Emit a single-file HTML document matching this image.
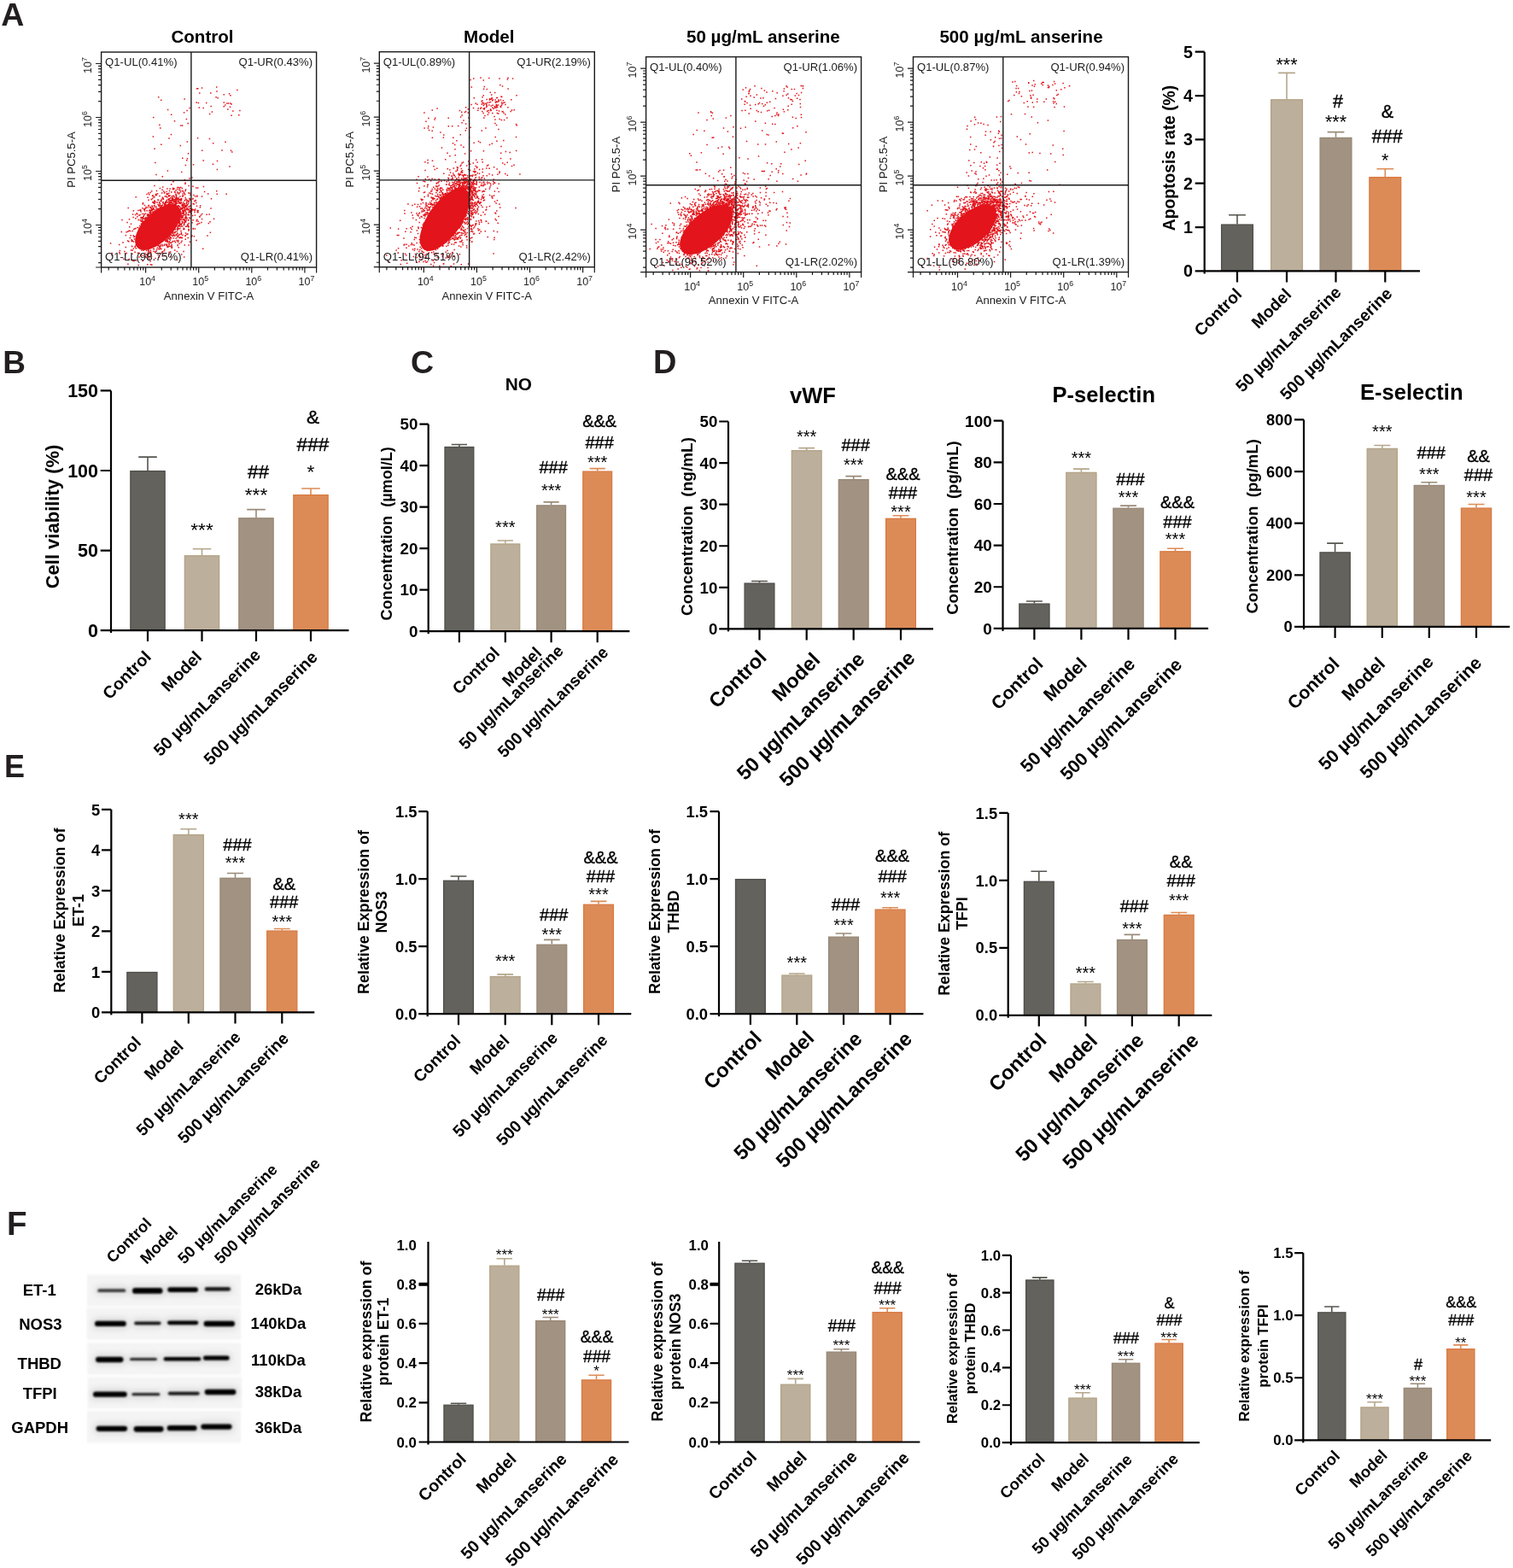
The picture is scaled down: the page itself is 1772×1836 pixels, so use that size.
<!DOCTYPE html>
<html><head><meta charset="utf-8"><title>Figure</title>
<style>html,body{margin:0;padding:0;background:#fff;}svg{display:block;}</style>
</head><body>
<svg width="1772" height="1836" viewBox="0 0 1772 1836" font-family='"Liberation Sans", Arial, Helvetica, sans-serif'>
<rect width="1772" height="1836" fill="#fff"/>
<defs><filter id="bl" x="-20%" y="-200%" width="140%" height="500%"><feGaussianBlur stdDeviation="0.85"/></filter><filter id="bh" x="-30%" y="-300%" width="160%" height="700%"><feGaussianBlur stdDeviation="3.5"/></filter><filter id="bs" x="-5%" y="-20%" width="110%" height="140%"><feGaussianBlur stdDeviation="0.8"/></filter></defs>
<rect x="101.8" y="1492.2" width="180.2" height="37.4" fill="#f4f4f4" filter="url(#bs)"/>
<rect x="101.5" y="1531.2" width="180.5" height="37.4" fill="#f4f4f4" filter="url(#bs)"/>
<rect x="102.2" y="1572.2" width="179.9" height="37.4" fill="#f4f4f4" filter="url(#bs)"/>
<rect x="102.7" y="1612.3" width="180.5" height="36.9" fill="#f4f4f4" filter="url(#bs)"/>
<rect x="101.8" y="1651.9" width="180.3" height="37.5" fill="#f4f4f4" filter="url(#bs)"/>
<rect x="111.3" y="1505.7" width="39" height="11" rx="6" fill="#000" fill-opacity="0.10" filter="url(#bh)"/>
<rect x="152" y="1504.4" width="41.5" height="14" rx="6" fill="#000" fill-opacity="0.10" filter="url(#bh)"/>
<rect x="193.2" y="1503.6" width="41.8" height="13" rx="6" fill="#000" fill-opacity="0.10" filter="url(#bh)"/>
<rect x="236.7" y="1503.7" width="36.3" height="11.4" rx="6" fill="#000" fill-opacity="0.10" filter="url(#bh)"/>
<rect x="108" y="1543.15" width="42.8" height="13.5" rx="6" fill="#000" fill-opacity="0.10" filter="url(#bh)"/>
<rect x="154.2" y="1544" width="37.3" height="10.8" rx="6" fill="#000" fill-opacity="0.10" filter="url(#bh)"/>
<rect x="193" y="1542.85" width="42.3" height="11.9" rx="6" fill="#000" fill-opacity="0.10" filter="url(#bh)"/>
<rect x="235.6" y="1543.2" width="42.4" height="13.6" rx="6" fill="#000" fill-opacity="0.10" filter="url(#bh)"/>
<rect x="109" y="1585.25" width="38.5" height="13.5" rx="6" fill="#000" fill-opacity="0.10" filter="url(#bh)"/>
<rect x="149" y="1586.3" width="37.9" height="10.2" rx="6" fill="#000" fill-opacity="0.10" filter="url(#bh)"/>
<rect x="188.6" y="1585.3" width="49.7" height="11.8" rx="6" fill="#000" fill-opacity="0.10" filter="url(#bh)"/>
<rect x="235" y="1583.9" width="36.7" height="12.4" rx="6" fill="#000" fill-opacity="0.10" filter="url(#bh)"/>
<rect x="106" y="1625.95" width="45.7" height="13.5" rx="6" fill="#000" fill-opacity="0.10" filter="url(#bh)"/>
<rect x="151.4" y="1627.5" width="39" height="10.4" rx="6" fill="#000" fill-opacity="0.10" filter="url(#bh)"/>
<rect x="193.8" y="1626.05" width="42.9" height="11.1" rx="6" fill="#000" fill-opacity="0.10" filter="url(#bh)"/>
<rect x="236.7" y="1623.25" width="42.7" height="13.5" rx="6" fill="#000" fill-opacity="0.10" filter="url(#bh)"/>
<rect x="109.6" y="1666.05" width="42.5" height="13.5" rx="6" fill="#000" fill-opacity="0.10" filter="url(#bh)"/>
<rect x="153.6" y="1666.3" width="41" height="14" rx="6" fill="#000" fill-opacity="0.10" filter="url(#bh)"/>
<rect x="192.7" y="1665.45" width="40.9" height="13.5" rx="6" fill="#000" fill-opacity="0.10" filter="url(#bh)"/>
<rect x="232.3" y="1663.85" width="42.3" height="13.5" rx="6" fill="#000" fill-opacity="0.10" filter="url(#bh)"/>
<rect x="114.3" y="1509.3" width="33" height="3.8" rx="1.9" fill="#3a3a3a" filter="url(#bl)"/>
<rect x="155" y="1508" width="35.5" height="6.8" rx="3.4" fill="#000" filter="url(#bl)"/>
<rect x="196.2" y="1507.2" width="35.8" height="5.8" rx="2.9" fill="#000" filter="url(#bl)"/>
<rect x="239.7" y="1507.3" width="30.3" height="4.2" rx="2.1" fill="#080808" filter="url(#bl)"/>
<rect x="111" y="1546.75" width="36.8" height="6.3" rx="3.15" fill="#000" filter="url(#bl)"/>
<rect x="157.2" y="1547.6" width="31.3" height="3.6" rx="1.8" fill="#101010" filter="url(#bl)"/>
<rect x="196" y="1546.45" width="36.3" height="4.7" rx="2.35" fill="#000" filter="url(#bl)"/>
<rect x="238.6" y="1546.8" width="36.4" height="6.4" rx="3.2" fill="#000" filter="url(#bl)"/>
<rect x="112" y="1588.85" width="32.5" height="6.3" rx="3.15" fill="#000" filter="url(#bl)"/>
<rect x="152" y="1589.9" width="31.9" height="3" rx="1.5" fill="#202020" filter="url(#bl)"/>
<rect x="191.6" y="1588.9" width="43.7" height="4.6" rx="2.3" fill="#000" filter="url(#bl)"/>
<rect x="238" y="1587.5" width="30.7" height="5.2" rx="2.6" fill="#000" filter="url(#bl)"/>
<rect x="109" y="1629.55" width="39.7" height="6.3" rx="3.15" fill="#000" filter="url(#bl)"/>
<rect x="154.4" y="1631.1" width="33" height="3.2" rx="1.6" fill="#202020" filter="url(#bl)"/>
<rect x="196.8" y="1629.65" width="36.9" height="3.9" rx="1.95" fill="#0a0a0a" filter="url(#bl)"/>
<rect x="239.7" y="1626.85" width="36.7" height="6.3" rx="3.15" fill="#000" filter="url(#bl)"/>
<rect x="112.6" y="1669.65" width="36.5" height="6.3" rx="3.15" fill="#000" filter="url(#bl)"/>
<rect x="156.6" y="1669.9" width="35" height="6.8" rx="3.4" fill="#000" filter="url(#bl)"/>
<rect x="195.7" y="1669.05" width="34.9" height="6.3" rx="3.15" fill="#000" filter="url(#bl)"/>
<rect x="235.3" y="1667.45" width="36.3" height="6.3" rx="3.15" fill="#000" filter="url(#bl)"/>
<text x="46.3" y="1517.2" font-size="18.5" font-weight="bold" text-anchor="middle" fill="#000">ET-1</text>
<text x="47.4" y="1556.7" font-size="18.5" font-weight="bold" text-anchor="middle" fill="#000">NOS3</text>
<text x="46.3" y="1603" font-size="18.5" font-weight="bold" text-anchor="middle" fill="#000">THBD</text>
<text x="46.7" y="1638" font-size="18.5" font-weight="bold" text-anchor="middle" fill="#000">TFPI</text>
<text x="46.7" y="1677.5" font-size="18.5" font-weight="bold" text-anchor="middle" fill="#000">GAPDH</text>
<text x="326" y="1516.1" font-size="18.5" font-weight="bold" text-anchor="middle" fill="#000">26kDa</text>
<text x="326" y="1556.3" font-size="18.5" font-weight="bold" text-anchor="middle" fill="#000">140kDa</text>
<text x="326" y="1599.2" font-size="18.5" font-weight="bold" text-anchor="middle" fill="#000">110kDa</text>
<text x="326" y="1635.8" font-size="18.5" font-weight="bold" text-anchor="middle" fill="#000">38kDa</text>
<text x="326" y="1677.5" font-size="18.5" font-weight="bold" text-anchor="middle" fill="#000">36kDa</text>
<text x="132.3" y="1479.8" font-size="18.4" font-weight="bold" transform="rotate(-45 132.3 1479.8)" fill="#000">Control</text>
<text x="171.8" y="1480.9" font-size="18.4" font-weight="bold" transform="rotate(-45 171.8 1480.9)" fill="#000">Model</text>
<text x="215.8" y="1480.9" font-size="18.4" font-weight="bold" transform="rotate(-45 215.8 1480.9)" fill="#000">50 µg/mLanserine</text>
<text x="258.7" y="1480.9" font-size="18.4" font-weight="bold" transform="rotate(-45 258.7 1480.9)" fill="#000">500 µg/mLanserine</text>
<path d="M218.9 243.6h0M160.9 279.1h0M180.0 231.0h0M212.3 232.9h0M221.5 251.8h0M151.2 303.6h0M195.5 287.6h0M197.9 284.8h0M149.1 260.5h0M151.1 270.2h0M197.4 238.8h0M179.2 228.9h0M187.0 236.8h0M165.2 255.5h0M190.5 294.8h0M203.2 276.1h0M228.4 251.9h0M179.7 291.4h0M224.6 247.0h0M172.5 251.7h0M234.4 242.7h0M169.1 246.0h0M156.9 277.5h0M166.4 259.5h0M215.3 267.3h0M214.8 252.4h0M171.8 255.4h0M195.3 237.1h0M214.6 243.0h0M229.1 234.4h0M176.9 249.9h0M209.6 264.3h0M166.3 255.0h0M194.9 282.8h0M176.6 243.4h0M175.1 252.0h0M191.4 233.3h0M164.0 267.1h0M208.1 287.6h0M195.7 234.3h0M212.5 273.0h0M157.8 276.7h0M197.9 288.1h0M172.8 309.8h0M184.6 226.7h0M162.5 270.4h0M199.5 236.4h0M214.0 226.9h0M159.5 304.8h0M198.0 236.2h0M212.3 236.9h0M153.2 275.7h0M212.1 263.2h0M207.4 294.6h0M173.9 297.4h0M217.3 280.3h0M171.4 258.9h0M161.9 246.4h0M131.2 296.5h0M183.4 228.4h0M223.0 228.3h0M213.0 278.7h0M168.2 253.3h0M215.7 262.5h0M220.8 225.9h0M139.7 286.4h0M212.3 262.1h0M236.5 229.9h0M216.5 251.5h0M187.6 245.0h0M173.4 298.4h0M219.2 255.4h0M206.2 278.9h0M198.2 239.0h0M221.1 236.2h0M220.1 262.6h0M181.8 248.3h0M184.1 237.0h0M195.1 240.0h0M188.0 288.5h0M211.2 224.5h0M154.7 281.8h0M174.3 294.1h0M211.5 224.8h0M192.8 243.5h0M216.9 276.3h0M218.2 250.5h0M175.0 251.6h0M195.9 220.9h0M218.0 245.0h0M221.2 217.4h0M202.9 221.8h0M212.7 297.9h0M224.3 276.8h0M198.0 279.1h0M222.8 241.1h0M193.1 286.0h0M236.7 250.6h0M179.6 247.9h0M210.3 220.3h0M180.5 241.2h0M209.4 275.5h0M154.5 288.3h0M214.9 268.4h0M165.3 259.3h0M211.5 250.9h0M203.8 275.0h0M174.7 246.6h0M159.2 230.7h0M214.2 241.8h0M189.9 244.7h0M169.9 300.8h0M199.6 237.9h0M160.9 250.7h0M208.7 241.2h0M200.7 278.4h0M208.1 287.0h0M174.9 255.4h0M200.4 275.3h0M178.3 242.3h0M196.1 280.0h0M209.8 263.6h0M214.3 223.8h0M150.8 282.8h0M161.2 272.7h0M212.7 237.6h0M161.6 266.6h0M212.3 254.4h0M167.4 237.8h0M203.6 236.6h0M217.4 193.4h0M209.4 267.7h0M165.0 247.8h0M180.5 291.5h0M195.0 280.7h0M158.9 267.5h0M189.8 295.3h0M163.0 252.3h0M179.0 244.8h0M212.8 254.9h0M220.4 251.1h0M148.3 296.6h0M131.2 299.0h0M168.0 263.3h0M193.2 229.9h0M173.2 243.0h0M170.6 255.4h0M151.5 256.8h0M167.8 255.4h0M207.3 268.1h0M202.7 220.2h0M213.4 220.4h0M183.8 291.9h0M189.9 286.4h0M182.3 241.9h0M233.7 253.5h0M237.7 291.2h0M185.0 234.1h0M229.7 237.6h0M160.3 286.6h0M198.7 277.1h0M210.1 278.4h0M193.8 236.6h0M215.4 225.2h0M234.1 254.1h0M154.8 297.3h0M170.1 259.0h0M220.7 245.8h0M203.0 212.8h0M199.8 279.0h0M179.2 248.1h0M217.6 260.0h0M189.2 241.0h0M195.5 240.8h0M226.8 245.8h0M207.8 273.2h0M153.6 292.9h0M214.5 248.7h0M177.5 245.1h0M206.2 236.8h0M211.2 253.5h0M179.3 236.9h0M180.8 236.8h0M187.0 289.6h0M192.2 293.8h0M160.8 253.7h0M185.6 245.5h0M218.5 238.4h0M178.6 229.4h0M219.8 273.9h0M228.7 245.1h0M199.6 295.1h0M190.5 288.1h0M146.0 294.6h0M163.0 268.1h0M156.2 275.8h0M205.3 235.7h0M228.4 268.0h0M219.0 241.0h0M215.9 260.9h0M182.9 242.1h0M144.8 303.2h0M173.6 293.0h0M167.9 259.0h0M174.3 252.2h0M186.0 287.8h0M206.6 228.9h0M175.7 249.9h0M198.3 229.3h0M212.6 232.7h0M204.8 240.6h0M190.0 222.2h0M198.5 223.4h0M160.1 249.8h0M204.2 272.0h0M166.3 257.3h0M178.0 246.5h0M213.6 259.5h0M144.0 283.9h0M195.4 286.0h0M217.3 255.7h0M209.5 245.1h0M196.3 283.5h0M176.5 309.8h0M212.0 257.2h0M198.9 229.0h0M195.9 281.7h0M187.4 220.5h0M155.3 293.0h0M254.4 198.4h0M231.3 248.2h0M168.7 244.7h0M180.3 243.5h0M208.5 276.6h0M216.6 259.5h0M178.6 232.6h0M216.4 257.2h0M173.5 255.4h0M221.4 241.9h0M199.2 221.0h0M202.8 282.6h0M217.3 247.9h0M173.1 231.2h0M193.6 240.5h0M201.8 234.8h0M181.8 295.7h0M188.1 287.0h0M174.3 302.0h0M206.5 236.5h0M193.0 239.1h0M184.2 237.0h0M201.8 276.2h0M198.8 283.3h0M209.6 264.8h0M163.3 296.5h0M201.4 290.3h0M182.9 246.5h0M166.4 261.5h0M209.1 261.0h0M217.5 273.1h0M175.7 295.4h0M195.8 282.6h0M209.1 240.8h0M230.8 257.3h0M212.2 251.4h0M220.5 264.5h0M172.6 299.9h0M168.2 252.9h0M200.3 234.7h0M173.5 251.3h0M211.2 278.0h0M164.7 246.3h0M155.2 270.6h0M216.3 210.6h0M232.2 246.8h0M142.3 271.5h0M170.0 255.5h0M201.9 240.3h0M176.8 298.7h0M165.3 262.2h0M198.5 237.2h0M196.4 227.2h0M201.3 237.2h0M177.9 310.3h0M176.5 253.6h0M217.0 246.2h0M174.7 227.7h0M179.7 250.9h0M174.5 254.5h0M196.2 281.9h0M217.7 265.3h0M226.6 192.7h0M221.2 287.1h0M177.5 300.5h0M175.3 253.8h0M233.7 261.5h0M214.2 250.4h0M161.2 266.6h0M169.0 251.5h0M220.9 248.6h0M173.8 292.5h0M224.5 246.6h0M196.8 278.4h0M204.6 282.2h0M191.2 236.4h0M157.0 305.8h0M195.5 234.3h0M140.4 293.6h0M208.6 277.1h0M174.2 240.5h0M211.6 254.4h0M148.1 271.7h0M206.0 222.9h0M206.6 233.8h0M216.9 215.2h0M230.0 281.6h0M215.7 300.9h0M152.6 270.5h0M208.0 269.2h0M172.7 255.0h0M176.2 225.5h0M178.3 245.7h0M214.2 243.4h0M226.9 228.5h0M193.9 282.4h0M178.1 241.0h0M212.1 257.2h0M217.1 214.0h0M213.9 260.1h0M206.1 274.9h0M207.1 271.1h0M215.3 239.0h0M205.3 237.2h0M217.3 275.8h0M221.2 265.8h0M205.5 283.7h0M166.0 262.9h0M214.9 236.9h0M173.8 241.0h0M214.7 229.1h0M216.3 234.8h0M189.4 233.3h0M180.7 235.5h0M188.1 235.1h0M207.9 241.2h0M217.5 242.0h0M221.0 270.0h0M197.3 241.2h0M216.2 234.5h0M176.0 306.1h0M168.1 260.1h0M170.9 243.8h0M177.7 223.8h0M179.8 245.3h0M214.7 256.7h0M160.0 287.6h0M198.7 275.9h0M206.5 237.0h0M175.7 243.1h0M182.9 243.8h0M195.7 280.9h0M189.7 226.0h0M177.6 246.3h0M169.2 256.7h0M194.8 287.0h0M165.0 298.3h0M230.3 258.8h0M212.0 270.6h0M159.3 287.1h0M171.3 301.1h0M206.6 233.3h0M165.2 254.4h0M162.2 310.5h0M173.7 295.3h0M201.0 289.9h0M213.4 245.0h0M221.7 232.5h0M192.8 292.0h0M221.3 261.6h0M195.8 231.0h0M201.7 276.0h0M226.0 218.2h0M140.4 296.9h0M212.4 272.5h0M156.4 290.9h0M246.4 272.2h0M223.6 248.0h0M202.8 274.1h0M221.3 245.5h0M208.7 283.1h0M200.9 287.9h0M207.0 281.5h0M183.3 293.9h0M213.3 240.3h0M230.9 229.9h0M225.6 252.5h0M213.2 253.6h0M197.6 239.9h0M155.2 305.0h0M187.6 238.8h0M185.0 244.3h0M209.9 285.3h0M198.0 277.0h0M186.6 211.2h0M222.6 255.6h0M183.9 245.2h0M196.1 289.4h0M177.0 252.7h0M197.8 238.8h0M169.9 255.6h0M226.3 238.5h0M185.9 291.5h0M220.8 265.4h0M213.2 278.3h0M198.1 286.2h0M202.5 221.2h0M210.6 263.4h0M204.8 276.2h0M177.1 243.5h0M194.1 281.5h0M196.4 200.1h0M225.0 276.1h0M208.3 265.7h0M212.5 232.5h0M150.2 243.6h0M167.3 260.6h0M226.2 268.1h0M190.2 299.5h0M186.5 288.9h0M185.2 298.2h0M194.9 230.0h0M231.2 246.4h0M158.3 288.6h0M211.6 247.8h0M170.0 296.5h0M199.5 281.1h0M200.7 216.0h0M217.6 250.8h0M158.1 289.3h0M176.5 295.1h0M172.2 246.8h0M166.3 254.7h0M222.4 226.2h0M213.9 275.2h0M217.2 231.4h0M182.0 294.6h0M164.8 267.4h0M210.5 261.2h0M166.9 243.7h0M178.7 229.0h0M175.7 245.9h0M238.4 218.4h0M212.4 255.4h0M191.3 232.4h0M198.2 234.5h0M199.4 277.6h0M225.1 260.7h0M158.0 267.8h0M177.3 233.4h0M192.7 299.5h0M209.9 226.1h0M211.1 265.6h0M225.0 245.1h0M167.4 256.2h0M201.2 230.1h0M182.0 302.5h0M216.0 245.2h0M217.3 240.5h0M212.1 274.5h0M221.3 268.9h0M207.8 273.6h0M179.0 248.6h0M174.8 254.1h0M175.1 248.5h0M197.1 288.9h0M173.2 250.7h0M176.9 296.4h0M222.2 247.0h0M226.4 267.4h0M218.7 236.6h0M175.8 242.3h0M210.1 274.4h0M220.2 278.4h0M192.7 239.1h0M180.1 238.0h0M164.3 257.7h0M212.7 234.0h0M192.4 287.3h0M218.6 257.5h0M202.3 232.7h0M222.4 283.2h0M210.8 263.1h0M212.2 274.3h0M198.0 295.5h0M178.8 236.8h0M156.5 282.9h0M188.8 235.1h0M206.2 239.0h0M200.3 274.9h0M213.6 264.9h0M189.1 235.6h0M213.0 282.2h0M170.9 254.4h0M167.2 259.5h0M224.9 208.0h0M220.1 251.5h0M218.0 240.6h0M208.8 281.6h0M152.3 278.6h0M188.6 242.9h0M199.3 288.6h0M192.6 241.9h0M167.4 239.1h0M217.8 252.7h0M161.7 296.2h0M222.6 246.9h0M155.3 282.2h0M205.3 268.7h0M171.0 256.0h0M153.5 262.2h0M139.8 295.6h0M209.9 222.2h0M190.7 219.0h0M222.0 209.1h0M200.3 236.0h0M187.3 242.9h0M166.0 255.0h0M172.2 246.7h0M198.8 237.4h0M168.8 260.3h0M175.3 253.4h0M218.0 248.8h0M201.1 286.4h0M221.0 268.6h0M247.0 244.1h0M226.0 232.6h0M210.6 259.0h0M211.7 245.2h0M192.8 292.0h0M181.0 235.1h0M207.6 277.5h0M245.1 251.1h0M185.9 241.0h0M171.4 298.2h0M174.0 234.2h0M202.8 238.1h0M227.4 276.8h0M211.8 219.6h0M217.1 223.5h0M208.2 282.8h0M201.4 288.9h0M173.4 254.5h0M200.7 235.5h0M195.1 227.6h0M157.4 280.1h0M165.8 293.1h0M197.6 234.2h0M216.0 226.5h0M195.8 226.7h0M179.2 243.9h0M194.6 229.9h0M205.9 234.0h0M206.0 227.5h0M190.7 243.8h0M187.0 229.4h0M219.0 265.0h0M158.1 295.2h0M207.8 219.4h0M194.8 235.5h0M204.8 293.1h0M220.3 235.6h0M210.6 246.6h0M190.3 206.8h0M163.7 267.0h0M167.6 254.3h0M214.2 254.7h0M164.1 251.5h0M169.9 244.4h0M146.7 298.1h0M176.8 248.4h0M186.8 240.1h0M180.7 248.0h0M202.0 272.9h0M182.8 227.3h0M212.7 252.5h0M213.0 240.7h0M222.4 248.8h0M190.3 231.2h0M156.1 254.4h0M209.1 289.7h0M174.7 253.0h0M154.7 288.6h0M196.7 239.7h0M219.5 243.9h0M211.6 277.8h0M192.8 225.3h0M192.3 238.3h0M185.5 244.8h0M129.6 285.1h0M181.2 238.5h0M147.4 275.5h0M185.5 234.5h0M176.4 252.4h0M216.6 227.7h0M188.9 291.4h0M215.5 263.5h0M217.7 258.7h0M169.6 247.1h0M167.6 299.2h0M171.2 291.6h0M197.4 232.9h0M198.5 280.1h0M236.0 260.4h0M212.1 284.1h0M184.9 287.5h0M159.7 279.2h0M165.1 254.9h0M166.5 258.5h0M160.5 278.6h0M213.4 223.5h0M212.6 249.6h0M265.2 227.3h0M204.8 272.8h0M168.6 250.4h0M186.8 291.7h0M219.9 263.6h0M151.7 265.7h0M220.8 238.5h0M209.1 263.8h0M159.9 279.1h0M173.9 226.0h0M191.6 223.9h0M166.6 250.6h0M211.4 248.9h0M217.7 242.2h0M223.4 247.3h0M163.8 264.6h0M167.3 305.4h0M225.9 233.0h0M230.8 229.3h0M200.7 284.3h0M235.3 251.9h0M217.3 241.2h0M215.9 246.4h0M228.3 246.6h0M202.2 231.5h0M229.2 235.0h0M216.5 243.9h0M197.9 226.2h0M210.9 222.4h0M232.1 259.3h0M194.0 281.2h0M149.9 309.2h0M163.9 246.2h0M147.3 289.4h0M173.4 252.6h0M217.4 241.0h0M171.6 293.5h0M172.1 227.5h0M215.3 250.3h0M164.4 245.7h0M219.0 245.7h0M170.6 249.9h0M222.3 244.3h0M217.6 221.9h0M215.9 268.3h0M180.0 294.3h0M210.0 245.7h0M176.6 246.7h0M216.7 255.0h0M197.9 279.6h0M212.3 263.1h0M180.8 240.7h0M162.2 257.6h0M202.1 282.9h0M206.2 231.6h0M159.3 290.8h0M192.8 240.9h0M209.6 227.1h0M198.0 297.7h0M214.6 239.2h0M186.6 237.4h0M212.8 265.0h0M234.6 240.8h0M227.3 239.0h0M206.1 228.6h0M203.4 233.5h0M203.4 278.7h0M207.6 221.5h0M214.9 249.2h0M168.0 293.2h0M210.8 256.8h0M210.8 267.8h0M215.2 246.8h0M206.9 237.4h0M163.0 301.0h0M154.3 282.5h0M187.7 290.7h0M196.3 288.5h0M215.1 294.4h0M166.3 259.0h0M176.4 247.7h0M210.6 260.2h0M208.0 238.2h0M211.0 278.6h0M202.4 232.6h0M182.9 246.1h0M202.6 272.1h0M207.5 273.5h0M156.7 268.6h0M222.7 233.1h0M213.5 239.2h0M156.4 246.7h0M169.6 256.6h0M204.0 221.0h0M199.9 284.4h0M186.5 300.9h0M158.9 255.7h0M164.7 299.4h0M158.6 251.4h0M199.8 300.6h0M203.7 235.5h0M182.1 236.6h0M149.6 281.9h0M176.4 293.3h0M204.8 234.2h0M172.7 252.7h0M184.4 289.9h0M154.1 304.3h0M211.5 253.1h0M155.6 250.9h0M207.5 304.2h0M209.8 259.8h0M216.6 257.9h0M143.0 257.4h0M207.2 275.3h0M216.9 246.4h0M182.2 228.4h0M208.3 266.9h0M223.5 233.4h0M167.2 261.1h0M216.4 238.5h0M198.0 282.8h0M173.4 296.4h0M154.1 280.7h0M186.1 245.2h0M236.6 256.6h0M175.0 304.0h0M216.3 286.9h0M218.8 274.6h0M220.4 235.2h0M220.9 257.6h0M205.3 271.6h0M149.8 271.2h0M189.8 297.1h0M169.5 240.6h0M227.6 235.6h0M209.1 234.2h0M250.5 256.2h0M199.4 239.7h0M217.0 241.2h0M215.2 248.2h0M180.9 230.5h0M199.7 256.5h0M194.3 248.2h0M209.1 252.2h0M197.9 254.5h0M192.4 249.6h0M196.6 236.8h0M197.8 229.9h0M194.3 246.8h0M210.6 242.6h0M213.9 230.0h0M203.1 250.3h0M212.2 243.8h0M226.2 245.7h0M192.3 246.4h0M188.7 253.0h0M200.5 240.0h0M206.6 242.7h0M183.5 223.6h0M200.5 245.7h0M209.2 241.3h0M195.4 244.7h0M195.2 243.9h0M188.4 240.8h0M184.7 260.5h0M199.1 252.4h0M199.1 243.4h0M204.8 236.5h0M199.0 240.3h0M210.0 236.8h0M207.4 249.6h0M196.5 244.6h0M209.7 248.7h0M206.9 258.0h0M194.1 261.7h0M193.8 237.8h0M210.1 264.1h0M194.7 230.1h0M204.0 239.2h0M223.6 247.3h0M196.8 251.3h0M210.9 230.1h0M231.9 248.8h0M203.6 242.6h0M222.9 246.8h0M206.1 227.5h0M197.4 228.7h0M205.8 248.5h0M171.2 242.6h0M186.1 248.2h0M207.9 233.6h0M203.9 246.5h0M206.1 262.2h0M207.3 231.7h0M204.4 245.1h0M203.0 241.6h0M213.6 261.4h0M218.7 237.5h0M197.2 249.6h0M206.8 262.5h0M209.4 236.3h0M189.1 245.6h0M221.3 236.6h0M203.9 245.3h0M197.5 253.5h0M216.4 244.1h0M185.1 239.4h0M203.2 244.5h0M203.5 244.8h0M196.6 243.4h0M211.6 237.8h0M209.8 248.8h0M213.7 241.1h0M185.0 247.9h0M220.7 257.9h0M213.3 259.3h0M200.5 252.3h0M197.7 239.5h0M208.4 240.9h0M194.7 251.1h0M205.9 256.6h0M190.5 240.0h0M198.6 241.7h0M211.0 233.3h0M214.5 239.3h0M215.3 257.3h0M222.2 234.6h0M200.0 250.5h0M213.2 239.9h0M211.8 244.3h0M198.2 238.3h0M216.1 242.8h0M200.1 260.8h0M205.6 232.6h0M204.8 241.8h0M200.4 246.5h0M181.1 245.9h0M193.8 248.5h0M209.5 219.6h0M208.6 249.5h0M206.1 236.9h0M216.2 251.4h0M194.2 244.9h0M217.7 254.1h0M214.6 242.5h0M215.6 257.7h0M224.2 249.9h0M208.2 248.7h0M202.9 244.0h0M203.9 239.3h0M203.7 242.3h0M208.3 242.7h0M207.6 247.9h0M206.6 265.0h0M213.6 229.5h0M191.1 252.2h0M214.7 241.1h0M206.0 243.3h0M202.1 250.7h0M193.9 237.3h0M210.6 237.2h0M204.1 246.8h0M183.7 250.2h0M203.7 260.8h0M228.7 230.0h0M204.0 239.8h0M202.5 233.9h0M192.5 226.1h0M197.0 248.0h0M207.8 268.2h0M218.2 234.4h0M202.2 256.7h0M211.1 245.8h0M192.7 242.6h0M180.9 256.5h0M210.7 249.4h0M201.4 232.5h0M202.7 250.0h0M219.5 239.8h0M188.7 249.1h0M213.7 243.4h0M210.2 260.4h0M200.0 249.4h0M208.7 250.0h0M206.2 253.2h0M202.8 229.6h0M207.0 247.3h0M202.9 240.4h0M206.5 230.5h0M217.0 241.1h0M200.8 240.7h0M189.7 246.7h0M205.8 252.6h0M205.3 246.0h0M223.0 241.5h0M205.4 238.7h0M200.1 243.4h0M188.9 241.6h0M209.1 253.9h0M209.7 261.5h0M211.1 238.5h0M202.1 252.8h0M221.7 255.0h0M210.0 257.9h0M208.7 247.9h0M213.8 245.1h0M199.9 231.8h0M195.7 246.1h0M202.1 260.0h0M195.2 224.4h0M190.7 237.8h0M194.0 239.3h0M206.0 241.2h0M199.3 245.7h0M199.8 250.1h0M204.4 241.7h0M208.6 235.9h0M199.1 234.5h0M200.0 237.8h0M202.7 234.0h0M192.2 258.5h0M226.1 257.8h0M205.2 225.6h0M212.9 243.4h0M199.6 248.4h0M209.4 257.8h0M224.6 246.7h0M197.4 245.5h0M190.5 240.5h0M193.1 252.2h0M216.5 241.5h0M208.6 247.3h0M211.7 243.4h0M214.6 239.0h0M214.3 254.8h0M203.4 247.8h0M204.7 249.1h0M210.5 246.1h0M201.5 251.2h0M208.4 265.2h0M193.0 261.3h0M207.9 251.0h0M197.6 240.1h0M207.4 244.0h0M190.0 244.5h0M204.6 239.6h0M214.1 254.8h0M195.6 241.0h0M198.2 245.4h0M214.1 247.7h0M202.1 239.2h0M219.0 255.5h0M208.7 232.9h0M213.6 245.1h0M194.0 256.5h0M209.2 231.7h0M201.2 242.4h0M198.4 249.4h0M214.3 240.5h0M224.1 246.2h0M221.9 248.1h0M214.1 256.9h0M198.0 253.8h0M195.5 243.4h0M205.0 251.5h0M186.4 245.4h0M203.6 229.2h0M186.5 241.3h0M188.7 246.5h0M193.0 239.8h0M197.7 245.9h0M207.9 224.9h0M182.7 250.8h0M193.4 247.7h0M207.3 245.4h0M204.3 247.6h0M192.2 244.9h0M208.0 250.9h0M210.6 242.1h0M205.7 245.6h0M196.6 245.0h0M206.0 240.3h0M205.1 254.3h0M198.1 265.0h0M205.4 249.4h0M213.8 246.8h0M197.6 242.3h0M210.6 248.1h0M176.6 259.1h0M200.8 238.1h0M209.7 237.0h0M208.6 235.7h0M203.0 243.7h0M213.3 249.7h0M200.8 224.9h0M195.9 247.6h0M211.2 234.4h0M205.2 241.4h0M218.5 254.9h0M208.0 226.1h0M201.6 240.0h0M204.3 230.8h0M215.6 257.8h0M201.6 241.5h0M199.7 243.7h0M209.8 257.6h0M204.3 243.8h0M217.8 233.2h0M213.7 252.8h0M210.3 238.2h0M210.0 249.1h0M221.2 242.2h0M210.4 233.8h0M206.3 243.5h0M197.8 240.8h0M222.9 248.2h0M204.9 233.8h0M198.8 246.6h0M206.0 256.9h0M204.0 242.5h0M203.6 244.6h0M203.1 245.3h0M210.3 255.5h0M199.6 231.8h0M209.9 257.9h0M202.9 249.9h0M196.5 245.6h0M199.3 240.9h0M197.6 240.1h0M200.1 245.4h0M205.1 252.5h0M202.8 235.2h0M201.4 233.9h0M213.7 253.5h0M190.8 232.0h0M215.6 239.9h0M204.6 224.5h0M216.2 260.0h0M206.9 235.0h0M220.2 245.1h0M201.3 262.0h0M194.6 249.6h0M191.8 250.8h0M198.4 232.8h0M223.9 244.6h0M194.3 230.0h0M196.2 254.1h0M202.8 233.7h0M219.3 234.5h0M203.0 247.8h0M202.5 245.5h0M181.0 217.5h0M207.7 233.3h0M211.9 235.1h0M188.1 242.4h0M199.4 243.4h0M218.9 236.8h0M201.0 252.9h0M199.4 234.6h0M205.6 248.8h0M255.1 114.8h0M279.8 134.8h0M272.9 129.9h0M245.6 133.6h0M254.0 107.0h0M262.3 124.7h0M253.1 113.8h0M268.6 109.8h0M267.6 120.9h0M247.2 124.4h0M230.2 120.0h0M262.3 110.8h0M248.4 131.0h0M263.7 123.1h0M233.8 109.1h0M269.5 125.2h0M253.7 102.1h0M230.7 103.8h0M277.9 105.5h0M265.9 120.9h0M269.9 121.1h0M238.2 126.4h0M262.3 119.9h0M269.9 111.7h0M231.8 103.8h0M246.8 108.9h0M271.1 122.0h0M233.3 125.9h0M280.9 129.6h0M266.8 127.9h0M236.5 103.0h0M271.1 135.2h0M241.7 120.4h0M232.4 120.4h0M249.7 167.8h0M254.5 188.4h0M269.0 194.9h0M271.8 177.9h0M236.7 176.2h0M264.0 166.3h0M238.2 188.0h0M270.5 176.2h0M260.0 175.9h0M245.4 162.4h0M231.6 161.7h0M249.4 192.2h0M216.1 115.9h0M185.7 113.7h0M213.6 147.0h0M213.8 185.2h0M179.7 137.4h0M222.1 126.4h0M212.7 201.6h0M187.8 150.1h0M220.2 144.6h0M219.4 185.7h0M219.1 129.6h0M215.6 131.8h0M220.5 179.8h0M181.1 174.2h0M211.3 170.6h0M181.9 190.5h0M200.5 157.6h0M219.3 165.9h0M186.9 146.2h0M179.4 160.1h0M188.8 169.3h0M200.7 134.3h0M218.7 187.8h0M198.0 162.1h0M196.6 128.5h0M188.7 117.2h0M204.5 141.7h0M211.8 147.1h0M183.0 204.6h0M218.4 139.5h0M243.7 227.0h0M247.5 232.7h0M229.8 220.1h0M254.2 227.3h0M239.6 224.4h0M230.5 241.2h0M232.0 261.9h0M230.8 263.1h0M253.7 223.7h0M228.0 248.4h0M246.0 259.8h0M242.1 251.3h0M244.3 261.6h0M231.7 220.1h0M243.0 276.0h0" stroke="#e3141b" stroke-width="1.5" stroke-linecap="square" fill="none"/>
<ellipse cx="185" cy="266" rx="34" ry="17" transform="rotate(-45 185 266)" fill="#e3141b"/>
<rect x="118.6" y="61" width="252" height="252" fill="none" stroke="#1a1a1a" stroke-width="1.4"/>
<path d="M223.9 61V313M118.6 211.2H370.6" stroke="#1a1a1a" stroke-width="1.4" fill="none"/>
<path d="M115.1 307.54H118.6M115.1 296.44H118.6M115.1 288.57H118.6M115.1 282.46H118.6M115.1 277.48H118.6M115.1 273.26H118.6M115.1 269.61H118.6M115.1 266.38H118.6M112.1 263.5H118.6M115.1 244.54H118.6M115.1 233.44H118.6M115.1 225.57H118.6M115.1 219.46H118.6M115.1 214.48H118.6M115.1 210.26H118.6M115.1 206.61H118.6M115.1 203.38H118.6M112.1 200.5H118.6M115.1 181.54H118.6M115.1 170.44H118.6M115.1 162.57H118.6M115.1 156.46H118.6M115.1 151.48H118.6M115.1 147.26H118.6M115.1 143.61H118.6M115.1 140.38H118.6M112.1 137.5H118.6M115.1 118.54H118.6M115.1 107.44H118.6M115.1 99.57H118.6M115.1 93.46H118.6M115.1 88.48H118.6M115.1 84.26H118.6M115.1 80.61H118.6M115.1 77.38H118.6M112.1 74.5H118.6M112.1 313H118.6M127.19 313V316.5M138.13 313V316.5M145.89 313V316.5M151.91 313V316.5M156.82 313V316.5M160.98 313V316.5M164.58 313V316.5M167.76 313V316.5M170.6 313V319.5M189.29 313V316.5M200.23 313V316.5M207.99 313V316.5M214.01 313V316.5M218.92 313V316.5M223.08 313V316.5M226.68 313V316.5M229.86 313V316.5M232.7 313V319.5M251.39 313V316.5M262.33 313V316.5M270.09 313V316.5M276.11 313V316.5M281.02 313V316.5M285.18 313V316.5M288.78 313V316.5M291.96 313V316.5M294.8 313V319.5M313.49 313V316.5M324.43 313V316.5M332.19 313V316.5M338.21 313V316.5M343.12 313V316.5M347.28 313V316.5M350.88 313V316.5M354.06 313V316.5M356.9 313V319.5M118.6 313V319.5M370.6 313V319.5" stroke="#1a1a1a" stroke-width="1.2" fill="none"/>
<text x="172.6" y="334" font-size="12.5" text-anchor="middle" fill="#222">10<tspan dy="-5" font-size="8.8">4</tspan></text>
<text x="107.1" y="265.5" font-size="12.5" text-anchor="middle" fill="#222" transform="rotate(-90 107.1 265.5)">10<tspan dy="-5" font-size="8.8">4</tspan></text>
<text x="234.7" y="334" font-size="12.5" text-anchor="middle" fill="#222">10<tspan dy="-5" font-size="8.8">5</tspan></text>
<text x="107.1" y="202.5" font-size="12.5" text-anchor="middle" fill="#222" transform="rotate(-90 107.1 202.5)">10<tspan dy="-5" font-size="8.8">5</tspan></text>
<text x="296.8" y="334" font-size="12.5" text-anchor="middle" fill="#222">10<tspan dy="-5" font-size="8.8">6</tspan></text>
<text x="107.1" y="139.5" font-size="12.5" text-anchor="middle" fill="#222" transform="rotate(-90 107.1 139.5)">10<tspan dy="-5" font-size="8.8">6</tspan></text>
<text x="358.9" y="334" font-size="12.5" text-anchor="middle" fill="#222">10<tspan dy="-5" font-size="8.8">7</tspan></text>
<text x="107.1" y="76.5" font-size="12.5" text-anchor="middle" fill="#222" transform="rotate(-90 107.1 76.5)">10<tspan dy="-5" font-size="8.8">7</tspan></text>
<text x="123.1" y="77" font-size="13.1" fill="#1a1a1a">Q1-UL(0.41%)</text>
<text x="366.1" y="77" font-size="13.1" text-anchor="end" fill="#1a1a1a">Q1-UR(0.43%)</text>
<text x="123.1" y="305.2" font-size="13.1" fill="#1a1a1a">Q1-LL(98.75%)</text>
<text x="366.1" y="305.2" font-size="13.1" text-anchor="end" fill="#1a1a1a">Q1-LR(0.41%)</text>
<text x="244.6" y="350.8" font-size="13.1" text-anchor="middle" fill="#1a1a1a">Annexin V FITC-A</text>
<text x="88.1" y="187" font-size="13.1" text-anchor="middle" transform="rotate(-90 88.1 187)" fill="#1a1a1a">PI PC5.5-A</text>
<text x="237" y="49.5" font-size="20.6" font-weight="bold" text-anchor="middle" fill="#000">Control</text>
<path d="M553.8 218.2h0M507.9 295.1h0M547.4 254.8h0M565.2 201.5h0M527.5 217.4h0M501.9 249.8h0M518.2 300.1h0M577.7 212.6h0M499.1 237.6h0M550.6 263.9h0M524.9 208.6h0M497.6 252.7h0M512.7 222.3h0M566.3 223.5h0M564.4 232.1h0M491.4 249.2h0M503.0 242.8h0M547.4 272.4h0M530.1 225.8h0M533.4 280.1h0M504.1 248.2h0M536.7 219.9h0M503.6 236.9h0M490.9 306.4h0M493.2 253.6h0M546.8 276.8h0M544.9 261.7h0M466.3 296.0h0M500.0 240.7h0M474.0 249.9h0M509.9 229.6h0M521.0 229.4h0M556.7 222.4h0M547.0 249.1h0M503.6 252.2h0M538.3 272.2h0M516.9 223.2h0M548.8 229.5h0M519.7 308.7h0M536.0 216.0h0M523.3 212.8h0M534.2 284.0h0M496.4 225.6h0M513.7 230.7h0M563.5 233.8h0M551.3 234.1h0M469.3 309.6h0M552.2 264.5h0M570.5 194.2h0M545.6 205.1h0M582.9 204.2h0M524.0 229.2h0M481.0 266.8h0M496.0 306.4h0M489.5 239.5h0M554.6 242.2h0M494.6 294.8h0M493.6 233.3h0M586.7 179.2h0M535.6 199.7h0M548.8 250.4h0M546.1 252.0h0M561.3 262.4h0M491.2 220.3h0M522.6 216.1h0M567.5 224.0h0M523.4 223.4h0M501.7 239.0h0M519.5 227.6h0M549.6 258.4h0M604.5 160.4h0M521.8 226.7h0M541.2 213.5h0M507.2 233.8h0M563.2 257.5h0M505.1 231.1h0M559.0 240.4h0M557.2 232.1h0M557.1 263.1h0M518.1 231.7h0M550.0 241.2h0M554.4 212.4h0M506.4 240.2h0M545.4 253.4h0M530.2 224.6h0M536.2 280.3h0M529.0 206.0h0M516.4 228.9h0M515.0 225.2h0M524.5 299.8h0M477.9 239.0h0M533.7 277.9h0M546.7 194.1h0M518.8 287.7h0M500.4 293.4h0M529.6 220.4h0M517.0 220.3h0M505.9 231.9h0M523.2 221.9h0M544.3 204.5h0M513.3 301.6h0M497.3 246.7h0M557.1 261.7h0M546.6 287.8h0M452.7 299.1h0M540.3 268.5h0M542.9 259.9h0M550.6 206.0h0M543.3 269.6h0M492.8 244.1h0M457.3 267.0h0M491.4 299.0h0M526.4 284.1h0M534.4 279.9h0M537.7 217.2h0M521.8 230.4h0M529.1 206.3h0M497.8 298.8h0M552.6 240.5h0M524.8 287.2h0M573.4 220.9h0M493.1 278.2h0M505.4 235.3h0M497.0 255.4h0M555.5 248.5h0M554.6 273.9h0M507.5 231.8h0M483.5 291.9h0M556.8 263.4h0M485.1 287.1h0M562.4 166.7h0M555.8 229.3h0M537.6 215.6h0M499.0 257.5h0M557.7 259.0h0M543.0 211.6h0M507.0 231.4h0M572.9 214.1h0M541.0 268.7h0M515.3 233.0h0M560.6 222.9h0M547.7 221.1h0M564.6 186.8h0M561.8 238.6h0M550.7 222.5h0M531.5 308.9h0M557.8 261.8h0M549.6 234.0h0M552.1 247.7h0M535.0 274.2h0M488.9 251.7h0M557.7 187.3h0M515.1 221.4h0M537.3 210.1h0M535.6 198.3h0M514.2 216.9h0M561.6 198.6h0M581.1 238.0h0M557.1 224.1h0M531.9 280.0h0M512.7 220.4h0M559.6 230.4h0M550.1 233.9h0M494.1 248.0h0M568.3 270.7h0M532.8 284.1h0M527.3 220.1h0M482.2 268.5h0M531.3 276.1h0M518.4 225.9h0M569.1 246.0h0M548.7 247.7h0M489.5 273.5h0M562.0 213.6h0M502.7 246.1h0M516.2 232.1h0M525.9 301.3h0M584.2 215.2h0M560.4 242.3h0M507.8 304.6h0M541.6 199.7h0M540.5 263.0h0M476.0 290.3h0M522.2 295.3h0M543.2 214.4h0M556.0 236.9h0M493.3 283.1h0M558.2 238.8h0M549.2 265.6h0M550.5 252.2h0M502.9 225.9h0M566.8 230.8h0M483.4 286.4h0M570.8 213.2h0M560.2 235.9h0M494.9 233.8h0M488.3 301.5h0M493.4 266.6h0M604.0 243.6h0M550.7 209.5h0M501.0 246.0h0M557.2 194.6h0M558.8 231.1h0M512.4 301.4h0M526.8 226.9h0M558.1 212.7h0M493.2 233.2h0M575.9 230.1h0M529.1 286.0h0M493.6 290.7h0M484.3 300.4h0M547.5 259.6h0M529.9 295.4h0M496.6 261.3h0M555.8 220.5h0M492.2 284.2h0M538.3 272.3h0M561.6 269.1h0M552.9 283.1h0M556.4 248.6h0M532.3 280.9h0M559.1 189.9h0M545.4 274.1h0M496.0 251.8h0M508.5 239.0h0M517.0 224.8h0M473.8 246.5h0M529.7 295.9h0M495.9 247.6h0M507.3 304.4h0M506.2 221.6h0M551.3 249.5h0M533.6 276.1h0M476.7 308.2h0M524.9 285.1h0M498.3 209.6h0M522.3 228.1h0M555.7 240.4h0M550.3 227.3h0M541.5 219.1h0M473.9 286.2h0M562.7 237.3h0M494.0 234.6h0M483.0 240.4h0M527.7 297.3h0M573.1 203.7h0M551.2 212.1h0M497.9 253.0h0M485.3 280.6h0M512.3 223.5h0M552.0 270.9h0M558.4 224.7h0M501.5 255.2h0M511.1 218.4h0M483.7 255.3h0M500.4 246.3h0M553.5 246.4h0M546.7 227.0h0M548.1 227.4h0M501.4 229.7h0M533.7 273.3h0M525.7 284.1h0M524.0 293.5h0M507.6 311.1h0M476.1 267.7h0M556.3 205.0h0M497.6 250.4h0M499.0 238.5h0M545.2 214.5h0M528.2 311.6h0M509.3 221.1h0M490.5 250.4h0M537.0 278.2h0M557.0 200.7h0M550.3 252.9h0M503.8 251.2h0M495.5 237.4h0M504.4 242.1h0M511.6 229.9h0M554.1 250.5h0M538.0 272.2h0M514.6 236.4h0M526.6 299.6h0M539.5 278.3h0M505.3 249.2h0M559.8 267.7h0M549.3 192.3h0M569.6 259.2h0M466.2 296.2h0M498.8 242.1h0M545.0 272.1h0M541.1 281.3h0M534.3 220.4h0M547.6 256.7h0M573.9 219.0h0M514.1 212.8h0M512.1 238.4h0M550.2 244.3h0M503.4 239.3h0M499.4 297.4h0M531.4 300.3h0M526.6 281.2h0M495.1 286.7h0M564.8 224.5h0M512.6 291.2h0M517.0 212.2h0M483.2 252.1h0M565.2 189.8h0M511.3 215.1h0M499.8 244.3h0M496.5 290.5h0M535.8 279.3h0M488.1 284.4h0M496.9 217.7h0M504.7 224.1h0M473.1 287.1h0M528.5 209.9h0M556.9 241.7h0M539.2 194.5h0M499.9 256.9h0M524.5 301.8h0M518.9 287.8h0M488.6 242.2h0M493.5 285.0h0M507.2 305.0h0M555.5 226.3h0M560.8 210.2h0M494.0 294.0h0M585.2 200.9h0M509.0 232.8h0M517.6 220.4h0M576.8 232.1h0M527.4 222.5h0M520.5 211.6h0M554.4 213.8h0M465.3 275.5h0M547.9 207.7h0M498.9 249.1h0M497.7 291.4h0M578.0 296.9h0M554.6 254.9h0M531.1 205.1h0M568.1 216.1h0M540.8 218.2h0M547.4 262.7h0M510.4 292.5h0M550.9 238.0h0M512.6 229.4h0M500.6 218.7h0M545.8 274.2h0M552.9 232.4h0M545.0 271.8h0M533.5 275.2h0M466.9 275.4h0M553.3 251.3h0M540.7 282.2h0M536.4 273.6h0M531.1 300.0h0M502.0 292.1h0M539.3 278.9h0M532.9 224.0h0M537.7 278.1h0M519.2 297.9h0M518.7 229.3h0M499.9 251.0h0M512.6 232.9h0M547.8 257.2h0M543.0 270.4h0M468.7 258.3h0M578.2 210.1h0M602.0 193.3h0M476.2 286.2h0M539.3 204.2h0M506.7 232.4h0M542.0 259.6h0M514.3 237.9h0M490.0 206.7h0M513.2 213.9h0M485.8 239.2h0M526.1 223.4h0M529.6 279.5h0M544.4 275.6h0M537.2 215.5h0M546.2 226.8h0M519.4 309.1h0M579.5 235.9h0M550.3 263.6h0M501.3 242.1h0M540.7 263.6h0M533.6 273.1h0M563.3 252.3h0M547.6 267.6h0M506.0 248.3h0M525.7 215.9h0M566.4 216.6h0M491.6 255.3h0M550.2 253.1h0M540.0 269.2h0M531.6 286.2h0M538.8 211.5h0M474.6 297.3h0M562.0 238.6h0M588.7 190.9h0M561.6 273.3h0M533.1 207.0h0M525.1 208.6h0M494.9 297.7h0M517.9 233.5h0M505.5 239.7h0M563.9 260.2h0M514.9 311.6h0M518.1 225.8h0M500.5 249.6h0M541.0 191.1h0M561.5 203.2h0M536.1 278.9h0M527.6 202.0h0M537.6 210.7h0M504.6 211.8h0M518.1 227.2h0M541.9 222.3h0M464.2 293.0h0M511.4 298.0h0M533.5 223.9h0M547.1 280.7h0M543.5 209.1h0M502.4 243.4h0M494.1 273.0h0M542.0 265.6h0M543.5 214.7h0M535.7 222.2h0M540.2 283.1h0M557.3 207.7h0M525.6 282.3h0M554.7 267.0h0M519.3 233.4h0M547.8 213.4h0M504.6 226.4h0M487.4 257.5h0M553.0 227.8h0M544.7 262.0h0M550.7 229.5h0M511.6 214.3h0M494.1 247.1h0M529.1 224.9h0M542.5 269.7h0M522.3 302.1h0M538.6 282.9h0M573.5 241.5h0M552.6 243.7h0M553.6 249.0h0M492.2 300.4h0M455.5 306.4h0M494.2 254.1h0M493.7 266.5h0M496.1 212.3h0M537.3 218.7h0M491.5 241.7h0M497.8 243.8h0M490.0 252.7h0M497.6 225.0h0M561.4 260.4h0M558.8 195.4h0M501.4 251.8h0M543.0 266.8h0M526.9 182.8h0M538.0 267.1h0M551.0 227.9h0M548.6 228.2h0M543.1 273.2h0M554.0 234.3h0M544.5 260.3h0M576.7 229.8h0M548.6 261.2h0M563.6 216.5h0M509.3 240.3h0M542.8 206.3h0M520.4 229.6h0M548.0 250.0h0M516.7 233.9h0M530.3 278.5h0M481.5 286.5h0M563.3 271.2h0M537.0 272.4h0M490.5 223.7h0M492.5 282.7h0M548.6 198.4h0M487.9 210.2h0M512.8 218.3h0M511.4 237.0h0M555.0 222.6h0M505.7 238.7h0M505.1 237.9h0M553.2 206.4h0M486.6 297.6h0M510.9 225.4h0M475.8 298.9h0M538.2 276.2h0M506.4 239.7h0M496.7 246.2h0M555.7 197.9h0M501.4 228.1h0M511.2 240.4h0M597.9 186.0h0M560.6 258.6h0M556.9 224.4h0M474.9 271.3h0M541.3 273.0h0M547.2 220.0h0M548.5 308.9h0M478.8 288.1h0M542.1 286.8h0M497.7 252.1h0M532.2 277.8h0M550.5 225.0h0M555.6 223.1h0M527.9 219.4h0M540.0 202.1h0M561.2 237.3h0M519.8 203.3h0M550.8 242.8h0M544.5 257.0h0M525.5 209.6h0M496.3 252.0h0M533.9 214.7h0M548.9 233.9h0M537.6 288.1h0M550.6 192.3h0M470.1 304.7h0M532.0 213.6h0M492.2 289.3h0M500.6 306.4h0M514.9 210.6h0M539.9 193.3h0M551.6 176.8h0M505.8 245.8h0M515.6 220.6h0M541.6 202.0h0M515.2 231.7h0M567.3 209.1h0M501.2 246.0h0M553.1 215.9h0M554.5 200.7h0M557.2 250.1h0M497.7 212.7h0M545.3 257.0h0M547.1 256.7h0M510.3 237.4h0M510.5 235.0h0M515.8 231.7h0M503.3 244.1h0M559.7 235.7h0M551.4 216.2h0M526.3 221.2h0M481.9 248.9h0M491.4 280.6h0M517.5 220.4h0M573.1 197.3h0M557.0 246.7h0M518.8 222.2h0M522.8 288.2h0M508.5 307.5h0M550.2 235.0h0M536.4 222.3h0M518.3 230.9h0M531.6 275.4h0M530.6 279.5h0M519.8 229.3h0M466.6 290.7h0M520.4 229.4h0M496.2 295.6h0M544.1 271.3h0M483.1 265.2h0M490.8 294.6h0M496.4 289.9h0M501.8 254.4h0M533.6 275.6h0M538.9 265.3h0M518.4 227.5h0M564.1 208.7h0M560.5 235.2h0M556.1 211.1h0M520.8 227.4h0M534.5 278.0h0M523.3 229.7h0M549.9 229.0h0M559.1 202.7h0M559.5 231.8h0M553.8 271.6h0M554.0 240.9h0M524.4 226.9h0M526.1 205.1h0M493.0 238.8h0M500.6 248.5h0M551.7 257.1h0M535.9 272.4h0M499.0 307.2h0M557.2 208.0h0M538.4 218.1h0M488.0 249.7h0M550.4 232.7h0M496.2 262.1h0M557.4 226.5h0M552.4 270.8h0M552.3 249.6h0M532.5 220.5h0M546.6 261.0h0M557.0 237.1h0M499.2 301.5h0M528.2 220.5h0M552.2 250.5h0M551.4 246.9h0M507.8 219.2h0M560.2 250.5h0M482.3 284.8h0M515.1 228.1h0M499.0 240.1h0M524.3 197.7h0M526.5 214.2h0M512.6 227.4h0M530.6 279.5h0M534.6 217.8h0M538.3 266.8h0M555.9 265.5h0M521.8 229.7h0M561.9 223.2h0M537.2 278.2h0M554.8 246.0h0M504.5 239.2h0M571.0 215.1h0M554.7 253.9h0M502.4 296.0h0M516.9 230.8h0M566.9 214.3h0M546.7 290.1h0M507.9 239.4h0M466.6 267.9h0M553.2 224.7h0M567.4 234.2h0M489.9 265.9h0M502.6 210.1h0M545.3 210.6h0M566.2 227.8h0M551.7 217.3h0M528.6 219.4h0M532.1 292.6h0M544.5 221.1h0M556.3 237.1h0M566.4 234.8h0M573.6 228.5h0M501.2 216.3h0M540.3 272.8h0M511.8 233.4h0M551.2 210.1h0M530.8 202.9h0M500.9 207.1h0M553.9 204.9h0M564.6 207.8h0M494.5 244.0h0M487.4 278.4h0M552.1 238.8h0M532.2 300.1h0M554.2 263.6h0M543.4 204.7h0M540.4 267.1h0M552.4 252.0h0M530.6 218.7h0M574.5 214.9h0M541.5 261.3h0M497.2 230.6h0M539.5 264.6h0M539.8 289.1h0M502.8 250.0h0M503.0 245.8h0M502.5 245.9h0M485.4 293.2h0M508.1 240.1h0M510.8 217.7h0M521.7 186.7h0M546.6 220.5h0M507.0 242.4h0M542.5 189.9h0M551.1 241.3h0M548.3 229.3h0M550.5 233.0h0M498.1 305.4h0M491.0 306.2h0M523.1 216.1h0M498.6 251.3h0M550.4 214.5h0M543.1 219.0h0M504.2 247.9h0M550.5 199.4h0M578.3 270.6h0M551.6 268.2h0M552.5 283.2h0M488.4 269.9h0M552.1 265.2h0M564.8 229.4h0M530.2 222.0h0M522.8 283.6h0M487.6 307.3h0M538.4 297.8h0M527.9 280.3h0M555.6 273.5h0M530.6 216.8h0M544.1 213.4h0M551.0 256.5h0M541.1 222.7h0M530.1 215.9h0M489.1 291.9h0M545.8 255.7h0M531.3 196.9h0M481.1 271.8h0M505.8 223.6h0M509.3 210.1h0M538.6 204.0h0M507.9 232.6h0M576.6 204.9h0M548.0 255.3h0M519.7 231.7h0M508.1 297.5h0M563.7 240.4h0M506.7 242.6h0M511.0 222.4h0M541.7 265.2h0M531.9 216.3h0M515.9 219.9h0M545.1 269.1h0M524.5 227.1h0M568.0 250.9h0M539.3 214.0h0M509.8 242.8h0M547.1 215.8h0M541.2 204.9h0M548.0 215.7h0M552.4 253.8h0M516.0 223.1h0M540.8 213.5h0M569.2 259.0h0M488.5 214.5h0M530.4 225.2h0M542.0 284.6h0M506.5 227.3h0M545.3 257.6h0M551.5 231.4h0M535.3 221.7h0M546.2 277.5h0M535.1 215.3h0M559.0 240.2h0M524.9 222.2h0M541.0 275.2h0M539.5 217.5h0M504.8 309.5h0M485.7 278.3h0M554.4 211.4h0M541.9 215.9h0M517.4 297.4h0M514.1 230.2h0M554.3 216.6h0M546.9 224.5h0M524.5 299.9h0M565.4 217.3h0M565.0 230.7h0M505.6 295.7h0M508.2 297.5h0M544.8 221.9h0M553.3 263.8h0M563.5 217.4h0M531.6 224.7h0M550.3 281.6h0M496.8 289.1h0M555.9 238.4h0M548.6 261.4h0M518.5 288.2h0M495.2 263.4h0M485.8 291.3h0M508.6 237.2h0M587.0 171.5h0M506.6 232.2h0M493.5 303.9h0M550.5 211.1h0M491.2 260.4h0M548.6 247.8h0M553.9 215.0h0M544.5 256.6h0M491.7 292.4h0M521.5 226.4h0M584.2 224.6h0M516.4 228.6h0M490.9 298.3h0M495.7 245.4h0M565.3 198.1h0M473.0 279.1h0M525.6 220.6h0M500.8 216.7h0M528.8 210.4h0M531.5 214.4h0M490.1 267.4h0M541.6 220.0h0M495.2 270.8h0M492.3 277.1h0M540.0 275.5h0M514.0 209.7h0M543.7 209.7h0M551.3 278.9h0M566.2 224.1h0M520.9 230.2h0M495.5 301.6h0M540.3 309.7h0M541.9 228.4h0M558.2 216.2h0M550.8 218.6h0M547.4 212.5h0M556.2 240.3h0M538.5 218.2h0M547.2 245.6h0M548.1 229.6h0M539.1 223.1h0M535.3 220.7h0M523.5 231.8h0M539.7 229.9h0M536.5 222.3h0M537.4 216.8h0M551.2 221.9h0M545.5 218.5h0M557.6 227.5h0M545.3 227.3h0M561.3 207.5h0M551.8 209.7h0M555.3 245.1h0M542.7 222.1h0M543.9 215.6h0M539.5 227.4h0M561.9 209.6h0M546.3 212.1h0M552.6 229.8h0M553.1 226.5h0M546.2 208.5h0M550.5 222.7h0M550.3 221.1h0M532.2 218.4h0M540.8 224.6h0M540.0 225.3h0M533.4 220.4h0M544.9 221.8h0M554.1 228.1h0M543.7 227.1h0M526.2 216.6h0M533.0 219.7h0M529.9 213.4h0M543.0 222.6h0M548.1 222.0h0M553.2 232.0h0M536.7 211.5h0M534.7 213.0h0M544.2 218.0h0M542.0 234.4h0M556.0 200.6h0M532.5 217.8h0M561.3 219.0h0M550.4 225.3h0M529.4 225.4h0M549.0 235.3h0M543.7 223.6h0M511.9 222.9h0M553.5 244.1h0M552.0 231.0h0M556.6 221.9h0M536.3 196.6h0M533.9 232.0h0M542.4 220.5h0M532.7 221.8h0M533.2 225.6h0M537.5 228.1h0M552.6 224.6h0M538.0 231.2h0M556.0 209.7h0M543.4 229.3h0M533.5 241.4h0M544.2 241.7h0M530.3 209.8h0M553.2 215.5h0M555.7 223.2h0M551.9 236.7h0M554.5 227.8h0M547.4 218.2h0M540.9 227.1h0M552.1 223.2h0M563.8 210.7h0M543.9 232.0h0M538.5 212.5h0M539.2 221.9h0M535.3 231.7h0M544.1 220.5h0M550.4 223.7h0M545.4 209.5h0M539.0 227.7h0M557.7 215.3h0M529.3 219.8h0M537.8 228.0h0M533.0 232.1h0M546.4 227.2h0M543.4 224.8h0M551.1 219.7h0M545.3 219.7h0M523.9 225.3h0M546.5 212.3h0M544.5 224.0h0M531.9 214.6h0M540.9 232.9h0M536.0 223.1h0M555.1 212.5h0M557.5 204.8h0M544.5 213.8h0M537.2 207.6h0M548.0 220.3h0M548.4 218.7h0M537.4 213.2h0M528.9 217.4h0M542.4 225.7h0M546.0 213.8h0M532.0 242.8h0M547.2 235.7h0M538.4 221.9h0M560.8 232.8h0M545.3 230.3h0M550.9 220.4h0M532.7 226.2h0M563.2 236.8h0M534.0 227.9h0M544.4 243.6h0M551.7 219.3h0M545.3 227.3h0M545.1 208.5h0M536.7 245.4h0M532.7 217.5h0M556.0 215.7h0M535.7 224.9h0M565.7 217.7h0M558.4 229.3h0M540.0 210.6h0M531.6 233.8h0M544.1 223.4h0M546.7 217.0h0M537.7 223.6h0M547.8 230.6h0M566.3 232.2h0M522.5 226.5h0M543.6 219.9h0M529.9 235.4h0M531.3 225.5h0M537.2 204.7h0M554.3 223.3h0M548.1 227.3h0M538.6 224.0h0M548.0 230.4h0M544.7 235.4h0M530.4 233.5h0M538.5 237.1h0M545.2 232.8h0M534.3 233.2h0M535.2 232.5h0M553.3 220.4h0M551.4 219.9h0M549.1 236.5h0M535.4 215.8h0M544.4 222.4h0M545.9 236.1h0M536.8 230.8h0M552.1 243.9h0M545.7 220.1h0M545.4 218.1h0M539.1 224.7h0M540.1 235.4h0M557.7 210.9h0M539.9 224.6h0M558.4 214.1h0M541.2 232.6h0M540.5 221.1h0M553.1 218.2h0M552.6 219.2h0M549.9 235.0h0M554.2 223.1h0M544.1 224.0h0M549.8 224.8h0M551.1 234.1h0M553.8 228.7h0M545.4 238.7h0M543.5 228.5h0M534.2 228.7h0M549.9 218.7h0M552.0 205.4h0M528.6 222.8h0M548.1 241.6h0M530.8 237.8h0M552.0 243.4h0M525.3 211.7h0M529.8 233.2h0M550.1 215.4h0M547.4 229.1h0M544.5 225.5h0M539.3 214.5h0M537.1 245.8h0M550.6 226.9h0M553.2 233.7h0M538.5 216.7h0M549.5 216.4h0M535.0 235.0h0M535.0 224.7h0M547.3 232.5h0M539.3 220.9h0M548.7 219.1h0M543.1 217.2h0M541.4 228.4h0M555.1 219.0h0M559.5 224.1h0M542.8 232.8h0M545.8 228.4h0M533.8 220.3h0M541.4 223.1h0M550.5 226.1h0M530.2 209.5h0M538.4 222.1h0M542.6 219.3h0M556.0 223.1h0M553.5 237.3h0M545.2 222.6h0M543.0 223.2h0M545.3 221.9h0M554.5 221.6h0M538.5 235.6h0M533.7 215.4h0M546.4 221.0h0M546.1 237.5h0M555.1 220.1h0M537.9 228.1h0M557.3 220.0h0M538.8 215.1h0M542.0 227.3h0M530.2 222.8h0M539.9 228.5h0M541.0 219.1h0M547.5 220.2h0M539.1 219.7h0M533.1 222.6h0M531.5 226.4h0M553.7 239.0h0M529.6 223.8h0M524.2 220.3h0M537.5 204.8h0M542.6 205.5h0M550.7 219.7h0M537.1 213.2h0M536.5 233.3h0M555.9 230.4h0M551.3 238.7h0M542.2 221.8h0M534.2 210.4h0M537.9 230.7h0M566.0 205.7h0M546.3 228.6h0M546.0 241.6h0M536.0 225.3h0M534.5 236.6h0M553.2 231.0h0M551.5 233.6h0M554.9 228.7h0M532.4 225.4h0M554.5 228.0h0M535.5 225.8h0M547.2 210.1h0M545.3 226.6h0M538.0 229.5h0M549.3 224.1h0M542.4 209.4h0M551.7 218.8h0M551.3 233.2h0M538.4 235.5h0M541.6 218.5h0M544.7 212.5h0M555.6 214.8h0M543.8 217.7h0M552.3 214.0h0M543.7 229.9h0M559.0 237.3h0M545.4 232.8h0M547.3 218.7h0M542.2 210.8h0M559.5 244.1h0M546.0 224.6h0M540.5 219.4h0M545.7 239.1h0M535.9 226.7h0M557.6 211.1h0M542.4 217.2h0M535.2 237.4h0M557.2 219.8h0M533.2 221.8h0M548.3 225.4h0M546.9 231.5h0M543.1 223.9h0M533.2 235.7h0M535.1 209.6h0M543.0 226.7h0M544.2 204.9h0M541.5 218.1h0M553.4 241.7h0M538.1 211.5h0M543.1 225.2h0M538.1 222.7h0M543.4 214.8h0M550.7 220.6h0M547.5 240.6h0M551.0 240.7h0M537.9 235.0h0M549.7 219.9h0M538.3 229.3h0M551.0 222.5h0M542.6 248.0h0M536.2 213.4h0M567.3 216.4h0M541.1 223.4h0M558.8 230.4h0M545.6 238.0h0M537.7 220.3h0M551.2 224.7h0M526.2 229.9h0M543.4 235.4h0M544.1 212.2h0M550.8 224.5h0M543.3 225.5h0M553.9 225.2h0M549.3 224.7h0M548.7 221.6h0M530.6 226.9h0M547.9 215.1h0M541.8 222.2h0M532.3 205.3h0M553.2 231.3h0M547.7 212.8h0M549.0 238.6h0M544.0 229.3h0M543.4 223.9h0M534.8 209.1h0M549.0 212.9h0M556.9 227.4h0M541.6 238.5h0M553.8 214.3h0M537.4 230.8h0M537.1 244.9h0M548.7 231.6h0M532.9 212.1h0M544.1 209.4h0M541.6 214.7h0M557.4 239.3h0M540.3 225.3h0M542.5 224.9h0M529.9 207.9h0M536.2 221.3h0M548.8 211.2h0M538.4 215.2h0M540.1 235.3h0M534.9 225.0h0M547.5 231.3h0M535.7 213.1h0M548.4 233.4h0M542.7 224.1h0M532.0 229.5h0M547.2 228.0h0M528.9 226.3h0M541.7 216.3h0M549.4 230.0h0M548.3 215.8h0M540.4 226.7h0M542.8 213.5h0M532.6 228.4h0M545.6 230.3h0M542.2 223.6h0M551.3 221.1h0M551.9 213.5h0M546.2 217.3h0M531.2 227.9h0M537.6 210.3h0M549.0 230.7h0M548.9 227.4h0M536.8 220.0h0M555.6 226.6h0M544.0 237.1h0M547.1 231.8h0M555.3 114.8h0M557.2 121.1h0M582.4 114.4h0M581.6 125.3h0M570.0 123.0h0M560.2 126.7h0M581.0 126.1h0M576.6 117.7h0M566.2 127.3h0M584.3 118.2h0M576.8 126.1h0M589.4 117.7h0M588.0 121.7h0M564.1 118.5h0M565.0 113.7h0M564.8 130.4h0M583.8 116.9h0M575.7 111.1h0M579.4 124.8h0M602.2 128.7h0M558.9 122.3h0M567.6 126.4h0M562.8 127.3h0M581.2 123.7h0M574.3 108.3h0M590.6 140.6h0M582.1 123.5h0M570.1 116.6h0M579.0 136.5h0M574.5 119.6h0M586.4 117.1h0M572.5 129.6h0M563.5 126.0h0M588.2 130.7h0M575.1 116.2h0M582.3 132.4h0M572.5 132.0h0M564.9 118.0h0M580.1 117.0h0M581.3 122.6h0M567.2 127.9h0M582.7 125.6h0M581.6 119.0h0M573.6 115.7h0M591.0 120.0h0M574.5 128.0h0M576.8 132.5h0M599.5 128.9h0M572.8 123.0h0M577.3 116.8h0M566.4 123.5h0M564.9 120.5h0M570.3 104.4h0M566.4 120.5h0M575.8 115.3h0M577.1 123.2h0M554.5 126.4h0M575.3 123.9h0M579.6 126.0h0M581.9 129.2h0M591.9 122.4h0M570.6 130.4h0M598.7 116.8h0M567.9 135.4h0M571.4 134.2h0M587.7 113.6h0M569.7 125.5h0M583.1 119.2h0M587.6 120.1h0M589.4 120.5h0M576.4 114.7h0M581.6 114.6h0M573.4 116.9h0M581.2 119.3h0M570.7 120.3h0M570.2 124.3h0M580.7 120.0h0M580.3 119.6h0M578.2 127.2h0M585.8 99.4h0M564.4 122.2h0M570.7 130.0h0M572.9 119.9h0M579.7 108.6h0M574.8 129.6h0M579.9 140.0h0M583.5 122.9h0M586.6 125.4h0M584.5 130.0h0M569.7 122.1h0M572.8 91.6h0M604.5 145.4h0M595.1 104.1h0M592.4 177.5h0M581.5 146.5h0M598.2 130.4h0M567.3 101.5h0M570.2 205.8h0M551.2 149.2h0M554.3 191.1h0M568.9 149.9h0M586.5 185.4h0M564.3 153.1h0M556.1 202.0h0M587.5 123.4h0M586.2 124.5h0M560.5 165.4h0M555.1 167.3h0M569.7 197.1h0M576.3 168.3h0M589.0 130.5h0M568.9 121.3h0M594.4 93.0h0M566.1 132.6h0M591.8 203.5h0M566.8 138.0h0M552.3 102.1h0M583.8 132.9h0M597.2 178.4h0M591.8 134.1h0M566.2 111.8h0M551.1 93.5h0M605.0 111.8h0M566.3 94.1h0M559.8 129.3h0M584.9 202.6h0M566.6 104.2h0M587.4 140.5h0M552.1 122.6h0M594.2 190.2h0M590.0 132.2h0M594.3 205.3h0M591.1 192.5h0M594.9 125.7h0M571.7 193.2h0M575.2 129.0h0M554.7 92.1h0M600.5 92.1h0M566.4 176.7h0M567.1 121.9h0M587.0 113.0h0M580.2 160.6h0M589.8 164.4h0M582.1 198.1h0M578.6 195.7h0M562.9 91.0h0M581.9 165.3h0M579.8 144.6h0M588.5 101.1h0M593.8 138.1h0M605.3 146.8h0M585.2 139.6h0M608.9 204.1h0M573.5 169.5h0M599.5 194.5h0M585.0 92.1h0M558.5 196.5h0M595.0 91.2h0M604.7 176.6h0M583.9 151.4h0M529.7 147.7h0M509.2 198.5h0M496.9 132.0h0M539.6 137.0h0M538.4 129.4h0M498.0 199.5h0M545.6 130.4h0M498.9 142.2h0M538.3 205.3h0M539.3 157.8h0M532.9 174.7h0M533.5 189.8h0M526.8 198.9h0M506.5 188.2h0M548.3 132.0h0M532.7 169.6h0M541.2 135.1h0M545.3 152.8h0M525.3 147.7h0M508.0 194.8h0M534.9 164.8h0M543.0 141.1h0M530.5 167.8h0M509.7 138.2h0M547.7 205.8h0M509.0 139.9h0M549.6 161.1h0M501.7 147.7h0M537.0 203.2h0M501.9 138.5h0M519.4 160.9h0M536.7 147.4h0M540.4 197.4h0M546.4 150.3h0M506.2 153.2h0M506.4 161.2h0M497.9 189.7h0M515.9 154.9h0M507.4 149.1h0M545.6 145.1h0M548.9 138.1h0M544.4 131.6h0M524.0 179.2h0M517.4 172.9h0M542.7 207.1h0M540.5 200.4h0M548.7 189.1h0M502.5 152.5h0M512.1 127.1h0M501.1 190.7h0M506.1 209.2h0M548.3 127.8h0M540.7 208.9h0M541.1 143.7h0M530.8 161.2h0M506.3 129.0h0M540.0 170.0h0M525.2 138.2h0M497.1 149.9h0M542.9 172.3h0M533.2 181.8h0M540.7 131.2h0M545.6 125.8h0M544.6 179.9h0M501.4 149.9h0M535.4 195.7h0M501.0 187.4h0M511.8 197.3h0M534.0 200.6h0M519.8 158.0h0M576.5 231.8h0M569.6 245.3h0M582.6 220.6h0M583.2 261.3h0M579.6 214.3h0M585.7 243.0h0M559.8 237.1h0M569.9 242.6h0M552.1 267.6h0M554.9 220.9h0M553.3 224.3h0M551.6 246.6h0M580.0 249.3h0M580.2 256.4h0M581.3 258.0h0M563.7 258.2h0M566.5 213.1h0M554.3 234.3h0M572.0 261.5h0M584.9 238.9h0M552.8 278.3h0M566.0 248.5h0M579.4 223.9h0M559.1 244.9h0M578.6 228.9h0M568.8 221.5h0M582.4 234.7h0M564.4 214.2h0M578.8 280.6h0M580.6 250.1h0M558.4 248.5h0M551.6 222.8h0M579.1 278.2h0M552.2 233.4h0M581.8 246.9h0M578.7 213.7h0M582.5 271.4h0M552.9 269.0h0M584.0 253.6h0M552.7 226.3h0M555.5 244.7h0M571.2 277.5h0M558.8 248.0h0M565.1 242.4h0M574.8 217.1h0M577.8 215.5h0M553.9 238.6h0M560.4 269.7h0M559.5 246.0h0M554.1 213.0h0" stroke="#e3141b" stroke-width="1.5" stroke-linecap="square" fill="none"/>
<ellipse cx="521" cy="257" rx="43" ry="19.5" transform="rotate(-55 521 257)" fill="#e3141b"/>
<rect x="444.3" y="60.7" width="252" height="252" fill="none" stroke="#1a1a1a" stroke-width="1.4"/>
<path d="M549.6 60.7V312.7M444.3 210.9H696.3" stroke="#1a1a1a" stroke-width="1.4" fill="none"/>
<path d="M440.8 307.24H444.3M440.8 296.14H444.3M440.8 288.27H444.3M440.8 282.16H444.3M440.8 277.18H444.3M440.8 272.96H444.3M440.8 269.31H444.3M440.8 266.08H444.3M437.8 263.2H444.3M440.8 244.24H444.3M440.8 233.14H444.3M440.8 225.27H444.3M440.8 219.16H444.3M440.8 214.18H444.3M440.8 209.96H444.3M440.8 206.31H444.3M440.8 203.08H444.3M437.8 200.2H444.3M440.8 181.24H444.3M440.8 170.14H444.3M440.8 162.27H444.3M440.8 156.16H444.3M440.8 151.18H444.3M440.8 146.96H444.3M440.8 143.31H444.3M440.8 140.08H444.3M437.8 137.2H444.3M440.8 118.24H444.3M440.8 107.14H444.3M440.8 99.27H444.3M440.8 93.16H444.3M440.8 88.18H444.3M440.8 83.96H444.3M440.8 80.31H444.3M440.8 77.08H444.3M437.8 74.2H444.3M437.8 312.7H444.3M452.89 312.7V316.2M463.83 312.7V316.2M471.59 312.7V316.2M477.61 312.7V316.2M482.52 312.7V316.2M486.68 312.7V316.2M490.28 312.7V316.2M493.46 312.7V316.2M496.3 312.7V319.2M514.99 312.7V316.2M525.93 312.7V316.2M533.69 312.7V316.2M539.71 312.7V316.2M544.62 312.7V316.2M548.78 312.7V316.2M552.38 312.7V316.2M555.56 312.7V316.2M558.4 312.7V319.2M577.09 312.7V316.2M588.03 312.7V316.2M595.79 312.7V316.2M601.81 312.7V316.2M606.72 312.7V316.2M610.88 312.7V316.2M614.48 312.7V316.2M617.66 312.7V316.2M620.5 312.7V319.2M639.19 312.7V316.2M650.13 312.7V316.2M657.89 312.7V316.2M663.91 312.7V316.2M668.82 312.7V316.2M672.98 312.7V316.2M676.58 312.7V316.2M679.76 312.7V316.2M682.6 312.7V319.2M444.3 312.7V319.2M696.3 312.7V319.2" stroke="#1a1a1a" stroke-width="1.2" fill="none"/>
<text x="498.3" y="333.7" font-size="12.5" text-anchor="middle" fill="#222">10<tspan dy="-5" font-size="8.8">4</tspan></text>
<text x="432.8" y="265.2" font-size="12.5" text-anchor="middle" fill="#222" transform="rotate(-90 432.8 265.2)">10<tspan dy="-5" font-size="8.8">4</tspan></text>
<text x="560.4" y="333.7" font-size="12.5" text-anchor="middle" fill="#222">10<tspan dy="-5" font-size="8.8">5</tspan></text>
<text x="432.8" y="202.2" font-size="12.5" text-anchor="middle" fill="#222" transform="rotate(-90 432.8 202.2)">10<tspan dy="-5" font-size="8.8">5</tspan></text>
<text x="622.5" y="333.7" font-size="12.5" text-anchor="middle" fill="#222">10<tspan dy="-5" font-size="8.8">6</tspan></text>
<text x="432.8" y="139.2" font-size="12.5" text-anchor="middle" fill="#222" transform="rotate(-90 432.8 139.2)">10<tspan dy="-5" font-size="8.8">6</tspan></text>
<text x="684.6" y="333.7" font-size="12.5" text-anchor="middle" fill="#222">10<tspan dy="-5" font-size="8.8">7</tspan></text>
<text x="432.8" y="76.2" font-size="12.5" text-anchor="middle" fill="#222" transform="rotate(-90 432.8 76.2)">10<tspan dy="-5" font-size="8.8">7</tspan></text>
<text x="448.8" y="76.7" font-size="13.1" fill="#1a1a1a">Q1-UL(0.89%)</text>
<text x="691.8" y="76.7" font-size="13.1" text-anchor="end" fill="#1a1a1a">Q1-UR(2.19%)</text>
<text x="448.8" y="304.9" font-size="13.1" fill="#1a1a1a">Q1-LL(94.51%)</text>
<text x="691.8" y="304.9" font-size="13.1" text-anchor="end" fill="#1a1a1a">Q1-LR(2.42%)</text>
<text x="570.3" y="350.5" font-size="13.1" text-anchor="middle" fill="#1a1a1a">Annexin V FITC-A</text>
<text x="413.8" y="186.7" font-size="13.1" text-anchor="middle" transform="rotate(-90 413.8 186.7)" fill="#1a1a1a">PI PC5.5-A</text>
<text x="572.8" y="49.7" font-size="20.6" font-weight="bold" text-anchor="middle" fill="#000">Model</text>
<path d="M871.4 242.0h0M808.4 260.1h0M834.5 239.5h0M868.0 241.6h0M842.4 283.9h0M827.0 292.1h0M782.0 284.8h0M872.8 278.0h0M860.5 242.8h0M855.9 269.3h0M850.0 210.3h0M788.7 279.4h0M801.5 274.8h0M860.1 257.8h0M803.3 311.7h0M793.2 246.5h0M794.1 306.7h0M849.6 292.7h0M761.2 291.6h0M856.0 258.0h0M855.9 264.7h0M866.7 265.8h0M856.8 254.3h0M862.8 245.4h0M774.3 291.9h0M832.7 230.7h0M856.5 244.9h0M848.1 216.7h0M802.0 269.9h0M848.0 273.6h0M866.9 230.6h0M861.1 268.4h0M890.5 264.1h0M820.3 234.1h0M850.1 235.3h0M820.6 251.6h0M787.8 261.1h0M867.7 264.3h0M792.6 272.1h0M830.7 298.2h0M817.0 298.7h0M889.3 246.2h0M809.5 304.6h0M809.4 252.8h0M826.5 244.3h0M849.2 241.1h0M822.0 242.6h0M836.7 243.5h0M861.7 250.2h0M828.8 302.9h0M796.2 309.0h0M817.0 246.1h0M805.1 251.7h0M857.2 221.1h0M860.7 271.7h0M863.7 285.9h0M867.7 277.5h0M817.9 255.0h0M834.5 224.4h0M831.8 243.1h0M846.0 296.3h0M855.3 264.7h0M789.4 263.8h0M840.1 241.0h0M848.5 289.8h0M890.5 225.5h0M810.7 253.9h0M840.0 223.3h0M832.1 237.8h0M807.1 299.4h0M852.7 223.9h0M843.7 292.7h0M858.9 309.8h0M870.9 233.0h0M857.1 251.4h0M809.2 262.8h0M847.5 233.5h0M864.7 261.9h0M823.1 248.0h0M807.5 263.8h0M896.7 265.0h0M872.1 234.2h0M836.5 294.3h0M833.9 230.1h0M803.0 252.5h0M835.5 306.0h0M869.8 247.0h0M857.0 228.9h0M806.3 245.2h0M794.7 245.5h0M858.2 276.3h0M875.9 203.4h0M810.4 239.7h0M800.2 294.1h0M872.9 215.2h0M843.6 240.3h0M862.4 228.0h0M850.6 269.9h0M875.6 234.7h0M812.6 245.8h0M859.6 231.9h0M876.5 208.4h0M827.2 242.4h0M848.6 295.2h0M855.9 245.0h0M873.0 250.7h0M838.5 236.3h0M863.1 240.0h0M815.2 252.4h0M847.4 288.4h0M829.6 245.5h0M829.1 306.9h0M880.8 250.3h0M877.2 226.0h0M806.5 255.0h0M846.4 236.7h0M848.8 212.3h0M821.0 313.6h0M795.3 281.2h0M787.3 294.6h0M854.5 235.5h0M842.2 226.2h0M813.7 238.2h0M866.5 243.8h0M823.0 300.9h0M843.5 288.9h0M805.1 232.4h0M807.7 248.7h0M845.7 203.7h0M828.0 230.8h0M801.5 297.0h0M817.7 246.3h0M876.5 240.1h0M781.2 304.4h0M808.1 257.8h0M776.6 307.4h0M860.0 238.0h0M852.9 242.4h0M791.2 293.7h0M814.1 241.0h0M813.6 256.7h0M860.4 266.0h0M849.5 281.2h0M868.4 251.0h0M835.2 288.2h0M847.1 280.4h0M856.6 241.3h0M848.0 228.7h0M860.8 255.6h0M819.4 316.8h0M810.1 298.8h0M807.8 263.4h0M864.4 263.7h0M885.8 247.0h0M862.6 275.3h0M839.9 229.4h0M819.8 250.9h0M834.7 242.8h0M850.1 215.3h0M819.2 249.4h0M808.6 263.7h0M800.6 267.4h0M835.1 242.7h0M852.9 266.8h0M857.1 250.2h0M814.6 256.4h0M776.3 292.1h0M793.4 295.9h0M887.5 264.5h0M859.7 307.1h0M834.2 291.8h0M838.0 236.1h0M847.1 237.5h0M858.7 226.1h0M887.2 256.1h0M831.7 245.7h0M855.0 267.6h0M838.2 296.3h0M809.0 253.3h0M840.3 232.3h0M848.3 281.6h0M869.9 262.2h0M828.1 293.2h0M785.5 285.3h0M853.3 218.9h0M811.8 251.6h0M814.6 302.3h0M880.6 263.8h0M819.3 299.8h0M824.6 242.6h0M831.3 241.9h0M840.2 231.3h0M782.6 282.8h0M871.4 267.4h0M860.5 230.8h0M876.6 265.6h0M867.4 276.3h0M867.6 236.7h0M803.7 260.1h0M855.8 282.3h0M818.1 247.8h0M827.3 304.6h0M782.4 293.7h0M866.7 219.5h0M823.1 307.4h0M835.7 238.7h0M797.8 270.5h0M849.9 226.3h0M863.0 219.9h0M840.7 286.9h0M865.3 254.2h0M838.8 288.7h0M788.2 292.3h0M787.4 305.2h0M817.6 250.6h0M852.4 218.5h0M869.5 255.1h0M827.3 304.2h0M862.8 251.6h0M830.4 301.2h0M813.2 300.4h0M811.5 249.2h0M820.1 247.1h0M802.2 244.7h0M857.2 237.8h0M892.4 200.4h0M838.7 239.0h0M813.4 311.8h0M798.7 290.4h0M863.4 239.9h0M836.6 218.1h0M863.9 288.5h0M874.7 250.9h0M811.8 247.3h0M827.6 244.9h0M814.9 237.3h0M819.9 218.6h0M854.2 271.7h0M855.6 247.6h0M824.5 249.6h0M835.5 240.2h0M862.9 252.3h0M857.8 235.5h0M860.2 265.8h0M794.8 251.3h0M872.4 265.5h0M800.4 256.1h0M835.2 290.7h0M840.7 211.6h0M854.4 228.3h0M803.4 303.7h0M817.3 297.2h0M808.0 315.0h0M857.4 261.0h0M899.9 251.7h0M855.0 276.3h0M855.1 262.0h0M868.5 266.7h0M856.8 270.4h0M844.7 242.3h0M797.8 313.3h0M829.4 236.4h0M898.6 190.8h0M810.3 245.4h0M854.9 265.7h0M860.0 238.6h0M851.6 223.9h0M797.9 282.5h0M832.5 240.3h0M856.5 258.6h0M781.8 298.7h0M805.6 302.1h0M855.4 229.2h0M804.6 269.8h0M827.4 294.4h0M823.5 302.1h0M768.1 267.6h0M809.1 247.5h0M856.6 258.1h0M801.4 265.1h0M816.4 249.4h0M858.2 247.7h0M849.9 226.2h0M849.9 281.6h0M770.7 283.2h0M823.0 241.2h0M851.0 270.5h0M858.0 286.1h0M883.1 246.1h0M774.6 294.0h0M878.2 257.6h0M800.9 298.1h0M847.6 274.6h0M850.1 223.0h0M841.3 236.7h0M810.1 239.7h0M855.9 265.2h0M783.4 256.9h0M813.5 258.6h0M818.8 296.9h0M890.0 240.1h0M844.5 298.2h0M838.0 286.0h0M804.3 245.0h0M817.0 223.2h0M801.9 270.6h0M860.7 291.4h0M797.6 285.5h0M845.2 278.6h0M792.0 309.0h0M847.4 242.6h0M775.5 264.5h0M787.7 303.3h0M824.2 240.4h0M810.0 257.0h0M808.7 300.5h0M768.5 284.4h0M859.5 243.0h0M850.4 227.5h0M807.8 257.7h0M867.5 259.1h0M830.3 240.2h0M770.5 289.6h0M807.9 263.6h0M825.2 230.9h0M839.4 293.4h0M811.1 304.7h0M851.8 239.0h0M846.9 239.5h0M841.4 223.5h0M813.8 239.3h0M835.2 294.3h0M848.0 289.5h0M819.5 253.1h0M867.1 235.6h0M804.6 312.9h0M826.0 296.4h0M841.2 229.7h0M806.9 302.2h0M828.9 227.7h0M851.3 269.9h0M841.6 242.9h0M871.2 211.1h0M863.6 277.3h0M859.9 232.8h0M850.9 285.2h0M864.6 274.2h0M820.2 228.7h0M844.1 227.6h0M794.3 273.2h0M866.6 254.4h0M850.8 278.1h0M856.9 244.0h0M801.0 251.1h0M802.7 264.9h0M836.7 217.9h0M819.9 251.5h0M856.5 270.8h0M870.7 263.6h0M853.3 239.9h0M829.3 247.4h0M850.1 275.4h0M851.6 268.8h0M872.8 249.1h0M834.8 241.2h0M872.7 277.7h0M863.0 255.5h0M818.7 249.5h0M871.8 299.4h0M812.1 249.9h0M778.0 311.2h0M851.2 274.6h0M882.2 242.8h0M857.5 219.9h0M825.6 224.4h0M863.5 255.8h0M870.8 230.9h0M861.8 243.2h0M869.2 244.9h0M798.0 289.7h0M828.8 244.2h0M857.7 248.1h0M839.2 294.7h0M835.4 226.9h0M837.2 241.8h0M853.8 236.8h0M805.1 298.1h0M792.6 303.6h0M835.8 238.2h0M816.8 242.8h0M864.6 244.3h0M835.5 230.2h0M810.6 262.1h0M866.7 229.6h0M853.1 288.9h0M859.8 242.1h0M864.8 287.9h0M800.4 242.6h0M864.5 245.3h0M815.1 249.5h0M787.3 280.7h0M858.5 257.4h0M822.9 249.7h0M859.0 282.9h0M833.5 221.4h0M883.5 262.7h0M856.5 275.5h0M877.5 250.6h0M875.5 231.2h0M861.5 274.0h0M852.0 218.8h0M770.6 311.8h0M865.7 283.2h0M797.3 250.6h0M856.9 268.7h0M800.4 271.5h0M793.7 286.7h0M840.0 240.2h0M847.8 280.6h0M860.4 249.1h0M886.3 311.2h0M862.0 210.3h0M853.4 274.0h0M845.8 237.5h0M777.2 295.3h0M854.8 242.3h0M808.1 299.2h0M807.8 261.3h0M788.7 268.2h0M853.3 230.6h0M795.3 286.2h0M815.9 250.9h0M830.8 244.5h0M853.3 245.4h0M843.2 281.2h0M859.6 233.0h0M802.7 256.5h0M874.6 212.5h0M796.6 272.3h0M832.7 288.2h0M829.2 239.3h0M827.8 299.6h0M795.5 289.0h0M845.1 289.0h0M850.6 284.9h0M822.1 303.5h0M792.6 279.6h0M807.3 244.6h0M860.8 262.0h0M833.8 297.7h0M869.4 234.9h0M778.8 267.0h0M868.4 272.7h0M817.9 241.4h0M829.7 317.1h0M833.2 240.5h0M845.6 172.0h0M857.8 259.4h0M841.9 292.0h0M856.7 242.2h0M842.1 221.5h0M816.1 249.8h0M840.4 298.8h0M868.9 273.1h0M842.1 294.5h0M834.6 293.3h0M831.3 221.7h0M769.9 291.2h0M812.5 259.2h0M832.0 239.1h0M861.9 280.5h0M855.3 268.6h0M850.0 285.4h0M847.2 274.8h0M795.5 301.8h0M809.5 258.5h0M822.9 246.6h0M798.3 248.5h0M796.0 255.5h0M807.6 242.8h0M854.2 235.1h0M841.9 293.3h0M854.4 223.9h0M807.3 315.4h0M869.0 254.9h0M865.9 240.2h0M788.7 287.3h0M864.5 260.3h0M828.8 238.8h0M847.1 275.1h0M871.4 230.6h0M837.3 218.9h0M881.1 261.9h0M808.2 256.4h0M818.4 222.4h0M836.5 227.8h0M869.3 287.1h0M872.4 215.0h0M885.3 260.1h0M867.0 247.4h0M856.7 274.8h0M843.1 199.5h0M812.2 258.4h0M836.8 298.6h0M849.4 226.7h0M861.1 268.4h0M791.0 287.7h0M845.1 304.3h0M838.7 304.4h0M839.2 297.9h0M867.1 285.0h0M817.0 246.4h0M823.9 250.1h0M783.8 277.4h0M821.5 247.0h0M797.8 252.6h0M865.3 259.7h0M864.9 218.3h0M863.0 224.2h0M848.4 241.6h0M862.7 253.5h0M834.8 301.7h0M832.8 235.8h0M865.7 234.8h0M867.0 271.6h0M841.3 294.8h0M804.1 268.2h0M775.9 273.3h0M839.6 297.5h0M790.2 306.3h0M828.1 246.2h0M815.2 247.3h0M810.5 246.8h0M833.9 232.1h0M871.9 275.3h0M819.5 299.9h0M835.2 291.4h0M858.0 244.8h0M799.8 245.9h0M846.8 275.7h0M855.2 263.7h0M861.5 274.9h0M815.2 256.9h0M831.7 243.8h0M858.4 295.1h0M854.6 294.3h0M811.3 236.4h0M858.1 302.1h0M768.0 280.5h0M860.1 236.4h0M853.9 224.1h0M828.7 243.1h0M841.4 231.2h0M848.8 232.4h0M797.5 251.4h0M862.7 235.5h0M858.4 267.7h0M848.3 224.0h0M798.3 278.3h0M863.0 274.8h0M825.7 249.4h0M811.8 249.7h0M833.1 288.7h0M809.8 302.5h0M808.5 307.8h0M857.7 206.8h0M826.8 299.5h0M870.2 257.9h0M794.7 285.3h0M828.9 233.8h0M816.9 244.2h0M847.1 227.8h0M888.5 182.9h0M838.8 226.6h0M876.1 241.0h0M818.7 227.0h0M842.9 227.7h0M814.5 306.0h0M812.9 248.0h0M851.2 240.5h0M856.4 269.6h0M846.2 237.3h0M859.0 272.2h0M802.8 296.2h0M874.5 241.3h0M865.9 265.7h0M851.5 240.5h0M805.1 244.2h0M861.1 254.1h0M818.6 239.5h0M804.5 263.5h0M854.9 267.7h0M848.1 278.2h0M845.3 277.7h0M841.9 301.1h0M808.4 238.7h0M829.9 238.2h0M824.8 310.9h0M821.7 246.7h0M792.0 283.7h0M872.7 252.1h0M856.6 257.3h0M853.2 237.9h0M857.6 254.0h0M833.7 289.0h0M857.8 244.1h0M861.0 236.7h0M847.4 280.5h0M853.8 265.8h0M858.4 284.0h0M866.9 291.8h0M851.7 220.6h0M862.3 266.0h0M835.1 238.7h0M797.5 262.3h0M843.5 294.5h0M798.4 231.8h0M818.5 234.6h0M845.1 233.0h0M798.6 309.8h0M846.8 240.1h0M809.8 255.1h0M860.1 271.4h0M855.9 290.1h0M876.1 260.9h0M814.4 258.2h0M803.2 269.3h0M800.1 269.4h0M802.9 254.5h0M853.6 239.3h0M858.6 267.4h0M831.0 245.1h0M841.5 240.9h0M819.2 242.2h0M873.1 251.8h0M850.3 240.5h0M819.7 301.8h0M825.7 245.1h0M822.2 305.1h0M869.0 258.0h0M841.6 200.9h0M789.6 262.0h0M798.8 292.8h0M896.6 218.2h0M822.0 245.1h0M857.0 290.4h0M856.0 269.6h0M858.8 284.2h0M803.0 272.1h0M812.7 250.0h0M886.0 234.4h0M795.0 293.8h0M816.6 296.9h0M864.8 265.4h0M856.6 220.9h0M829.3 229.0h0M873.6 234.4h0M849.9 238.2h0M854.5 243.4h0M810.5 256.5h0M849.5 220.4h0M851.9 291.6h0M805.8 257.1h0M808.1 297.5h0M802.0 243.5h0M821.9 247.2h0M865.3 262.6h0M833.0 241.9h0M805.6 258.0h0M811.6 307.0h0M782.7 306.1h0M869.9 222.2h0M835.5 286.8h0M884.3 267.8h0M869.9 257.0h0M787.0 302.8h0M823.9 239.6h0M821.7 246.0h0M838.5 297.4h0M816.3 314.8h0M843.7 279.7h0M858.2 248.2h0M829.1 313.6h0M803.0 300.6h0M872.7 234.7h0M875.3 220.3h0M859.4 273.6h0M782.0 268.3h0M850.0 282.5h0M792.2 272.5h0M867.2 247.9h0M811.8 242.2h0M828.2 296.4h0M776.9 289.9h0M851.3 299.8h0M853.1 242.9h0M855.8 268.3h0M856.2 249.0h0M867.6 242.3h0M850.2 301.9h0M841.4 284.7h0M830.1 227.0h0M810.7 262.0h0M774.8 287.0h0M840.0 242.5h0M810.9 251.3h0M859.8 235.9h0M821.8 308.2h0M856.7 238.8h0M809.6 259.2h0M794.0 248.8h0M861.3 260.9h0M801.1 298.4h0M829.9 234.0h0M800.7 271.6h0M854.1 294.0h0M857.8 285.7h0M816.8 198.9h0M852.1 288.4h0M835.5 240.2h0M793.0 277.1h0M857.7 262.5h0M801.7 271.6h0M855.0 266.7h0M841.8 238.4h0M851.8 227.7h0M846.5 279.5h0M850.5 270.8h0M857.3 257.2h0M887.7 265.1h0M842.9 239.8h0M818.1 249.9h0M859.0 251.1h0M824.2 249.0h0M823.9 244.6h0M802.8 254.6h0M840.1 243.2h0M860.1 254.2h0M845.3 292.7h0M856.4 242.2h0M794.2 314.9h0M860.3 233.6h0M851.9 285.8h0M889.5 289.1h0M815.6 248.7h0M822.0 235.3h0M843.8 293.3h0M779.5 268.6h0M855.8 267.3h0M835.6 208.7h0M804.0 267.4h0M814.6 306.8h0M833.0 227.7h0M839.0 232.4h0M837.0 224.4h0M779.0 293.4h0M840.4 285.0h0M843.6 282.6h0M849.8 227.6h0M871.9 227.7h0M864.7 279.0h0M796.2 300.4h0M872.3 203.4h0M834.5 230.1h0M844.9 301.7h0M882.1 241.8h0M817.6 310.1h0M785.3 238.1h0M763.1 262.4h0M796.4 263.9h0M860.6 237.4h0M865.9 250.3h0M831.7 239.2h0M802.0 273.3h0M858.0 282.7h0M795.5 296.4h0M847.5 221.8h0M820.3 295.2h0M867.0 251.4h0M829.4 316.7h0M855.0 290.9h0M861.6 256.3h0M852.8 281.2h0M876.2 239.2h0M875.1 221.2h0M848.2 234.4h0M786.1 303.3h0M887.8 250.2h0M872.7 246.8h0M852.1 271.7h0M803.9 253.9h0M816.1 250.8h0M850.0 271.3h0M807.5 264.2h0M783.8 284.4h0M779.9 263.7h0M813.7 255.4h0M771.7 289.1h0M798.0 287.9h0M852.1 275.6h0M856.3 281.2h0M876.8 231.0h0M847.7 241.3h0M860.7 254.9h0M844.5 286.5h0M809.0 308.7h0M866.3 249.4h0M848.3 206.7h0M809.4 248.3h0M884.7 240.8h0M862.9 280.5h0M806.8 247.9h0M883.6 273.8h0M788.5 284.3h0M827.6 234.5h0M867.6 249.4h0M847.2 237.2h0M857.7 254.0h0M847.6 236.7h0M820.0 295.5h0M836.8 290.2h0M857.6 274.8h0M858.0 239.8h0M808.9 244.9h0M798.2 245.2h0M795.1 237.3h0M816.9 253.4h0M852.0 269.7h0M803.7 265.3h0M876.4 242.5h0M836.5 288.4h0M796.0 238.4h0M860.1 253.8h0M805.9 259.7h0M856.6 256.6h0M861.1 212.8h0M831.9 290.3h0M805.2 267.1h0M783.0 306.9h0M805.6 247.2h0M837.6 287.4h0M875.5 257.4h0M779.1 266.3h0M807.7 261.6h0M869.9 237.9h0M855.9 221.5h0M785.5 301.0h0M817.9 250.8h0M864.2 296.7h0M844.3 283.2h0M854.7 270.6h0M809.0 257.9h0M813.4 251.2h0M843.9 290.1h0M857.6 253.3h0M826.5 247.4h0M855.0 242.6h0M835.9 287.5h0M843.8 235.4h0M891.6 231.8h0M848.8 219.1h0M851.9 269.8h0M864.4 252.6h0M855.0 275.0h0M787.8 316.5h0M830.4 234.4h0M802.3 247.5h0M858.2 246.4h0M856.9 226.1h0M847.4 280.6h0M850.2 234.1h0M816.5 313.7h0M794.5 273.3h0M868.2 246.8h0M864.5 291.0h0M813.7 257.4h0M856.8 238.7h0M814.6 240.4h0M811.1 256.3h0M806.5 249.1h0M832.1 245.3h0M817.6 233.1h0M835.7 291.0h0M783.1 306.2h0M828.0 244.8h0M871.0 255.6h0M838.5 232.6h0M811.5 236.5h0M857.6 240.2h0M803.2 252.6h0M819.3 247.2h0M829.5 293.8h0M804.9 298.7h0M801.9 252.1h0M840.5 236.3h0M795.0 283.5h0M825.5 306.0h0M797.0 291.2h0M792.6 295.0h0M841.2 224.8h0M822.4 244.9h0M812.7 233.6h0M873.2 216.0h0M836.0 236.8h0M802.6 230.4h0M842.3 223.7h0M796.2 267.4h0M815.6 244.8h0M797.7 252.4h0M857.2 208.7h0M826.4 239.2h0M828.8 293.0h0M826.6 223.4h0M897.4 239.3h0M867.5 227.3h0M870.4 202.6h0M834.4 295.4h0M867.6 230.6h0M844.6 287.6h0M822.4 239.9h0M783.9 276.1h0M858.1 237.2h0M774.2 302.7h0M772.9 280.5h0M813.1 258.5h0M867.5 259.2h0M808.0 260.3h0M863.6 228.8h0M846.3 236.1h0M838.1 239.0h0M842.2 297.9h0M862.2 260.6h0M792.6 278.5h0M810.1 259.4h0M783.8 296.8h0M814.2 221.6h0M839.7 242.7h0M837.1 292.9h0M883.1 259.7h0M812.4 249.5h0M856.6 255.5h0M852.5 241.8h0M853.1 243.7h0M855.2 247.9h0M846.3 242.3h0M852.4 235.2h0M852.7 242.2h0M841.8 243.9h0M851.7 223.6h0M848.1 237.3h0M838.0 235.6h0M861.3 258.4h0M850.3 242.0h0M842.0 231.1h0M846.9 238.5h0M857.8 261.1h0M847.0 238.4h0M862.1 231.1h0M874.7 250.9h0M855.6 247.6h0M857.6 239.9h0M853.5 249.9h0M858.0 232.9h0M846.6 242.8h0M843.3 246.5h0M840.2 240.9h0M854.7 239.0h0M855.2 232.2h0M853.8 255.6h0M860.5 263.5h0M835.0 244.1h0M852.3 251.0h0M860.5 234.3h0M855.1 234.7h0M845.9 239.0h0M849.7 226.4h0M861.8 229.7h0M852.7 246.6h0M853.0 251.0h0M846.3 243.2h0M848.6 249.5h0M838.6 242.2h0M860.7 263.4h0M863.6 231.5h0M844.9 252.0h0M844.8 233.6h0M857.5 243.9h0M849.2 251.2h0M835.4 225.8h0M863.8 226.6h0M845.7 233.0h0M848.6 232.4h0M850.0 250.0h0M854.6 239.6h0M842.0 249.6h0M826.4 222.9h0M848.2 237.3h0M862.6 250.4h0M833.4 235.8h0M834.0 250.0h0M840.9 239.2h0M849.2 255.1h0M857.8 232.9h0M853.2 252.5h0M837.2 236.6h0M871.9 254.9h0M855.6 243.5h0M854.1 237.9h0M834.4 258.8h0M852.4 233.4h0M860.7 233.5h0M867.4 245.1h0M853.6 229.2h0M853.4 254.2h0M857.7 238.4h0M852.8 241.0h0M854.8 245.6h0M846.0 250.6h0M858.4 242.9h0M851.5 241.4h0M848.5 233.2h0M843.7 238.7h0M869.1 230.8h0M844.2 243.9h0M858.8 241.0h0M843.7 230.5h0M847.6 247.6h0M853.9 246.8h0M856.0 248.6h0M851.1 227.7h0M863.8 254.6h0M855.2 222.6h0M840.0 258.4h0M868.3 237.3h0M853.6 233.0h0M859.4 240.6h0M842.3 225.5h0M860.1 234.6h0M852.7 258.2h0M853.5 259.7h0M871.0 249.8h0M861.3 245.8h0M851.1 227.5h0M865.3 239.8h0M848.3 250.7h0M836.3 241.4h0M859.2 229.1h0M852.3 236.5h0M845.3 236.6h0M832.8 242.4h0M853.2 234.1h0M842.9 231.7h0M848.7 241.0h0M862.9 258.5h0M851.1 246.8h0M837.0 221.2h0M850.2 240.9h0M848.0 232.2h0M841.5 233.4h0M855.4 237.3h0M853.9 244.4h0M864.4 236.7h0M835.8 228.8h0M847.7 238.3h0M858.1 253.3h0M839.3 238.4h0M859.1 243.6h0M871.6 241.2h0M859.0 225.6h0M842.5 253.6h0M868.0 243.9h0M835.0 244.5h0M857.7 243.9h0M849.1 240.4h0M846.5 245.6h0M847.5 250.6h0M855.8 236.4h0M846.0 242.8h0M860.2 240.0h0M858.1 245.6h0M847.5 237.1h0M859.0 247.4h0M850.3 243.1h0M834.8 234.8h0M845.3 251.8h0M847.8 240.8h0M825.4 237.2h0M849.5 240.7h0M850.2 229.9h0M849.7 239.9h0M877.5 250.2h0M845.7 246.6h0M850.9 237.7h0M850.1 248.0h0M854.9 252.9h0M835.0 243.1h0M862.6 226.7h0M840.3 253.1h0M847.4 249.1h0M847.6 244.0h0M850.8 239.5h0M851.4 235.1h0M845.0 248.8h0M848.2 250.4h0M839.3 256.7h0M830.8 256.1h0M849.6 244.7h0M848.8 231.1h0M847.3 250.0h0M850.1 256.7h0M848.7 239.6h0M863.0 241.3h0M853.3 251.3h0M863.6 260.3h0M856.6 236.2h0M838.5 239.6h0M839.6 258.4h0M850.4 238.7h0M842.2 250.6h0M844.4 230.6h0M863.5 246.5h0M870.0 241.9h0M867.3 240.4h0M850.6 242.5h0M831.2 249.6h0M856.8 233.6h0M851.1 238.8h0M835.5 249.3h0M845.9 235.8h0M843.7 235.1h0M838.1 254.1h0M851.9 241.9h0M820.9 257.6h0M858.8 228.2h0M848.4 230.1h0M860.1 236.2h0M861.5 245.2h0M856.4 229.3h0M855.9 234.4h0M847.3 238.1h0M836.3 251.9h0M848.2 245.4h0M843.3 236.6h0M852.0 235.0h0M856.9 252.9h0M845.6 240.9h0M869.3 240.6h0M844.2 234.0h0M856.2 258.3h0M846.5 239.7h0M856.9 235.2h0M849.7 249.3h0M849.2 246.2h0M849.9 249.6h0M847.7 258.1h0M848.2 228.7h0M850.9 247.8h0M846.5 246.5h0M856.7 239.2h0M858.4 219.6h0M868.8 248.0h0M841.1 234.4h0M856.8 255.2h0M860.2 237.5h0M831.4 235.0h0M847.9 242.7h0M840.4 235.8h0M852.3 240.3h0M846.1 245.7h0M865.6 250.9h0M875.9 231.1h0M842.3 237.8h0M863.1 248.7h0M838.3 224.1h0M858.8 242.4h0M859.3 243.0h0M863.6 249.4h0M861.0 237.6h0M858.2 234.8h0M863.9 232.2h0M855.5 236.2h0M840.4 246.4h0M861.3 244.6h0M852.2 232.4h0M854.8 242.2h0M851.8 252.5h0M837.3 240.6h0M847.7 265.6h0M837.8 239.7h0M857.9 249.1h0M847.3 240.3h0M841.5 244.6h0M839.7 237.5h0M855.7 246.1h0M882.1 230.0h0M846.1 237.7h0M863.3 254.7h0M841.2 247.0h0M838.8 246.8h0M852.5 241.4h0M854.0 258.0h0M854.7 229.9h0M854.2 240.0h0M864.6 249.9h0M855.8 245.2h0M857.5 236.2h0M854.4 244.6h0M831.1 228.0h0M864.7 251.6h0M837.7 250.0h0M851.6 233.5h0M855.9 245.4h0M851.6 230.0h0M847.6 242.5h0M850.6 244.4h0M843.6 259.7h0M842.8 255.7h0M834.3 255.4h0M848.7 241.1h0M833.5 247.8h0M842.7 252.6h0M860.9 255.0h0M866.9 236.2h0M859.3 248.6h0M855.9 249.8h0M864.7 237.0h0M840.2 246.1h0M875.9 240.5h0M862.9 237.6h0M867.1 242.3h0M858.0 237.0h0M861.7 253.4h0M862.5 246.1h0M836.4 244.2h0M844.5 234.5h0M844.2 238.1h0M864.3 245.4h0M881.5 243.3h0M850.6 251.6h0M844.7 244.6h0M845.1 243.8h0M858.1 233.4h0M850.2 232.1h0M841.7 233.6h0M849.1 251.2h0M854.5 217.4h0M852.0 232.7h0M868.8 235.0h0M839.8 235.1h0M865.1 240.6h0M856.6 249.9h0M858.0 247.0h0M867.5 220.8h0M855.3 231.1h0M846.7 248.5h0M848.0 245.8h0M849.2 252.8h0M863.4 226.3h0M850.1 239.2h0M864.5 251.5h0M854.5 253.4h0M922.8 128.7h0M921.1 111.3h0M877.3 109.4h0M907.1 126.5h0M901.8 119.2h0M938.6 108.6h0M918.4 130.8h0M930.4 104.6h0M872.7 119.1h0M874.1 113.2h0M927.3 104.4h0M940.4 103.5h0M889.5 120.4h0M893.9 114.7h0M927.4 116.7h0M879.0 112.2h0M895.4 106.0h0M916.9 112.3h0M872.1 122.2h0M927.2 122.3h0M923.2 124.2h0M923.5 114.7h0M933.6 115.3h0M873.5 102.8h0M904.8 106.8h0M877.6 106.1h0M891.5 131.6h0M879.2 127.3h0M872.9 129.3h0M878.5 123.3h0M886.3 129.4h0M922.1 102.1h0M894.5 124.2h0M898.0 107.9h0M877.3 107.2h0M935.5 111.4h0M898.3 120.3h0M938.3 134.2h0M940.6 100.8h0M888.1 130.7h0M896.3 122.8h0M869.0 129.4h0M933.1 109.5h0M898.7 129.7h0M910.2 108.8h0M872.4 118.6h0M907.9 135.6h0M918.4 104.0h0M925.9 116.6h0M883.2 113.9h0M868.7 115.9h0M888.2 121.7h0M922.8 109.9h0M928.4 118.6h0M900.7 129.2h0M875.0 120.5h0M909.8 133.9h0M876.8 109.5h0M911.9 134.0h0M921.0 100.7h0M884.7 122.4h0M911.5 135.4h0M891.9 103.5h0M892.7 121.4h0M917.4 128.2h0M878.6 104.5h0M938.8 100.6h0M870.2 104.9h0M877.2 133.1h0M931.3 112.0h0M937.0 116.5h0M884.0 100.8h0M937.5 125.6h0M918.1 106.8h0M937.3 121.6h0M908.4 115.4h0M938.2 100.4h0M890.9 114.9h0M910.0 132.1h0M886.3 110.9h0M911.8 199.7h0M928.4 137.3h0M887.7 168.9h0M918.9 178.3h0M904.2 136.6h0M904.7 145.3h0M934.4 212.3h0M892.7 152.9h0M884.8 141.9h0M867.5 150.2h0M873.2 148.9h0M935.7 192.4h0M938.5 137.5h0M944.0 154.7h0M898.1 157.5h0M907.8 145.5h0M874.5 165.5h0M932.2 138.6h0M895.3 200.4h0M923.7 168.4h0M928.7 209.5h0M943.2 188.3h0M937.4 167.7h0M926.9 175.1h0M903.8 191.8h0M916.4 156.1h0M938.1 205.0h0M894.0 200.5h0M933.8 147.7h0M909.9 212.2h0M911.6 202.0h0M902.2 205.6h0M935.1 173.1h0M876.1 186.1h0M900.1 209.7h0M913.7 194.9h0M896.4 144.3h0M928.7 149.8h0M896.5 168.9h0M865.9 184.7h0M883.2 210.1h0M916.8 203.6h0M944.3 204.0h0M944.5 203.3h0M914.7 191.8h0M909.2 197.8h0M899.9 158.1h0M909.3 166.1h0M904.2 201.3h0M917.4 156.3h0M812.1 157.5h0M809.4 182.3h0M856.7 203.7h0M816.2 152.4h0M854.6 173.8h0M824.9 153.2h0M815.2 199.0h0M807.8 179.8h0M828.0 140.5h0M859.9 205.4h0M852.4 153.9h0M853.7 172.3h0M855.9 135.5h0M848.9 216.2h0M835.3 138.9h0M828.1 169.6h0M847.6 199.3h0M818.0 132.1h0M834.2 161.3h0M860.7 215.1h0M841.2 173.3h0M850.9 215.9h0M834.4 132.3h0M847.1 180.2h0M821.4 178.8h0M835.7 160.9h0M832.5 130.8h0M832.7 131.4h0M850.4 137.9h0M858.4 160.3h0M859.0 148.7h0M847.9 207.1h0M819.8 198.8h0M833.3 135.5h0M855.8 196.2h0M830.7 205.9h0M826.4 203.2h0M816.0 189.9h0M852.0 211.9h0M847.5 150.1h0M886.7 263.5h0M864.5 274.1h0M874.3 234.0h0M909.8 287.9h0M873.6 227.2h0M890.4 219.9h0M865.7 283.4h0M899.5 248.9h0M923.9 235.3h0M892.6 263.9h0M865.0 280.5h0M901.8 237.2h0M868.2 224.4h0M872.2 282.7h0M921.2 270.0h0M885.1 238.0h0M885.4 254.4h0M905.9 237.6h0M925.2 260.9h0M887.2 245.0h0M919.4 244.5h0M897.1 225.5h0M916.5 224.4h0M885.7 243.5h0M884.8 229.4h0M872.5 221.9h0M869.8 263.1h0M892.7 248.9h0M906.7 225.5h0M865.4 272.9h0M868.9 279.8h0M875.3 250.6h0M877.5 265.2h0M870.0 289.7h0M876.0 228.2h0M921.9 249.3h0M920.3 243.0h0M922.4 254.0h0M884.6 259.8h0M872.0 259.6h0M864.5 271.6h0M886.2 230.7h0M872.5 245.3h0M901.0 232.8h0M902.0 247.2h0M920.5 286.1h0M880.6 246.3h0M909.3 237.9h0M895.4 232.9h0M894.0 258.3h0M897.1 229.4h0M895.6 263.9h0M913.2 283.2h0M889.4 236.0h0M882.8 283.8h0M889.0 272.2h0M884.1 244.5h0M896.7 258.3h0M920.7 245.3h0M867.6 230.9h0M864.4 278.8h0M896.9 275.2h0M879.3 265.2h0M899.3 241.0h0M909.9 244.5h0M909.2 245.7h0M865.2 273.9h0M881.8 226.5h0M867.3 241.3h0M865.5 233.8h0M911.9 285.3h0M898.3 220.5h0M872.4 237.8h0M884.5 236.0h0M895.1 233.9h0M884.9 241.9h0M924.5 265.6h0M880.3 228.1h0M882.0 284.4h0M873.5 236.2h0M872.6 240.2h0M888.2 280.2h0M890.3 237.6h0M867.0 282.5h0M921.5 260.6h0M917.1 253.5h0M900.9 247.0h0M897.4 221.2h0M887.1 256.4h0M883.6 270.3h0M925.5 232.6h0M900.5 286.8h0M917.3 263.4h0M919.0 243.0h0M874.7 271.8h0" stroke="#e3141b" stroke-width="1.5" stroke-linecap="square" fill="none"/>
<ellipse cx="827" cy="269" rx="38" ry="19" transform="rotate(-42 827 269)" fill="#e3141b"/>
<rect x="756.6" y="66.6" width="252" height="252" fill="none" stroke="#1a1a1a" stroke-width="1.4"/>
<path d="M861.9 66.6V318.6M756.6 216.8H1008.6" stroke="#1a1a1a" stroke-width="1.4" fill="none"/>
<path d="M753.1 313.14H756.6M753.1 302.04H756.6M753.1 294.17H756.6M753.1 288.06H756.6M753.1 283.08H756.6M753.1 278.86H756.6M753.1 275.21H756.6M753.1 271.98H756.6M750.1 269.1H756.6M753.1 250.14H756.6M753.1 239.04H756.6M753.1 231.17H756.6M753.1 225.06H756.6M753.1 220.08H756.6M753.1 215.86H756.6M753.1 212.21H756.6M753.1 208.98H756.6M750.1 206.1H756.6M753.1 187.14H756.6M753.1 176.04H756.6M753.1 168.17H756.6M753.1 162.06H756.6M753.1 157.08H756.6M753.1 152.86H756.6M753.1 149.21H756.6M753.1 145.98H756.6M750.1 143.1H756.6M753.1 124.14H756.6M753.1 113.04H756.6M753.1 105.17H756.6M753.1 99.06H756.6M753.1 94.08H756.6M753.1 89.86H756.6M753.1 86.21H756.6M753.1 82.98H756.6M750.1 80.1H756.6M750.1 318.6H756.6M765.19 318.6V322.1M776.13 318.6V322.1M783.89 318.6V322.1M789.91 318.6V322.1M794.82 318.6V322.1M798.98 318.6V322.1M802.58 318.6V322.1M805.76 318.6V322.1M808.6 318.6V325.1M827.29 318.6V322.1M838.23 318.6V322.1M845.99 318.6V322.1M852.01 318.6V322.1M856.92 318.6V322.1M861.08 318.6V322.1M864.68 318.6V322.1M867.86 318.6V322.1M870.7 318.6V325.1M889.39 318.6V322.1M900.33 318.6V322.1M908.09 318.6V322.1M914.11 318.6V322.1M919.02 318.6V322.1M923.18 318.6V322.1M926.78 318.6V322.1M929.96 318.6V322.1M932.8 318.6V325.1M951.49 318.6V322.1M962.43 318.6V322.1M970.19 318.6V322.1M976.21 318.6V322.1M981.12 318.6V322.1M985.28 318.6V322.1M988.88 318.6V322.1M992.06 318.6V322.1M994.9 318.6V325.1M756.6 318.6V325.1M1008.6 318.6V325.1" stroke="#1a1a1a" stroke-width="1.2" fill="none"/>
<text x="810.6" y="339.6" font-size="12.5" text-anchor="middle" fill="#222">10<tspan dy="-5" font-size="8.8">4</tspan></text>
<text x="745.1" y="271.1" font-size="12.5" text-anchor="middle" fill="#222" transform="rotate(-90 745.1 271.1)">10<tspan dy="-5" font-size="8.8">4</tspan></text>
<text x="872.7" y="339.6" font-size="12.5" text-anchor="middle" fill="#222">10<tspan dy="-5" font-size="8.8">5</tspan></text>
<text x="745.1" y="208.1" font-size="12.5" text-anchor="middle" fill="#222" transform="rotate(-90 745.1 208.1)">10<tspan dy="-5" font-size="8.8">5</tspan></text>
<text x="934.8" y="339.6" font-size="12.5" text-anchor="middle" fill="#222">10<tspan dy="-5" font-size="8.8">6</tspan></text>
<text x="745.1" y="145.1" font-size="12.5" text-anchor="middle" fill="#222" transform="rotate(-90 745.1 145.1)">10<tspan dy="-5" font-size="8.8">6</tspan></text>
<text x="996.9" y="339.6" font-size="12.5" text-anchor="middle" fill="#222">10<tspan dy="-5" font-size="8.8">7</tspan></text>
<text x="745.1" y="82.1" font-size="12.5" text-anchor="middle" fill="#222" transform="rotate(-90 745.1 82.1)">10<tspan dy="-5" font-size="8.8">7</tspan></text>
<text x="761.1" y="82.6" font-size="13.1" fill="#1a1a1a">Q1-UL(0.40%)</text>
<text x="1004.1" y="82.6" font-size="13.1" text-anchor="end" fill="#1a1a1a">Q1-UR(1.06%)</text>
<text x="761.1" y="310.8" font-size="13.1" fill="#1a1a1a">Q1-LL(96.52%)</text>
<text x="1004.1" y="310.8" font-size="13.1" text-anchor="end" fill="#1a1a1a">Q1-LR(2.02%)</text>
<text x="882.6" y="356.4" font-size="13.1" text-anchor="middle" fill="#1a1a1a">Annexin V FITC-A</text>
<text x="726.1" y="192.6" font-size="13.1" text-anchor="middle" transform="rotate(-90 726.1 192.6)" fill="#1a1a1a">PI PC5.5-A</text>
<text x="893.8" y="49.5" font-size="20.6" font-weight="bold" text-anchor="middle" fill="#000">50 µg/mL anserine</text>
<path d="M1126.0 232.5h0M1133.3 246.9h0M1139.0 242.3h0M1153.8 285.7h0M1131.6 245.0h0M1125.3 294.8h0M1165.9 282.4h0M1178.1 250.3h0M1159.0 286.1h0M1170.7 295.0h0M1172.6 218.5h0M1175.9 242.4h0M1185.8 255.5h0M1121.5 244.6h0M1100.2 312.6h0M1137.5 232.4h0M1173.1 224.2h0M1145.9 284.1h0M1164.3 263.7h0M1112.8 280.5h0M1161.4 291.1h0M1164.0 263.1h0M1145.5 284.7h0M1152.8 235.5h0M1166.1 264.1h0M1170.0 270.4h0M1160.8 288.7h0M1153.5 280.6h0M1129.1 233.7h0M1169.6 280.4h0M1183.8 221.3h0M1110.3 262.0h0M1158.1 275.8h0M1168.9 250.7h0M1137.6 289.0h0M1170.0 224.6h0M1151.7 235.7h0M1160.8 280.8h0M1170.1 247.9h0M1179.3 233.6h0M1139.1 232.8h0M1121.0 252.6h0M1108.4 250.8h0M1157.3 275.5h0M1139.6 238.5h0M1154.8 223.3h0M1149.5 290.4h0M1155.1 206.3h0M1158.8 271.6h0M1100.0 286.7h0M1117.3 295.8h0M1155.1 231.4h0M1162.3 225.8h0M1137.1 236.4h0M1168.8 259.3h0M1104.0 271.6h0M1133.3 248.0h0M1164.8 262.2h0M1134.7 293.6h0M1135.3 237.0h0M1163.4 239.7h0M1169.7 240.7h0M1142.7 289.4h0M1168.4 240.2h0M1127.8 246.4h0M1143.8 237.2h0M1113.5 294.5h0M1133.0 245.6h0M1111.1 289.8h0M1180.6 228.2h0M1153.7 241.2h0M1165.5 233.7h0M1156.1 282.4h0M1181.8 232.8h0M1131.7 249.3h0M1119.6 262.1h0M1114.2 251.0h0M1101.9 276.2h0M1168.8 246.4h0M1170.2 267.2h0M1133.3 297.1h0M1125.9 247.7h0M1164.9 247.8h0M1170.9 240.4h0M1131.4 310.2h0M1179.4 229.8h0M1166.1 278.5h0M1171.4 228.9h0M1109.5 259.1h0M1122.8 255.4h0M1171.5 271.6h0M1113.3 287.2h0M1106.4 267.5h0M1175.2 233.1h0M1172.4 219.7h0M1123.9 294.1h0M1151.3 235.5h0M1149.7 285.1h0M1176.2 240.8h0M1169.9 225.2h0M1157.0 222.1h0M1179.5 265.4h0M1167.9 273.3h0M1179.0 257.8h0M1128.2 245.0h0M1146.0 285.2h0M1155.5 297.3h0M1129.0 249.7h0M1170.5 229.7h0M1158.1 285.0h0M1167.8 268.5h0M1104.1 255.8h0M1125.2 257.1h0M1135.3 245.7h0M1157.5 273.9h0M1165.6 252.3h0M1116.0 306.3h0M1140.8 225.6h0M1119.0 251.8h0M1129.8 296.9h0M1144.9 240.0h0M1127.1 292.1h0M1160.7 233.1h0M1171.7 209.6h0M1093.7 299.5h0M1189.5 215.8h0M1150.8 240.5h0M1188.8 215.4h0M1150.1 281.1h0M1181.3 257.8h0M1148.5 242.8h0M1172.6 254.4h0M1178.2 235.6h0M1130.0 252.2h0M1155.1 232.5h0M1157.9 233.6h0M1195.3 279.3h0M1116.8 262.1h0M1172.6 257.8h0M1137.2 225.6h0M1202.4 233.2h0M1168.3 274.8h0M1168.7 213.9h0M1149.2 283.9h0M1125.8 253.9h0M1165.9 257.2h0M1165.1 272.4h0M1141.8 299.2h0M1122.4 260.8h0M1164.5 220.0h0M1112.6 293.8h0M1167.7 255.8h0M1172.8 252.3h0M1144.5 242.5h0M1140.8 245.6h0M1156.6 274.3h0M1156.7 236.3h0M1168.3 237.9h0M1111.1 271.3h0M1171.6 241.2h0M1166.8 258.4h0M1163.4 268.2h0M1120.4 230.3h0M1089.6 276.9h0M1100.4 316.0h0M1133.1 248.6h0M1172.9 283.3h0M1138.4 243.4h0M1122.2 251.0h0M1169.4 261.3h0M1170.0 254.6h0M1129.6 243.6h0M1148.1 237.1h0M1105.6 299.8h0M1151.6 238.7h0M1138.9 236.3h0M1144.0 234.9h0M1149.8 237.1h0M1149.1 296.6h0M1151.4 291.0h0M1173.2 237.4h0M1114.8 271.5h0M1161.7 291.9h0M1127.4 242.1h0M1124.3 238.9h0M1135.8 247.0h0M1146.0 243.9h0M1140.3 240.9h0M1176.8 248.9h0M1163.3 284.4h0M1115.9 263.6h0M1150.4 288.3h0M1178.3 223.1h0M1150.5 281.1h0M1195.9 273.0h0M1165.7 282.1h0M1145.8 209.8h0M1170.2 226.5h0M1156.9 284.7h0M1156.8 232.9h0M1122.7 308.0h0M1110.7 273.9h0M1170.6 243.3h0M1110.4 268.4h0M1173.1 250.9h0M1107.1 271.9h0M1121.5 219.3h0M1122.4 253.4h0M1117.1 306.1h0M1193.5 257.2h0M1132.3 245.6h0M1115.0 262.5h0M1115.2 263.9h0M1123.8 243.5h0M1154.2 281.4h0M1182.8 238.5h0M1183.5 222.1h0M1141.0 310.5h0M1150.9 237.6h0M1131.0 244.4h0M1162.0 243.0h0M1156.5 237.4h0M1163.2 269.0h0M1163.0 233.2h0M1181.6 252.5h0M1147.7 305.3h0M1179.4 235.4h0M1119.1 263.7h0M1165.1 232.9h0M1115.1 269.7h0M1170.6 269.8h0M1143.8 217.1h0M1189.2 262.5h0M1123.9 300.4h0M1171.7 240.0h0M1159.2 237.4h0M1149.1 297.7h0M1169.0 269.0h0M1107.2 268.8h0M1175.6 245.3h0M1141.4 238.8h0M1116.2 264.7h0M1153.6 222.5h0M1170.2 239.7h0M1134.4 290.0h0M1184.0 235.6h0M1123.3 299.2h0M1122.5 291.0h0M1183.1 272.4h0M1121.8 258.0h0M1156.4 275.8h0M1140.5 235.2h0M1104.9 289.1h0M1111.2 286.7h0M1201.0 257.9h0M1160.5 272.0h0M1162.1 276.5h0M1107.5 282.2h0M1153.9 291.0h0M1157.1 237.3h0M1104.1 287.2h0M1190.1 263.1h0M1164.0 232.4h0M1116.1 249.5h0M1171.1 232.5h0M1168.6 298.4h0M1145.1 293.4h0M1153.2 279.5h0M1147.9 287.6h0M1134.1 241.0h0M1132.4 250.8h0M1142.6 238.7h0M1115.9 290.4h0M1151.6 299.9h0M1152.4 283.7h0M1121.7 254.9h0M1172.1 249.1h0M1153.7 277.2h0M1168.8 236.4h0M1123.7 257.8h0M1146.8 228.4h0M1161.1 211.0h0M1144.1 244.2h0M1156.1 274.2h0M1140.2 288.6h0M1108.5 269.0h0M1147.4 236.9h0M1176.5 257.6h0M1158.7 272.5h0M1167.6 237.3h0M1138.2 298.2h0M1180.0 265.9h0M1140.7 236.5h0M1173.3 266.5h0M1102.7 275.9h0M1153.9 232.2h0M1148.8 242.6h0M1160.9 235.3h0M1179.3 244.0h0M1191.3 253.9h0M1111.0 271.2h0M1111.2 242.5h0M1194.6 258.5h0M1132.5 230.7h0M1114.2 275.1h0M1118.1 291.5h0M1136.8 225.1h0M1157.6 231.8h0M1154.5 280.2h0M1144.0 216.0h0M1161.9 281.4h0M1144.8 237.1h0M1143.8 236.0h0M1141.5 243.0h0M1171.3 264.8h0M1133.4 241.2h0M1164.7 264.5h0M1153.8 277.9h0M1181.0 269.4h0M1165.5 270.0h0M1177.7 224.4h0M1164.2 270.5h0M1141.9 240.6h0M1166.9 253.2h0M1158.8 278.5h0M1150.7 240.5h0M1091.4 240.2h0M1115.0 303.0h0M1120.1 258.5h0M1175.0 262.3h0M1120.1 235.2h0M1161.3 283.8h0M1129.4 249.8h0M1164.3 246.6h0M1086.2 246.8h0M1108.1 286.4h0M1158.4 239.7h0M1125.3 252.1h0M1158.1 240.3h0M1148.1 234.2h0M1150.6 240.9h0M1145.1 214.4h0M1154.6 237.2h0M1147.2 242.4h0M1130.7 237.2h0M1109.6 269.2h0M1137.4 289.0h0M1094.2 264.9h0M1155.5 277.7h0M1140.9 244.7h0M1105.8 290.3h0M1192.0 264.8h0M1157.9 224.7h0M1126.0 252.1h0M1157.1 229.4h0M1192.2 259.4h0M1159.2 237.4h0M1130.4 241.5h0M1159.3 275.1h0M1156.1 278.4h0M1151.2 288.6h0M1111.9 295.8h0M1197.0 258.0h0M1135.3 243.8h0M1108.8 246.0h0M1166.1 264.5h0M1169.1 259.3h0M1161.6 284.7h0M1166.9 246.6h0M1131.0 248.0h0M1159.2 292.6h0M1099.9 267.0h0M1149.0 226.5h0M1144.9 236.9h0M1162.6 276.0h0M1178.7 285.3h0M1144.4 287.4h0M1160.1 235.7h0M1156.6 235.2h0M1113.7 253.0h0M1168.4 270.4h0M1151.0 281.4h0M1193.6 236.6h0M1095.8 272.0h0M1163.4 266.6h0M1139.5 234.8h0M1151.0 281.5h0M1159.5 277.8h0M1135.3 233.9h0M1177.0 263.9h0M1146.7 237.4h0M1166.2 292.5h0M1166.6 235.3h0M1112.2 276.3h0M1136.5 239.4h0M1107.3 277.4h0M1126.7 252.8h0M1158.7 272.5h0M1173.2 247.2h0M1122.5 292.7h0M1163.1 273.6h0M1178.6 283.9h0M1127.6 299.6h0M1144.6 230.6h0M1145.4 302.0h0M1167.3 271.2h0M1169.5 261.9h0M1152.7 282.2h0M1164.6 306.4h0M1130.0 241.6h0M1153.9 198.8h0M1109.9 246.1h0M1208.6 238.2h0M1150.1 284.7h0M1186.7 254.8h0M1114.5 270.2h0M1125.2 255.5h0M1097.5 292.0h0M1106.8 278.6h0M1133.1 217.1h0M1148.1 289.5h0M1130.5 291.2h0M1147.8 290.6h0M1106.6 239.9h0M1174.9 241.2h0M1151.5 280.8h0M1153.7 235.4h0M1147.2 305.2h0M1127.6 250.5h0M1180.3 228.1h0M1179.2 242.4h0M1160.6 274.3h0M1163.3 239.3h0M1125.2 293.9h0M1148.0 232.0h0M1195.4 247.7h0M1173.1 250.7h0M1089.7 268.7h0M1166.0 234.4h0M1209.3 230.3h0M1136.6 247.6h0M1163.3 245.8h0M1094.2 298.0h0M1153.3 293.4h0M1110.8 272.1h0M1107.4 296.4h0M1153.4 288.3h0M1168.9 229.7h0M1113.5 274.6h0M1146.0 291.9h0M1167.6 266.8h0M1137.8 247.1h0M1172.7 269.5h0M1160.1 276.8h0M1165.3 260.0h0M1134.1 247.5h0M1148.7 286.3h0M1166.5 237.2h0M1132.3 308.3h0M1131.9 297.5h0M1178.2 253.7h0M1181.9 287.0h0M1183.8 250.9h0M1180.9 254.9h0M1127.0 245.2h0M1157.0 240.8h0M1156.6 281.6h0M1182.8 195.1h0M1158.8 242.3h0M1144.0 235.5h0M1130.1 252.2h0M1186.3 260.9h0M1163.1 230.3h0M1153.0 285.8h0M1126.9 252.2h0M1104.4 293.2h0M1144.9 239.3h0M1117.5 236.0h0M1146.0 243.5h0M1139.4 287.2h0M1099.8 285.8h0M1142.9 226.2h0M1192.4 219.1h0M1126.5 247.5h0M1136.2 247.8h0M1177.6 230.8h0M1154.4 290.1h0M1173.6 230.2h0M1167.8 220.0h0M1138.8 305.4h0M1164.7 245.1h0M1167.5 255.0h0M1143.3 305.4h0M1142.9 236.0h0M1163.7 245.4h0M1137.5 234.4h0M1108.1 279.8h0M1080.4 312.6h0M1157.9 299.3h0M1179.3 230.5h0M1139.8 233.1h0M1159.6 293.7h0M1196.5 214.6h0M1178.3 238.5h0M1145.6 286.8h0M1148.5 221.7h0M1189.5 269.0h0M1159.8 268.9h0M1171.8 263.7h0M1176.8 264.0h0M1125.3 249.2h0M1099.7 296.1h0M1172.0 214.7h0M1162.8 243.0h0M1117.7 253.1h0M1171.7 239.0h0M1164.4 301.3h0M1091.9 262.5h0M1125.2 235.1h0M1139.4 287.4h0M1129.3 294.3h0M1182.0 233.2h0M1182.2 270.4h0M1163.8 234.2h0M1164.9 267.9h0M1135.2 306.3h0M1142.1 233.7h0M1122.3 230.3h0M1198.9 254.6h0M1123.9 233.4h0M1170.8 226.1h0M1181.0 250.5h0M1116.9 254.6h0M1172.0 224.2h0M1121.6 261.6h0M1160.2 283.1h0M1204.2 239.7h0M1109.6 263.0h0M1141.4 241.5h0M1168.7 252.6h0M1136.8 299.8h0M1180.6 252.8h0M1136.4 308.6h0M1122.4 293.9h0M1193.7 219.4h0M1190.4 241.9h0M1134.7 243.9h0M1147.0 283.9h0M1122.1 256.9h0M1134.4 248.3h0M1130.3 252.7h0M1164.4 236.9h0M1125.9 249.6h0M1164.9 268.5h0M1177.7 220.2h0M1133.9 298.4h0M1122.0 243.4h0M1176.5 262.6h0M1125.0 292.3h0M1144.2 243.7h0M1160.1 242.8h0M1124.3 233.7h0M1157.0 224.8h0M1105.6 271.8h0M1116.6 255.1h0M1166.2 253.9h0M1139.5 294.7h0M1098.1 255.5h0M1191.6 245.0h0M1109.9 295.5h0M1175.0 257.7h0M1130.2 247.0h0M1162.6 243.8h0M1172.9 254.1h0M1110.7 237.6h0M1112.6 275.8h0M1159.2 272.6h0M1127.2 291.7h0M1170.9 239.5h0M1115.9 251.9h0M1162.3 235.4h0M1171.8 274.5h0M1139.9 235.9h0M1147.3 232.1h0M1166.5 271.6h0M1150.7 289.3h0M1159.1 270.0h0M1186.3 260.8h0M1166.1 273.3h0M1139.2 245.5h0M1135.8 302.6h0M1167.1 236.5h0M1111.9 244.1h0M1098.4 235.1h0M1150.5 239.5h0M1164.5 267.0h0M1160.3 287.2h0M1149.5 220.1h0M1099.5 288.7h0M1145.5 285.2h0M1173.8 241.6h0M1120.4 293.3h0M1142.3 244.2h0M1179.7 261.6h0M1162.0 271.4h0M1179.7 242.5h0M1159.0 299.6h0M1138.1 236.4h0M1128.3 300.1h0M1169.0 269.4h0M1181.5 232.2h0M1141.2 240.5h0M1163.7 234.0h0M1120.2 292.7h0M1172.1 289.5h0M1163.0 270.0h0M1155.5 277.2h0M1129.0 245.1h0M1154.9 293.3h0M1117.4 302.7h0M1129.8 237.8h0M1128.9 250.1h0M1142.1 237.6h0M1167.1 210.7h0M1118.9 261.2h0M1107.0 268.4h0M1170.6 234.6h0M1113.1 255.6h0M1121.8 293.8h0M1174.7 230.4h0M1167.6 252.2h0M1160.1 221.3h0M1155.2 221.2h0M1150.2 237.2h0M1124.7 291.6h0M1156.1 239.8h0M1150.3 285.3h0M1092.2 296.7h0M1170.3 277.9h0M1183.2 227.3h0M1157.6 226.4h0M1131.2 248.3h0M1174.9 226.6h0M1128.1 244.0h0M1123.5 300.7h0M1166.3 243.7h0M1123.7 302.7h0M1167.4 243.7h0M1145.3 286.6h0M1160.4 281.1h0M1127.9 252.3h0M1147.4 241.7h0M1162.4 274.4h0M1171.4 237.3h0M1132.9 293.4h0M1164.3 270.1h0M1153.6 228.0h0M1166.1 241.3h0M1164.7 266.8h0M1130.3 315.1h0M1169.8 242.1h0M1166.8 292.6h0M1179.7 284.8h0M1165.2 267.4h0M1181.2 254.0h0M1166.5 261.3h0M1157.3 230.3h0M1153.5 239.3h0M1182.1 241.7h0M1176.7 270.4h0M1182.6 282.8h0M1167.3 255.8h0M1123.9 241.0h0M1156.1 288.9h0M1115.9 289.4h0M1163.5 236.3h0M1118.0 291.3h0M1163.6 279.2h0M1140.4 239.5h0M1107.4 245.8h0M1134.8 289.3h0M1121.9 257.4h0M1166.0 255.2h0M1111.3 276.0h0M1110.5 284.7h0M1131.0 230.6h0M1151.5 230.9h0M1191.8 236.1h0M1168.2 220.4h0M1163.9 245.9h0M1177.6 225.7h0M1149.3 219.9h0M1157.5 276.2h0M1172.6 248.2h0M1122.5 304.5h0M1127.6 292.9h0M1112.1 269.8h0M1183.8 247.7h0M1170.5 262.4h0M1108.8 280.7h0M1128.9 292.7h0M1134.4 220.3h0M1131.2 244.3h0M1139.1 239.4h0M1103.8 235.3h0M1156.7 273.4h0M1124.2 254.7h0M1165.6 276.2h0M1131.3 248.3h0M1140.3 236.9h0M1168.9 257.5h0M1144.6 287.2h0M1172.6 255.1h0M1117.9 255.6h0M1184.4 291.6h0M1110.3 266.9h0M1115.8 266.3h0M1143.2 236.0h0M1113.7 294.5h0M1106.5 256.2h0M1169.4 253.0h0M1175.4 269.5h0M1119.2 248.9h0M1161.3 266.6h0M1123.9 248.8h0M1114.9 251.4h0M1162.3 277.6h0M1161.4 242.4h0M1170.1 280.2h0M1159.4 236.6h0M1206.5 247.9h0M1140.2 230.6h0M1157.5 276.1h0M1177.3 303.9h0M1156.5 281.5h0M1145.0 242.0h0M1148.2 240.2h0M1188.5 256.6h0M1149.4 288.2h0M1149.1 291.1h0M1156.1 225.2h0M1173.3 272.6h0M1119.1 257.7h0M1140.3 295.2h0M1165.9 267.6h0M1178.1 263.7h0M1152.5 293.7h0M1167.7 267.7h0M1166.6 260.3h0M1146.5 239.1h0M1146.7 241.7h0M1120.5 292.9h0M1205.3 178.9h0M1148.1 243.1h0M1158.3 280.1h0M1094.2 258.2h0M1156.6 276.7h0M1154.2 221.1h0M1167.5 215.4h0M1172.6 236.5h0M1160.8 230.3h0M1171.4 262.4h0M1164.9 242.3h0M1168.5 244.8h0M1126.3 255.5h0M1086.1 302.5h0M1157.4 217.2h0M1116.9 253.6h0M1161.9 220.5h0M1145.3 286.9h0M1153.0 237.1h0M1128.0 297.3h0M1183.2 288.8h0M1135.9 230.6h0M1100.2 272.9h0M1117.5 259.7h0M1160.2 241.8h0M1141.0 237.8h0M1184.4 252.0h0M1179.7 260.6h0M1110.1 283.6h0M1177.6 242.3h0M1118.2 250.1h0M1160.1 289.7h0M1163.9 274.1h0M1171.4 269.5h0M1111.2 271.1h0M1119.3 296.1h0M1111.1 271.9h0M1150.6 235.7h0M1115.4 270.5h0M1142.2 292.5h0M1120.3 255.5h0M1169.2 265.4h0M1101.6 269.6h0M1171.0 244.1h0M1143.9 309.2h0M1157.4 272.7h0M1160.7 288.8h0M1128.9 243.0h0M1142.4 238.9h0M1125.2 245.5h0M1093.7 311.3h0M1118.0 234.6h0M1116.7 309.5h0M1107.2 287.3h0M1108.4 269.0h0M1178.4 253.9h0M1109.0 291.2h0M1155.9 280.4h0M1133.3 250.1h0M1160.6 285.8h0M1161.8 269.8h0M1142.1 221.7h0M1118.2 250.7h0M1186.7 237.0h0M1126.1 250.9h0M1170.5 261.4h0M1176.3 237.5h0M1180.8 257.0h0M1165.0 280.8h0M1116.7 252.1h0M1141.1 303.8h0M1094.6 289.3h0M1157.5 288.8h0M1133.0 236.0h0M1164.5 241.8h0M1149.6 232.0h0M1096.9 275.8h0M1130.8 245.2h0M1160.6 278.4h0M1148.7 291.6h0M1168.5 235.4h0M1155.7 239.1h0M1185.9 254.5h0M1162.2 274.3h0M1149.8 287.2h0M1124.2 256.8h0M1180.0 239.2h0M1171.7 236.7h0M1169.7 247.8h0M1165.1 264.8h0M1137.9 241.9h0M1160.9 243.6h0M1153.2 289.0h0M1167.8 272.5h0M1118.4 300.1h0M1108.8 245.9h0M1131.0 241.8h0M1132.3 235.8h0M1157.9 241.6h0M1129.6 244.0h0M1117.0 290.3h0M1136.5 236.6h0M1155.1 284.7h0M1118.0 265.6h0M1156.1 239.5h0M1128.9 237.4h0M1129.8 231.8h0M1112.0 259.4h0M1159.3 218.9h0M1157.6 280.5h0M1152.9 241.9h0M1162.9 255.5h0M1159.2 237.9h0M1141.7 235.4h0M1159.9 240.1h0M1160.3 247.9h0M1170.2 218.6h0M1150.5 249.4h0M1154.5 253.7h0M1165.0 235.1h0M1137.1 249.0h0M1143.6 244.2h0M1165.4 251.6h0M1168.6 223.2h0M1179.3 247.5h0M1155.7 238.7h0M1155.6 239.4h0M1160.0 246.8h0M1169.4 253.7h0M1131.2 246.0h0M1159.6 227.1h0M1155.1 222.5h0M1155.6 248.7h0M1168.2 244.0h0M1173.6 248.6h0M1159.1 227.7h0M1153.6 241.3h0M1163.3 261.3h0M1152.7 250.0h0M1169.7 259.2h0M1154.1 248.2h0M1163.6 244.2h0M1147.3 247.3h0M1166.3 246.5h0M1166.7 239.1h0M1150.9 248.2h0M1158.1 247.0h0M1154.4 239.7h0M1164.5 250.5h0M1156.2 243.3h0M1159.0 248.4h0M1160.7 242.9h0M1151.7 249.3h0M1148.5 232.3h0M1165.9 245.7h0M1150.1 240.9h0M1153.0 242.1h0M1152.6 236.0h0M1156.6 236.7h0M1165.7 243.9h0M1150.3 242.7h0M1171.2 247.1h0M1144.9 237.6h0M1169.7 248.1h0M1152.9 257.6h0M1167.3 250.7h0M1160.0 227.8h0M1161.3 260.9h0M1154.9 235.1h0M1178.5 253.2h0M1153.3 257.0h0M1151.6 239.3h0M1154.1 250.0h0M1167.6 252.9h0M1163.9 239.5h0M1157.1 256.6h0M1152.8 246.5h0M1156.3 242.0h0M1152.0 233.8h0M1161.7 231.9h0M1151.2 241.2h0M1168.7 240.1h0M1164.6 235.7h0M1172.3 235.0h0M1160.8 253.5h0M1173.8 236.9h0M1160.2 252.2h0M1162.1 237.0h0M1164.0 249.7h0M1153.2 230.5h0M1151.9 247.9h0M1146.1 258.8h0M1157.4 241.5h0M1158.3 232.6h0M1167.3 250.7h0M1142.6 258.5h0M1158.7 233.1h0M1156.7 237.7h0M1161.8 241.3h0M1141.1 241.3h0M1157.6 240.6h0M1174.3 257.3h0M1155.8 237.9h0M1176.9 231.2h0M1146.7 246.9h0M1178.9 253.6h0M1166.0 231.1h0M1165.3 235.8h0M1167.5 242.4h0M1163.3 234.3h0M1165.4 239.9h0M1151.6 232.9h0M1154.3 254.6h0M1150.7 226.6h0M1159.2 230.8h0M1172.2 249.0h0M1175.7 239.5h0M1159.8 229.8h0M1161.8 244.6h0M1173.7 255.0h0M1152.7 249.5h0M1160.0 250.4h0M1153.9 244.2h0M1160.4 249.8h0M1156.5 254.1h0M1163.1 241.5h0M1161.9 244.1h0M1146.1 251.2h0M1153.0 243.8h0M1146.2 230.2h0M1167.2 236.1h0M1175.8 234.5h0M1156.0 252.5h0M1154.9 248.4h0M1147.6 239.9h0M1170.0 247.1h0M1152.9 242.4h0M1155.3 252.0h0M1163.3 255.2h0M1173.1 250.0h0M1161.2 237.1h0M1163.6 236.2h0M1166.2 246.6h0M1154.1 233.0h0M1163.4 255.7h0M1158.6 247.4h0M1135.4 246.5h0M1182.7 256.8h0M1153.4 244.9h0M1161.6 245.5h0M1149.8 246.9h0M1143.2 252.4h0M1142.5 258.2h0M1145.6 247.6h0M1163.5 254.7h0M1170.3 242.6h0M1157.1 237.2h0M1161.8 244.2h0M1163.1 243.6h0M1146.0 233.9h0M1166.0 244.1h0M1164.3 246.1h0M1163.7 247.5h0M1177.0 257.6h0M1172.5 223.7h0M1145.3 252.3h0M1168.0 231.3h0M1140.0 251.4h0M1154.3 245.6h0M1169.9 244.9h0M1154.3 247.3h0M1160.3 245.6h0M1179.0 238.4h0M1162.0 240.4h0M1164.7 257.6h0M1179.4 238.5h0M1169.5 225.0h0M1161.9 235.4h0M1160.7 244.1h0M1146.6 257.1h0M1160.1 251.1h0M1150.3 240.9h0M1153.2 219.3h0M1148.2 228.5h0M1161.9 249.2h0M1152.1 245.6h0M1171.1 247.7h0M1158.7 245.1h0M1170.0 248.0h0M1178.4 249.0h0M1149.9 235.6h0M1169.7 237.4h0M1158.0 248.8h0M1144.9 255.4h0M1160.2 234.8h0M1152.5 230.2h0M1146.1 234.1h0M1162.0 241.8h0M1159.5 253.6h0M1164.0 242.7h0M1171.5 238.5h0M1145.0 236.9h0M1155.7 238.2h0M1151.1 242.6h0M1171.6 228.8h0M1156.0 232.8h0M1172.1 228.3h0M1166.2 235.2h0M1135.6 251.2h0M1156.7 257.5h0M1176.5 245.9h0M1160.6 254.0h0M1161.4 237.8h0M1163.4 237.5h0M1161.9 222.3h0M1148.4 238.3h0M1165.3 251.0h0M1171.5 238.3h0M1165.8 235.7h0M1160.6 238.4h0M1142.7 245.4h0M1152.7 235.7h0M1171.4 251.3h0M1152.9 248.7h0M1172.1 252.3h0M1143.3 250.6h0M1143.6 231.9h0M1159.2 228.2h0M1154.6 240.8h0M1150.2 239.8h0M1172.5 237.4h0M1128.2 233.8h0M1152.4 250.6h0M1147.4 245.0h0M1158.2 253.8h0M1152.5 247.4h0M1156.3 247.3h0M1146.3 232.8h0M1171.3 227.1h0M1155.4 236.7h0M1178.7 241.4h0M1159.5 230.2h0M1175.9 245.0h0M1183.3 259.1h0M1153.0 238.5h0M1170.0 236.1h0M1148.2 240.1h0M1180.3 253.9h0M1161.0 244.4h0M1167.0 239.4h0M1154.7 253.1h0M1158.2 255.8h0M1150.7 243.2h0M1149.9 254.2h0M1157.0 217.5h0M1148.0 260.6h0M1155.9 248.2h0M1133.3 238.9h0M1176.2 244.0h0M1161.4 229.6h0M1165.1 226.1h0M1154.5 248.4h0M1170.0 233.7h0M1151.3 252.1h0M1161.1 244.0h0M1156.6 250.0h0M1176.4 235.3h0M1152.3 256.2h0M1156.4 254.7h0M1172.4 244.2h0M1174.1 240.1h0M1161.0 243.3h0M1164.0 249.6h0M1158.3 255.2h0M1168.5 252.8h0M1156.0 240.6h0M1163.2 241.2h0M1167.4 259.2h0M1157.6 229.2h0M1166.2 252.7h0M1139.0 240.2h0M1165.6 240.8h0M1162.5 248.7h0M1159.4 239.4h0M1149.5 229.6h0M1164.6 241.1h0M1156.6 235.7h0M1170.8 244.1h0M1168.1 258.5h0M1166.4 243.7h0M1138.4 242.5h0M1147.6 246.9h0M1154.7 244.1h0M1181.3 248.6h0M1152.6 231.8h0M1169.1 241.9h0M1157.9 248.4h0M1153.1 253.9h0M1162.0 235.4h0M1171.6 248.9h0M1162.4 241.8h0M1162.4 252.6h0M1160.5 233.7h0M1141.1 242.7h0M1162.5 252.1h0M1153.3 241.2h0M1149.7 253.8h0M1150.4 240.7h0M1164.3 247.4h0M1152.1 228.2h0M1165.1 234.5h0M1156.4 248.1h0M1165.5 253.0h0M1157.1 241.2h0M1157.7 246.6h0M1143.3 225.6h0M1165.2 244.2h0M1163.7 244.1h0M1156.3 245.1h0M1167.5 242.2h0M1167.6 240.1h0M1167.1 233.4h0M1150.0 234.0h0M1139.3 249.9h0M1174.4 254.6h0M1155.0 248.1h0M1173.8 252.8h0M1171.2 236.7h0M1159.0 254.9h0M1149.6 240.1h0M1154.3 246.4h0M1172.6 250.3h0M1141.8 224.3h0M1171.9 233.6h0M1176.6 264.8h0M1158.3 266.9h0M1176.8 241.3h0M1151.2 241.5h0M1157.3 239.2h0M1164.8 230.3h0M1161.7 224.7h0M1168.0 255.6h0M1159.2 245.7h0M1158.0 235.7h0M1147.9 258.9h0M1166.7 247.6h0M1166.3 246.2h0M1145.2 240.1h0M1153.6 233.3h0M1157.1 245.8h0M1160.2 245.8h0M1160.5 264.4h0M1157.5 245.2h0M1168.2 233.9h0M1161.2 255.9h0M1162.4 231.5h0M1174.7 245.2h0M1157.3 231.2h0M1170.8 256.8h0M1156.0 250.0h0M1148.0 240.3h0M1234.8 115.7h0M1180.7 118.6h0M1188.8 95.6h0M1234.1 120.7h0M1210.7 94.6h0M1228.5 102.5h0M1207.6 115.3h0M1214.8 115.9h0M1220.8 96.4h0M1205.9 106.6h0M1252.6 100.7h0M1245.1 97.4h0M1237.2 121.6h0M1207.5 114.1h0M1237.3 105.7h0M1214.6 119.2h0M1204.8 96.7h0M1246.5 125.1h0M1203.2 118.7h0M1221.3 99.6h0M1219.7 98.0h0M1225.3 115.9h0M1212.2 98.7h0M1242.8 104.7h0M1199.3 120.6h0M1190.1 103.6h0M1228.7 101.3h0M1222.9 119.3h0M1227.4 100.0h0M1235.7 119.2h0M1222.3 96.6h0M1232.9 99.4h0M1210.6 125.3h0M1187.8 111.4h0M1235.6 98.1h0M1233.6 118.8h0M1192.6 103.5h0M1196.4 112.8h0M1209.0 100.0h0M1234.6 95.6h0M1208.4 106.0h0M1186.0 96.1h0M1182.0 117.4h0M1252.5 100.6h0M1190.4 107.8h0M1234.0 114.7h0M1204.7 97.2h0M1210.1 111.3h0M1206.9 111.8h0M1204.0 124.9h0M1239.3 110.4h0M1211.5 101.2h0M1227.4 102.4h0M1209.3 119.9h0M1237.8 111.5h0M1235.1 125.5h0M1246.9 102.7h0M1190.6 100.4h0M1194.0 107.4h0M1193.5 109.4h0M1171.0 191.3h0M1165.2 165.5h0M1171.9 211.0h0M1134.8 188.0h0M1167.7 193.3h0M1143.0 201.1h0M1152.6 191.3h0M1154.5 154.1h0M1145.6 144.0h0M1140.8 190.4h0M1170.7 177.4h0M1143.2 203.9h0M1170.3 154.3h0M1135.7 175.4h0M1164.4 211.1h0M1148.9 144.3h0M1170.5 162.2h0M1172.6 162.0h0M1153.7 194.4h0M1155.7 190.2h0M1152.1 145.4h0M1173.7 212.9h0M1172.5 136.4h0M1168.3 197.9h0M1157.0 146.6h0M1147.9 194.6h0M1167.4 136.9h0M1141.7 137.2h0M1169.9 170.5h0M1168.1 185.1h0M1136.8 169.1h0M1137.2 141.8h0M1171.7 142.5h0M1149.3 189.7h0M1141.5 175.0h0M1160.1 154.3h0M1132.2 202.0h0M1159.3 184.1h0M1142.7 140.1h0M1173.0 158.3h0M1141.5 145.7h0M1151.1 213.5h0M1134.4 205.9h0M1148.8 178.8h0M1151.5 196.8h0M1136.9 193.8h0M1142.9 217.5h0M1172.2 202.2h0M1132.5 151.2h0M1169.4 156.2h0M1136.7 160.6h0M1142.0 203.1h0M1151.9 209.3h0M1169.9 199.8h0M1165.7 160.8h0M1133.0 147.6h0M1155.3 189.4h0M1173.5 173.5h0M1167.4 198.3h0M1173.1 169.6h0M1169.7 153.3h0M1138.2 200.0h0M1143.3 171.6h0M1163.5 171.6h0M1154.1 158.2h0M1164.0 166.8h0M1163.6 171.3h0M1160.4 163.7h0M1170.4 205.1h0M1158.5 205.0h0M1186.2 222.1h0M1198.1 253.0h0M1206.7 256.2h0M1212.5 253.9h0M1190.2 237.9h0M1188.4 220.3h0M1235.5 237.1h0M1188.2 236.2h0M1229.9 269.6h0M1195.1 233.5h0M1205.1 257.1h0M1179.0 221.5h0M1201.0 229.6h0M1181.7 224.0h0M1202.7 251.7h0M1184.6 252.7h0M1228.0 270.5h0M1231.0 235.5h0M1218.5 262.7h0M1190.4 220.5h0M1188.3 260.9h0M1218.9 261.1h0M1216.7 260.1h0M1217.0 261.7h0M1231.2 251.2h0M1177.1 227.5h0M1210.6 267.5h0M1212.7 248.5h0M1233.9 224.3h0M1202.1 225.6h0M1210.6 249.5h0M1228.4 224.5h0M1196.4 264.0h0M1222.7 240.1h0M1178.6 273.5h0M1228.7 267.9h0M1226.0 234.3h0M1185.5 236.7h0M1205.4 233.9h0M1186.5 258.1h0M1202.7 241.2h0M1186.6 245.9h0M1211.1 270.1h0M1196.2 233.5h0M1225.8 255.2h0M1216.2 238.2h0M1191.3 226.6h0M1179.7 269.4h0M1211.6 253.6h0M1186.8 225.3h0M1200.1 240.5h0M1207.7 240.7h0M1220.0 260.1h0M1229.9 232.9h0M1209.6 249.6h0M1178.2 268.7h0M1200.8 229.9h0M1210.9 226.7h0M1189.1 259.6h0M1233.7 273.0h0M1184.5 133.7h0M1246.1 153.5h0M1227.4 141.0h0M1200.5 133.5h0M1201.5 169.1h0M1208.3 137.1h0M1192.2 202.6h0M1183.8 197.3h0M1235.7 189.6h0M1191.3 160.0h0M1233.2 170.0h0M1207.4 212.1h0M1215.4 143.8h0M1195.4 163.4h0M1241.0 216.2h0M1230.7 180.0h0M1244.7 174.2h0M1179.8 204.3h0M1209.2 178.5h0M1245.3 181.5h0M1217.9 179.6h0M1205.1 202.2h0M1205.7 211.4h0M1206.2 156.7h0M1226.7 198.9h0" stroke="#e3141b" stroke-width="1.5" stroke-linecap="square" fill="none"/>
<ellipse cx="1139" cy="266" rx="34" ry="18" transform="rotate(-42 1139 266)" fill="#e3141b"/>
<rect x="1069.5" y="66.6" width="252" height="252" fill="none" stroke="#1a1a1a" stroke-width="1.4"/>
<path d="M1174.8 66.6V318.6M1069.5 216.8H1321.5" stroke="#1a1a1a" stroke-width="1.4" fill="none"/>
<path d="M1066 313.14H1069.5M1066 302.04H1069.5M1066 294.17H1069.5M1066 288.06H1069.5M1066 283.08H1069.5M1066 278.86H1069.5M1066 275.21H1069.5M1066 271.98H1069.5M1063 269.1H1069.5M1066 250.14H1069.5M1066 239.04H1069.5M1066 231.17H1069.5M1066 225.06H1069.5M1066 220.08H1069.5M1066 215.86H1069.5M1066 212.21H1069.5M1066 208.98H1069.5M1063 206.1H1069.5M1066 187.14H1069.5M1066 176.04H1069.5M1066 168.17H1069.5M1066 162.06H1069.5M1066 157.08H1069.5M1066 152.86H1069.5M1066 149.21H1069.5M1066 145.98H1069.5M1063 143.1H1069.5M1066 124.14H1069.5M1066 113.04H1069.5M1066 105.17H1069.5M1066 99.06H1069.5M1066 94.08H1069.5M1066 89.86H1069.5M1066 86.21H1069.5M1066 82.98H1069.5M1063 80.1H1069.5M1063 318.6H1069.5M1078.09 318.6V322.1M1089.03 318.6V322.1M1096.79 318.6V322.1M1102.81 318.6V322.1M1107.72 318.6V322.1M1111.88 318.6V322.1M1115.48 318.6V322.1M1118.66 318.6V322.1M1121.5 318.6V325.1M1140.19 318.6V322.1M1151.13 318.6V322.1M1158.89 318.6V322.1M1164.91 318.6V322.1M1169.82 318.6V322.1M1173.98 318.6V322.1M1177.58 318.6V322.1M1180.76 318.6V322.1M1183.6 318.6V325.1M1202.29 318.6V322.1M1213.23 318.6V322.1M1220.99 318.6V322.1M1227.01 318.6V322.1M1231.92 318.6V322.1M1236.08 318.6V322.1M1239.68 318.6V322.1M1242.86 318.6V322.1M1245.7 318.6V325.1M1264.39 318.6V322.1M1275.33 318.6V322.1M1283.09 318.6V322.1M1289.11 318.6V322.1M1294.02 318.6V322.1M1298.18 318.6V322.1M1301.78 318.6V322.1M1304.96 318.6V322.1M1307.8 318.6V325.1M1069.5 318.6V325.1M1321.5 318.6V325.1" stroke="#1a1a1a" stroke-width="1.2" fill="none"/>
<text x="1123.5" y="339.6" font-size="12.5" text-anchor="middle" fill="#222">10<tspan dy="-5" font-size="8.8">4</tspan></text>
<text x="1058" y="271.1" font-size="12.5" text-anchor="middle" fill="#222" transform="rotate(-90 1058 271.1)">10<tspan dy="-5" font-size="8.8">4</tspan></text>
<text x="1185.6" y="339.6" font-size="12.5" text-anchor="middle" fill="#222">10<tspan dy="-5" font-size="8.8">5</tspan></text>
<text x="1058" y="208.1" font-size="12.5" text-anchor="middle" fill="#222" transform="rotate(-90 1058 208.1)">10<tspan dy="-5" font-size="8.8">5</tspan></text>
<text x="1247.7" y="339.6" font-size="12.5" text-anchor="middle" fill="#222">10<tspan dy="-5" font-size="8.8">6</tspan></text>
<text x="1058" y="145.1" font-size="12.5" text-anchor="middle" fill="#222" transform="rotate(-90 1058 145.1)">10<tspan dy="-5" font-size="8.8">6</tspan></text>
<text x="1309.8" y="339.6" font-size="12.5" text-anchor="middle" fill="#222">10<tspan dy="-5" font-size="8.8">7</tspan></text>
<text x="1058" y="82.1" font-size="12.5" text-anchor="middle" fill="#222" transform="rotate(-90 1058 82.1)">10<tspan dy="-5" font-size="8.8">7</tspan></text>
<text x="1074" y="82.6" font-size="13.1" fill="#1a1a1a">Q1-UL(0.87%)</text>
<text x="1317" y="82.6" font-size="13.1" text-anchor="end" fill="#1a1a1a">Q1-UR(0.94%)</text>
<text x="1074" y="310.8" font-size="13.1" fill="#1a1a1a">Q1-LL(96.80%)</text>
<text x="1317" y="310.8" font-size="13.1" text-anchor="end" fill="#1a1a1a">Q1-LR(1.39%)</text>
<text x="1195.5" y="356.4" font-size="13.1" text-anchor="middle" fill="#1a1a1a">Annexin V FITC-A</text>
<text x="1039" y="192.6" font-size="13.1" text-anchor="middle" transform="rotate(-90 1039 192.6)" fill="#1a1a1a">PI PC5.5-A</text>
<text x="1196" y="49.5" font-size="20.6" font-weight="bold" text-anchor="middle" fill="#000">500 µg/mL anserine</text>
<rect x="1430.6" y="263.07" width="36.8" height="54.33" fill="#63625c" stroke="#4f4e4a" stroke-width="1.3"/>
<path d="M1449 262.47V251.68M1439.12 251.68H1458.88" stroke="#55544e" stroke-width="1.6" fill="none"/>
<rect x="1488.6" y="116.75" width="36.8" height="200.65" fill="#bcaf9b" stroke="#b3a386" stroke-width="1.3"/>
<path d="M1507 116.15V85.34M1497.12 85.34H1516.88" stroke="#b5a68c" stroke-width="1.6" fill="none"/>
<rect x="1546.1" y="161.41" width="36.8" height="155.99" fill="#a29282" stroke="#978775" stroke-width="1.3"/>
<path d="M1564.5 160.81V154.65M1554.62 154.65H1574.38" stroke="#9a8a79" stroke-width="1.6" fill="none"/>
<rect x="1603.9" y="207.62" width="36.8" height="109.78" fill="#dc8b57" stroke="#d87a42" stroke-width="1.3"/>
<path d="M1622.3 207.02V197.78M1612.42 197.78H1632.18" stroke="#dd8b55" stroke-width="1.6" fill="none"/>
<path d="M1410.7 60.7V320.4" stroke="#000" stroke-width="2.2" fill="none"/>
<path d="M1399.7 317.4H1663" stroke="#000" stroke-width="2.2" fill="none"/>
<path d="M1399.7 266.06H1410.7M1399.7 214.72H1410.7M1399.7 163.38H1410.7M1399.7 112.04H1410.7M1399.7 60.7H1410.7" stroke="#000" stroke-width="2.2" fill="none"/>
<path d="M1449 317.4V330.4M1507 317.4V330.4M1564.5 317.4V330.4M1622.3 317.4V330.4" stroke="#000" stroke-width="2.2" fill="none"/>
<text x="1396.9" y="324.49" font-size="19.7" font-weight="bold" text-anchor="end" fill="#000">0</text>
<text x="1396.9" y="273.15" font-size="19.7" font-weight="bold" text-anchor="end" fill="#000">1</text>
<text x="1396.9" y="221.81" font-size="19.7" font-weight="bold" text-anchor="end" fill="#000">2</text>
<text x="1396.9" y="170.47" font-size="19.7" font-weight="bold" text-anchor="end" fill="#000">3</text>
<text x="1396.9" y="119.13" font-size="19.7" font-weight="bold" text-anchor="end" fill="#000">4</text>
<text x="1396.9" y="67.79" font-size="19.7" font-weight="bold" text-anchor="end" fill="#000">5</text>
<text x="1507" y="83.09" font-size="21.5" text-anchor="middle" fill="#000">***</text>
<text x="1567" y="125.74" font-size="21.5" text-anchor="middle" fill="#000" stroke="#000" stroke-width="0.35">#</text>
<text x="1564.5" y="150.09" font-size="21.5" text-anchor="middle" fill="#000">***</text>
<text x="1624.8" y="137.74" font-size="21.5" text-anchor="middle" fill="#000" stroke="#000" stroke-width="0.35">&</text>
<text x="1624.8" y="167.24" font-size="21.5" text-anchor="middle" fill="#000" stroke="#000" stroke-width="0.35">###</text>
<text x="1622.3" y="195.4" font-size="21.5" text-anchor="middle" fill="#000">*</text>
<text x="1375.95" y="185" font-size="19.3" font-weight="bold" text-anchor="middle" transform="rotate(-90 1375.95 185)" fill="#000">Apoptosis rate (%)</text>
<text x="1455.7" y="345.7" font-size="19.5" font-weight="bold" text-anchor="end" transform="rotate(-45 1455.7 345.7)" fill="#000">Control</text>
<text x="1513.5" y="345.9" font-size="19.5" font-weight="bold" text-anchor="end" transform="rotate(-45 1513.5 345.9)" fill="#000">Model</text>
<text x="1572" y="343.5" font-size="19.5" font-weight="bold" text-anchor="end" transform="rotate(-45 1572 343.5)" fill="#000">50 µg/mLanserine</text>
<text x="1631.6" y="345" font-size="19.5" font-weight="bold" text-anchor="end" transform="rotate(-45 1631.6 345)" fill="#000">500 µg/mLanserine</text>
<rect x="152.85" y="551.6" width="40.3" height="186.5" fill="#63625c" stroke="#4f4e4a" stroke-width="1.3"/>
<path d="M173 551V535.1M162.21 535.1H183.79" stroke="#55544e" stroke-width="1.6" fill="none"/>
<rect x="216.35" y="650.76" width="40.3" height="87.34" fill="#bcaf9b" stroke="#b3a386" stroke-width="1.3"/>
<path d="M236.5 650.16V642.68M225.71 642.68H247.29" stroke="#b5a68c" stroke-width="1.6" fill="none"/>
<rect x="279.85" y="606.79" width="40.3" height="131.31" fill="#a29282" stroke="#978775" stroke-width="1.3"/>
<path d="M300 606.19V596.65M289.21 596.65H310.79" stroke="#9a8a79" stroke-width="1.6" fill="none"/>
<rect x="343.85" y="579.67" width="40.3" height="158.43" fill="#dc8b57" stroke="#d87a42" stroke-width="1.3"/>
<path d="M364 579.07V571.96M353.21 571.96H374.79" stroke="#dd8b55" stroke-width="1.6" fill="none"/>
<path d="M130 457.45V741.1" stroke="#000" stroke-width="2.2" fill="none"/>
<path d="M117.7 738.1H408.5" stroke="#000" stroke-width="2.2" fill="none"/>
<path d="M117.7 644.55H130M117.7 551H130M117.7 457.45H130" stroke="#000" stroke-width="2.2" fill="none"/>
<path d="M173 738.1V751.1M236.5 738.1V751.1M300 738.1V751.1M364 738.1V751.1" stroke="#000" stroke-width="2.2" fill="none"/>
<text x="115" y="745.84" font-size="21.5" font-weight="bold" text-anchor="end" fill="#000">0</text>
<text x="115" y="652.29" font-size="21.5" font-weight="bold" text-anchor="end" fill="#000">50</text>
<text x="115" y="558.74" font-size="21.5" font-weight="bold" text-anchor="end" fill="#000">100</text>
<text x="115" y="465.19" font-size="21.5" font-weight="bold" text-anchor="end" fill="#000">150</text>
<text x="236.5" y="627.73" font-size="22.7" text-anchor="middle" fill="#000">***</text>
<text x="302.5" y="559.87" font-size="22.7" text-anchor="middle" fill="#000" stroke="#000" stroke-width="0.35">##</text>
<text x="300" y="586.73" font-size="22.7" text-anchor="middle" fill="#000">***</text>
<text x="366.5" y="495.77" font-size="22.7" text-anchor="middle" fill="#000" stroke="#000" stroke-width="0.35">&</text>
<text x="366.5" y="528.47" font-size="22.7" text-anchor="middle" fill="#000" stroke="#000" stroke-width="0.35">###</text>
<text x="364" y="559.73" font-size="22.7" text-anchor="middle" fill="#000">*</text>
<text x="69.22" y="605" font-size="22" font-weight="bold" text-anchor="middle" transform="rotate(-90 69.22 605)" fill="#000">Cell viability (%)</text>
<text x="178.1" y="770.3" font-size="19.8" font-weight="bold" text-anchor="end" transform="rotate(-45 178.1 770.3)" fill="#000">Control</text>
<text x="237.5" y="770.6" font-size="19.8" font-weight="bold" text-anchor="end" transform="rotate(-45 237.5 770.6)" fill="#000">Model</text>
<text x="306.4" y="768.1" font-size="19.8" font-weight="bold" text-anchor="end" transform="rotate(-45 306.4 768.1)" fill="#000">50 µg/mLanserine</text>
<text x="373.1" y="770.8" font-size="19.8" font-weight="bold" text-anchor="end" transform="rotate(-45 373.1 770.8)" fill="#000">500 µg/mLanserine</text>
<rect x="521" y="523.49" width="33.8" height="215.71" fill="#63625c" stroke="#4f4e4a" stroke-width="1.3"/>
<path d="M537.9 522.89V520.47M528.8 520.47H547" stroke="#55544e" stroke-width="1.6" fill="none"/>
<rect x="574.9" y="636.98" width="33.8" height="102.22" fill="#bcaf9b" stroke="#b3a386" stroke-width="1.3"/>
<path d="M591.8 636.38V632.99M582.7 632.99H600.9" stroke="#b5a68c" stroke-width="1.6" fill="none"/>
<rect x="628.7" y="591.88" width="33.8" height="147.32" fill="#a29282" stroke="#978775" stroke-width="1.3"/>
<path d="M645.6 591.28V587.88M636.5 587.88H654.7" stroke="#9a8a79" stroke-width="1.6" fill="none"/>
<rect x="682.8" y="552.11" width="33.8" height="187.09" fill="#dc8b57" stroke="#d87a42" stroke-width="1.3"/>
<path d="M699.7 551.51V548.6M690.6 548.6H708.8" stroke="#dd8b55" stroke-width="1.6" fill="none"/>
<path d="M501.7 496.7V742.2" stroke="#000" stroke-width="2.2" fill="none"/>
<path d="M491.4 739.2H737.4" stroke="#000" stroke-width="2.2" fill="none"/>
<path d="M491.4 690.7H501.7M491.4 642.2H501.7M491.4 593.7H501.7M491.4 545.2H501.7M491.4 496.7H501.7" stroke="#000" stroke-width="2.2" fill="none"/>
<path d="M537.9 739.2V752.2M591.8 739.2V752.2M645.6 739.2V752.2M699.7 739.2V752.2" stroke="#000" stroke-width="2.2" fill="none"/>
<text x="489.5" y="745.97" font-size="18.8" font-weight="bold" text-anchor="end" fill="#000">0</text>
<text x="489.5" y="697.47" font-size="18.8" font-weight="bold" text-anchor="end" fill="#000">10</text>
<text x="489.5" y="648.97" font-size="18.8" font-weight="bold" text-anchor="end" fill="#000">20</text>
<text x="489.5" y="600.47" font-size="18.8" font-weight="bold" text-anchor="end" fill="#000">30</text>
<text x="489.5" y="551.97" font-size="18.8" font-weight="bold" text-anchor="end" fill="#000">40</text>
<text x="489.5" y="503.47" font-size="18.8" font-weight="bold" text-anchor="end" fill="#000">50</text>
<text x="591.8" y="623.6" font-size="20" text-anchor="middle" fill="#000">***</text>
<text x="648.1" y="554.2" font-size="20" text-anchor="middle" fill="#000" stroke="#000" stroke-width="0.35">###</text>
<text x="645.6" y="580.9" font-size="20" text-anchor="middle" fill="#000">***</text>
<text x="702.2" y="499.8" font-size="20" text-anchor="middle" fill="#000" stroke="#000" stroke-width="0.35">&&&</text>
<text x="702.2" y="524.9" font-size="20" text-anchor="middle" fill="#000" stroke="#000" stroke-width="0.35">###</text>
<text x="699.7" y="548.2" font-size="20" text-anchor="middle" fill="#000">***</text>
<text x="459.22" y="624.8" font-size="18.1" font-weight="bold" text-anchor="middle" transform="rotate(-90 459.22 624.8)" fill="#000">Concentration  (µmol/L)</text>
<text x="586.2" y="765.6" font-size="19.3" font-weight="bold" text-anchor="end" transform="rotate(-45 586.2 765.6)" fill="#000">Control</text>
<text x="635.5" y="765.8" font-size="19.3" font-weight="bold" text-anchor="end" transform="rotate(-45 635.5 765.8)" fill="#000">Model</text>
<text x="661" y="763.3" font-size="19.3" font-weight="bold" text-anchor="end" transform="rotate(-45 661 763.3)" fill="#000">50 µg/mLanserine</text>
<text x="713.7" y="765.2" font-size="19.3" font-weight="bold" text-anchor="end" transform="rotate(-45 713.7 765.2)" fill="#000">500 µg/mLanserine</text>
<text x="607.4" y="456.7" font-size="20.8" font-weight="bold" text-anchor="middle" fill="#000">NO</text>
<rect x="872.1" y="683.08" width="34.8" height="53.32" fill="#63625c" stroke="#4f4e4a" stroke-width="1.3"/>
<path d="M889.5 682.48V680.53M880.14 680.53H898.86" stroke="#55544e" stroke-width="1.6" fill="none"/>
<rect x="927.3" y="527.62" width="34.8" height="208.78" fill="#bcaf9b" stroke="#b3a386" stroke-width="1.3"/>
<path d="M944.7 527.02V524.59M935.34 524.59H954.06" stroke="#b5a68c" stroke-width="1.6" fill="none"/>
<rect x="982.3" y="561.63" width="34.8" height="174.77" fill="#a29282" stroke="#978775" stroke-width="1.3"/>
<path d="M999.7 561.03V557.63M990.34 557.63H1009.06" stroke="#9a8a79" stroke-width="1.6" fill="none"/>
<rect x="1037.6" y="607.29" width="34.8" height="129.11" fill="#dc8b57" stroke="#d87a42" stroke-width="1.3"/>
<path d="M1055 606.69V603.78M1045.64 603.78H1064.36" stroke="#dd8b55" stroke-width="1.6" fill="none"/>
<path d="M853 493.5V739.4" stroke="#000" stroke-width="2.2" fill="none"/>
<path d="M842.2 736.4H1093" stroke="#000" stroke-width="2.2" fill="none"/>
<path d="M842.2 687.82H853M842.2 639.24H853M842.2 590.66H853M842.2 542.08H853M842.2 493.5H853" stroke="#000" stroke-width="2.2" fill="none"/>
<path d="M889.5 736.4V749.4M944.7 736.4V749.4M999.7 736.4V749.4M1055 736.4V749.4" stroke="#000" stroke-width="2.2" fill="none"/>
<text x="840.4" y="743.13" font-size="18.7" font-weight="bold" text-anchor="end" fill="#000">0</text>
<text x="840.4" y="694.55" font-size="18.7" font-weight="bold" text-anchor="end" fill="#000">10</text>
<text x="840.4" y="645.97" font-size="18.7" font-weight="bold" text-anchor="end" fill="#000">20</text>
<text x="840.4" y="597.39" font-size="18.7" font-weight="bold" text-anchor="end" fill="#000">30</text>
<text x="840.4" y="548.81" font-size="18.7" font-weight="bold" text-anchor="end" fill="#000">40</text>
<text x="840.4" y="500.23" font-size="18.7" font-weight="bold" text-anchor="end" fill="#000">50</text>
<text x="944.7" y="518.3" font-size="20" text-anchor="middle" fill="#000">***</text>
<text x="1002.2" y="527.6" font-size="20" text-anchor="middle" fill="#000" stroke="#000" stroke-width="0.35">###</text>
<text x="999.7" y="550.9" font-size="20" text-anchor="middle" fill="#000">***</text>
<text x="1057.5" y="561.6" font-size="20" text-anchor="middle" fill="#000" stroke="#000" stroke-width="0.35">&&&</text>
<text x="1057.5" y="583.5" font-size="20" text-anchor="middle" fill="#000" stroke="#000" stroke-width="0.35">###</text>
<text x="1055" y="606.1" font-size="20" text-anchor="middle" fill="#000">***</text>
<text x="810.84" y="616.5" font-size="19" font-weight="bold" text-anchor="middle" transform="rotate(-90 810.84 616.5)" fill="#000">Concentration  (ng/mL)</text>
<text x="899.2" y="771.2" font-size="23.6" font-weight="bold" text-anchor="end" transform="rotate(-45 899.2 771.2)" fill="#000">Control</text>
<text x="962" y="774.2" font-size="23.6" font-weight="bold" text-anchor="end" transform="rotate(-45 962 774.2)" fill="#000">Model</text>
<text x="1014" y="773.4" font-size="23.6" font-weight="bold" text-anchor="end" transform="rotate(-45 1014 773.4)" fill="#000">50 µg/mLanserine</text>
<text x="1073.1" y="771.9" font-size="23.6" font-weight="bold" text-anchor="end" transform="rotate(-45 1073.1 771.9)" fill="#000">500 µg/mLanserine</text>
<text x="952" y="472.2" font-size="25.5" font-weight="bold" text-anchor="middle" fill="#000">vWF</text>
<rect x="1193.8" y="707.07" width="35.2" height="28.83" fill="#63625c" stroke="#4f4e4a" stroke-width="1.3"/>
<path d="M1211.4 706.47V704.04M1201.94 704.04H1220.86" stroke="#55544e" stroke-width="1.6" fill="none"/>
<rect x="1248.8" y="553.37" width="35.2" height="182.53" fill="#bcaf9b" stroke="#b3a386" stroke-width="1.3"/>
<path d="M1266.4 552.77V549.12M1256.94 549.12H1275.86" stroke="#b5a68c" stroke-width="1.6" fill="none"/>
<rect x="1303.9" y="595.2" width="35.2" height="140.7" fill="#a29282" stroke="#978775" stroke-width="1.3"/>
<path d="M1321.5 594.6V592.17M1312.04 592.17H1330.96" stroke="#9a8a79" stroke-width="1.6" fill="none"/>
<rect x="1358.9" y="645.79" width="35.2" height="90.11" fill="#dc8b57" stroke="#d87a42" stroke-width="1.3"/>
<path d="M1376.5 645.19V642.27M1367.04 642.27H1385.96" stroke="#dd8b55" stroke-width="1.6" fill="none"/>
<path d="M1174.5 492.7V738.9" stroke="#000" stroke-width="2.2" fill="none"/>
<path d="M1163.7 735.9H1415.1" stroke="#000" stroke-width="2.2" fill="none"/>
<path d="M1163.7 687.26H1174.5M1163.7 638.62H1174.5M1163.7 589.98H1174.5M1163.7 541.34H1174.5M1163.7 492.7H1174.5" stroke="#000" stroke-width="2.2" fill="none"/>
<path d="M1211.4 735.9V748.9M1266.4 735.9V748.9M1321.5 735.9V748.9M1376.5 735.9V748.9" stroke="#000" stroke-width="2.2" fill="none"/>
<text x="1161.8" y="742.74" font-size="19" font-weight="bold" text-anchor="end" fill="#000">0</text>
<text x="1161.8" y="694.1" font-size="19" font-weight="bold" text-anchor="end" fill="#000">20</text>
<text x="1161.8" y="645.46" font-size="19" font-weight="bold" text-anchor="end" fill="#000">40</text>
<text x="1161.8" y="596.82" font-size="19" font-weight="bold" text-anchor="end" fill="#000">60</text>
<text x="1161.8" y="548.18" font-size="19" font-weight="bold" text-anchor="end" fill="#000">80</text>
<text x="1161.8" y="499.54" font-size="19" font-weight="bold" text-anchor="end" fill="#000">100</text>
<text x="1266.4" y="543" font-size="20" text-anchor="middle" fill="#000">***</text>
<text x="1324" y="567.8" font-size="20" text-anchor="middle" fill="#000" stroke="#000" stroke-width="0.35">###</text>
<text x="1321.5" y="589.1" font-size="20" text-anchor="middle" fill="#000">***</text>
<text x="1379" y="594.7" font-size="20" text-anchor="middle" fill="#000" stroke="#000" stroke-width="0.35">&&&</text>
<text x="1379" y="617.7" font-size="20" text-anchor="middle" fill="#000" stroke="#000" stroke-width="0.35">###</text>
<text x="1376.5" y="638.2" font-size="20" text-anchor="middle" fill="#000">***</text>
<text x="1122.26" y="618" font-size="18.5" font-weight="bold" text-anchor="middle" transform="rotate(-90 1122.26 618)" fill="#000">Concentration  (pg/mL)</text>
<text x="1222.9" y="778.9" font-size="21.2" font-weight="bold" text-anchor="end" transform="rotate(-45 1222.9 778.9)" fill="#000">Control</text>
<text x="1274.1" y="778.9" font-size="21.2" font-weight="bold" text-anchor="end" transform="rotate(-45 1274.1 778.9)" fill="#000">Model</text>
<text x="1330.7" y="778.9" font-size="21.2" font-weight="bold" text-anchor="end" transform="rotate(-45 1330.7 778.9)" fill="#000">50 µg/mLanserine</text>
<text x="1385.7" y="779.6" font-size="21.2" font-weight="bold" text-anchor="end" transform="rotate(-45 1385.7 779.6)" fill="#000">500 µg/mLanserine</text>
<text x="1292.8" y="471" font-size="25.5" font-weight="bold" text-anchor="middle" fill="#000">P-selectin</text>
<rect x="1546" y="646.9" width="35.2" height="87" fill="#63625c" stroke="#4f4e4a" stroke-width="1.3"/>
<path d="M1563.6 646.3V636.09M1554.14 636.09H1573.06" stroke="#55544e" stroke-width="1.6" fill="none"/>
<rect x="1601.2" y="525.36" width="35.2" height="208.54" fill="#bcaf9b" stroke="#b3a386" stroke-width="1.3"/>
<path d="M1618.8 524.76V521.43M1609.34 521.43H1628.26" stroke="#b5a68c" stroke-width="1.6" fill="none"/>
<rect x="1656.2" y="568.4" width="35.2" height="165.5" fill="#a29282" stroke="#978775" stroke-width="1.3"/>
<path d="M1673.8 567.8V564.77M1664.34 564.77H1683.26" stroke="#9a8a79" stroke-width="1.6" fill="none"/>
<rect x="1711.4" y="595.07" width="35.2" height="138.83" fill="#dc8b57" stroke="#d87a42" stroke-width="1.3"/>
<path d="M1729 594.47V590.53M1719.54 590.53H1738.46" stroke="#dd8b55" stroke-width="1.6" fill="none"/>
<path d="M1527 491.42V736.9" stroke="#000" stroke-width="2.2" fill="none"/>
<path d="M1516 733.9H1768.2" stroke="#000" stroke-width="2.2" fill="none"/>
<path d="M1516 673.28H1527M1516 612.66H1527M1516 552.04H1527M1516 491.42H1527" stroke="#000" stroke-width="2.2" fill="none"/>
<path d="M1563.6 733.9V746.9M1618.8 733.9V746.9M1673.8 733.9V746.9M1729 733.9V746.9" stroke="#000" stroke-width="2.2" fill="none"/>
<text x="1513.6" y="740.49" font-size="18.3" font-weight="bold" text-anchor="end" fill="#000">0</text>
<text x="1513.6" y="679.87" font-size="18.3" font-weight="bold" text-anchor="end" fill="#000">200</text>
<text x="1513.6" y="619.25" font-size="18.3" font-weight="bold" text-anchor="end" fill="#000">400</text>
<text x="1513.6" y="558.63" font-size="18.3" font-weight="bold" text-anchor="end" fill="#000">600</text>
<text x="1513.6" y="498.01" font-size="18.3" font-weight="bold" text-anchor="end" fill="#000">800</text>
<text x="1618.8" y="512.3" font-size="20" text-anchor="middle" fill="#000">***</text>
<text x="1676.3" y="537" font-size="20" text-anchor="middle" fill="#000" stroke="#000" stroke-width="0.35">###</text>
<text x="1673.8" y="562.2" font-size="20" text-anchor="middle" fill="#000">***</text>
<text x="1731.5" y="540.9" font-size="20" text-anchor="middle" fill="#000" stroke="#000" stroke-width="0.35">&&</text>
<text x="1731.5" y="562.6" font-size="20" text-anchor="middle" fill="#000" stroke="#000" stroke-width="0.35">###</text>
<text x="1729" y="589.1" font-size="20" text-anchor="middle" fill="#000">***</text>
<text x="1473.3" y="616.3" font-size="18.6" font-weight="bold" text-anchor="middle" transform="rotate(-90 1473.3 616.3)" fill="#000">Concentration  (pg/mL)</text>
<text x="1569.8" y="778.5" font-size="21.2" font-weight="bold" text-anchor="end" transform="rotate(-45 1569.8 778.5)" fill="#000">Control</text>
<text x="1623.4" y="778.5" font-size="21.2" font-weight="bold" text-anchor="end" transform="rotate(-45 1623.4 778.5)" fill="#000">Model</text>
<text x="1680" y="776.2" font-size="21.2" font-weight="bold" text-anchor="end" transform="rotate(-45 1680 776.2)" fill="#000">50 µg/mLanserine</text>
<text x="1736.7" y="777.7" font-size="21.2" font-weight="bold" text-anchor="end" transform="rotate(-45 1736.7 777.7)" fill="#000">500 µg/mLanserine</text>
<text x="1653.3" y="468.4" font-size="25.5" font-weight="bold" text-anchor="middle" fill="#000">E-selectin</text>
<rect x="148.85" y="1138.5" width="35.1" height="46.9" fill="#63625c" stroke="#4f4e4a" stroke-width="1.3"/>
<rect x="203.25" y="977.48" width="35.1" height="207.92" fill="#bcaf9b" stroke="#b3a386" stroke-width="1.3"/>
<path d="M220.8 976.88V970.7M211.36 970.7H230.24" stroke="#b5a68c" stroke-width="1.6" fill="none"/>
<rect x="257.95" y="1028.3" width="35.1" height="157.1" fill="#a29282" stroke="#978775" stroke-width="1.3"/>
<path d="M275.5 1027.7V1022.48M266.06 1022.48H284.94" stroke="#9a8a79" stroke-width="1.6" fill="none"/>
<rect x="312.75" y="1090.05" width="35.1" height="95.35" fill="#dc8b57" stroke="#d87a42" stroke-width="1.3"/>
<path d="M330.3 1089.45V1087.55M320.86 1087.55H339.74" stroke="#dd8b55" stroke-width="1.6" fill="none"/>
<path d="M130.3 947.9V1188.4" stroke="#000" stroke-width="2.2" fill="none"/>
<path d="M119 1185.4H368.3" stroke="#000" stroke-width="2.2" fill="none"/>
<path d="M119 1137.9H130.3M119 1090.4H130.3M119 1042.9H130.3M119 995.4H130.3M119 947.9H130.3" stroke="#000" stroke-width="2.2" fill="none"/>
<path d="M166.4 1185.4V1198.4M220.8 1185.4V1198.4M275.5 1185.4V1198.4M330.3 1185.4V1198.4" stroke="#000" stroke-width="2.2" fill="none"/>
<text x="117.3" y="1192.02" font-size="18.4" font-weight="bold" text-anchor="end" fill="#000">0</text>
<text x="117.3" y="1144.52" font-size="18.4" font-weight="bold" text-anchor="end" fill="#000">1</text>
<text x="117.3" y="1097.02" font-size="18.4" font-weight="bold" text-anchor="end" fill="#000">2</text>
<text x="117.3" y="1049.52" font-size="18.4" font-weight="bold" text-anchor="end" fill="#000">3</text>
<text x="117.3" y="1002.02" font-size="18.4" font-weight="bold" text-anchor="end" fill="#000">4</text>
<text x="117.3" y="954.52" font-size="18.4" font-weight="bold" text-anchor="end" fill="#000">5</text>
<text x="220.8" y="965.6" font-size="20" text-anchor="middle" fill="#000">***</text>
<text x="278" y="996.2" font-size="20" text-anchor="middle" fill="#000" stroke="#000" stroke-width="0.35">###</text>
<text x="275.5" y="1016.6" font-size="20" text-anchor="middle" fill="#000">***</text>
<text x="332.8" y="1042.4" font-size="20" text-anchor="middle" fill="#000" stroke="#000" stroke-width="0.35">&&</text>
<text x="332.8" y="1062.8" font-size="20" text-anchor="middle" fill="#000" stroke="#000" stroke-width="0.35">###</text>
<text x="330.3" y="1086.1" font-size="20" text-anchor="middle" fill="#000">***</text>
<text x="75.88" y="1066" font-size="18" font-weight="bold" text-anchor="middle" transform="rotate(-90 75.88 1066)" fill="#000">Relative Expression of</text>
<text x="97.68" y="1066" font-size="18" font-weight="bold" text-anchor="middle" transform="rotate(-90 97.68 1066)" fill="#000">ET-1</text>
<text x="166.3" y="1221.8" font-size="19.3" font-weight="bold" text-anchor="end" transform="rotate(-45 166.3 1221.8)" fill="#000">Control</text>
<text x="216.1" y="1226.4" font-size="19.3" font-weight="bold" text-anchor="end" transform="rotate(-45 216.1 1226.4)" fill="#000">Model</text>
<text x="283" y="1215.7" font-size="19.3" font-weight="bold" text-anchor="end" transform="rotate(-45 283 1215.7)" fill="#000">50 µg/mLanserine</text>
<text x="339.3" y="1217.2" font-size="19.3" font-weight="bold" text-anchor="end" transform="rotate(-45 339.3 1217.2)" fill="#000">500 µg/mLanserine</text>
<rect x="519.6" y="1031.28" width="34.8" height="155.92" fill="#63625c" stroke="#4f4e4a" stroke-width="1.3"/>
<path d="M537 1030.68V1025.94M527.64 1025.94H546.36" stroke="#55544e" stroke-width="1.6" fill="none"/>
<rect x="574.3" y="1143.53" width="34.8" height="43.67" fill="#bcaf9b" stroke="#b3a386" stroke-width="1.3"/>
<path d="M591.7 1142.93V1140.88M582.34 1140.88H601.06" stroke="#b5a68c" stroke-width="1.6" fill="none"/>
<rect x="628.9" y="1106.22" width="34.8" height="80.98" fill="#a29282" stroke="#978775" stroke-width="1.3"/>
<path d="M646.3 1105.62V1100.4M636.94 1100.4H655.66" stroke="#9a8a79" stroke-width="1.6" fill="none"/>
<rect x="683.6" y="1059.26" width="34.8" height="127.94" fill="#dc8b57" stroke="#d87a42" stroke-width="1.3"/>
<path d="M701 1058.66V1055.34M691.64 1055.34H710.36" stroke="#dd8b55" stroke-width="1.6" fill="none"/>
<path d="M500.7 950.05V1190.2" stroke="#000" stroke-width="2.2" fill="none"/>
<path d="M490.2 1187.2H739.3" stroke="#000" stroke-width="2.2" fill="none"/>
<path d="M490.2 1108.15H500.7M490.2 1029.1H500.7M490.2 950.05H500.7" stroke="#000" stroke-width="2.2" fill="none"/>
<path d="M537 1187.2V1200.2M591.7 1187.2V1200.2M646.3 1187.2V1200.2M701 1187.2V1200.2" stroke="#000" stroke-width="2.2" fill="none"/>
<text x="488.5" y="1193.82" font-size="18.4" font-weight="bold" text-anchor="end" fill="#000">0.0</text>
<text x="488.5" y="1114.77" font-size="18.4" font-weight="bold" text-anchor="end" fill="#000">0.5</text>
<text x="488.5" y="1035.72" font-size="18.4" font-weight="bold" text-anchor="end" fill="#000">1.0</text>
<text x="488.5" y="956.67" font-size="18.4" font-weight="bold" text-anchor="end" fill="#000">1.5</text>
<text x="591.7" y="1132.4" font-size="20" text-anchor="middle" fill="#000">***</text>
<text x="648.8" y="1077.5" font-size="20" text-anchor="middle" fill="#000" stroke="#000" stroke-width="0.35">###</text>
<text x="646.3" y="1101.1" font-size="20" text-anchor="middle" fill="#000">***</text>
<text x="703.5" y="1011.4" font-size="20" text-anchor="middle" fill="#000" stroke="#000" stroke-width="0.35">&&&</text>
<text x="703.5" y="1033.1" font-size="20" text-anchor="middle" fill="#000" stroke="#000" stroke-width="0.35">###</text>
<text x="701" y="1054" font-size="20" text-anchor="middle" fill="#000">***</text>
<text x="431.84" y="1068" font-size="17.9" font-weight="bold" text-anchor="middle" transform="rotate(-90 431.84 1068)" fill="#000">Relative Expression of</text>
<text x="453.44" y="1068" font-size="17.9" font-weight="bold" text-anchor="middle" transform="rotate(-90 453.44 1068)" fill="#000">NOS3</text>
<text x="540.7" y="1219.8" font-size="19.4" font-weight="bold" text-anchor="end" transform="rotate(-45 540.7 1219.8)" fill="#000">Control</text>
<text x="597.7" y="1219.8" font-size="19.4" font-weight="bold" text-anchor="end" transform="rotate(-45 597.7 1219.8)" fill="#000">Model</text>
<text x="654.5" y="1216.7" font-size="19.4" font-weight="bold" text-anchor="end" transform="rotate(-45 654.5 1216.7)" fill="#000">50 µg/mLanserine</text>
<text x="713" y="1219" font-size="19.4" font-weight="bold" text-anchor="end" transform="rotate(-45 713 1219)" fill="#000">500 µg/mLanserine</text>
<rect x="861.5" y="1029.7" width="34.8" height="157.4" fill="#63625c" stroke="#4f4e4a" stroke-width="1.3"/>
<rect x="915.9" y="1142.04" width="34.8" height="45.06" fill="#bcaf9b" stroke="#b3a386" stroke-width="1.3"/>
<path d="M933.3 1141.44V1140.02M923.94 1140.02H942.66" stroke="#b5a68c" stroke-width="1.6" fill="none"/>
<rect x="970.6" y="1097.17" width="34.8" height="89.93" fill="#a29282" stroke="#978775" stroke-width="1.3"/>
<path d="M988 1096.57V1092.93M978.64 1092.93H997.36" stroke="#9a8a79" stroke-width="1.6" fill="none"/>
<rect x="1025.2" y="1065.09" width="34.8" height="122.01" fill="#dc8b57" stroke="#d87a42" stroke-width="1.3"/>
<path d="M1042.6 1064.49V1062.75M1033.24 1062.75H1051.96" stroke="#dd8b55" stroke-width="1.6" fill="none"/>
<path d="M842 950.1V1190.1" stroke="#000" stroke-width="2.2" fill="none"/>
<path d="M831.5 1187.1H1081.4" stroke="#000" stroke-width="2.2" fill="none"/>
<path d="M831.5 1108.1H842M831.5 1029.1H842M831.5 950.1H842" stroke="#000" stroke-width="2.2" fill="none"/>
<path d="M878.9 1187.1V1200.1M933.3 1187.1V1200.1M988 1187.1V1200.1M1042.6 1187.1V1200.1" stroke="#000" stroke-width="2.2" fill="none"/>
<text x="829" y="1193.72" font-size="18.4" font-weight="bold" text-anchor="end" fill="#000">0.0</text>
<text x="829" y="1114.72" font-size="18.4" font-weight="bold" text-anchor="end" fill="#000">0.5</text>
<text x="829" y="1035.72" font-size="18.4" font-weight="bold" text-anchor="end" fill="#000">1.0</text>
<text x="829" y="956.72" font-size="18.4" font-weight="bold" text-anchor="end" fill="#000">1.5</text>
<text x="933.3" y="1133.9" font-size="20" text-anchor="middle" fill="#000">***</text>
<text x="990.5" y="1065.7" font-size="20" text-anchor="middle" fill="#000" stroke="#000" stroke-width="0.35">###</text>
<text x="988" y="1089.5" font-size="20" text-anchor="middle" fill="#000">***</text>
<text x="1045.1" y="1008.7" font-size="20" text-anchor="middle" fill="#000" stroke="#000" stroke-width="0.35">&&&</text>
<text x="1045.1" y="1033.1" font-size="20" text-anchor="middle" fill="#000" stroke="#000" stroke-width="0.35">###</text>
<text x="1042.6" y="1058.1" font-size="20" text-anchor="middle" fill="#000">***</text>
<text x="773.48" y="1067.5" font-size="18" font-weight="bold" text-anchor="middle" transform="rotate(-90 773.48 1067.5)" fill="#000">Relative Expression of</text>
<text x="795.18" y="1067.5" font-size="18" font-weight="bold" text-anchor="middle" transform="rotate(-90 795.18 1067.5)" fill="#000">THBD</text>
<text x="893.3" y="1217.1" font-size="23.7" font-weight="bold" text-anchor="end" transform="rotate(-45 893.3 1217.1)" fill="#000">Control</text>
<text x="954.8" y="1217.1" font-size="23.7" font-weight="bold" text-anchor="end" transform="rotate(-45 954.8 1217.1)" fill="#000">Model</text>
<text x="1011" y="1217.9" font-size="23.7" font-weight="bold" text-anchor="end" transform="rotate(-45 1011 1217.9)" fill="#000">50 µg/mLanserine</text>
<text x="1069.6" y="1217.9" font-size="23.7" font-weight="bold" text-anchor="end" transform="rotate(-45 1069.6 1217.9)" fill="#000">500 µg/mLanserine</text>
<rect x="1199.4" y="1032.29" width="34.8" height="156.51" fill="#63625c" stroke="#4f4e4a" stroke-width="1.3"/>
<path d="M1216.8 1031.69V1020.32M1207.44 1020.32H1226.16" stroke="#55544e" stroke-width="1.6" fill="none"/>
<rect x="1254" y="1151.98" width="34.8" height="36.82" fill="#bcaf9b" stroke="#b3a386" stroke-width="1.3"/>
<path d="M1271.4 1151.38V1149.48M1262.04 1149.48H1280.76" stroke="#b5a68c" stroke-width="1.6" fill="none"/>
<rect x="1308.5" y="1100.5" width="34.8" height="88.3" fill="#a29282" stroke="#978775" stroke-width="1.3"/>
<path d="M1325.9 1099.9V1094.38M1316.54 1094.38H1335.26" stroke="#9a8a79" stroke-width="1.6" fill="none"/>
<rect x="1363.3" y="1071.45" width="34.8" height="117.35" fill="#dc8b57" stroke="#d87a42" stroke-width="1.3"/>
<path d="M1380.7 1070.85V1068.48M1371.34 1068.48H1390.06" stroke="#dd8b55" stroke-width="1.6" fill="none"/>
<path d="M1180.7 951.95V1191.8" stroke="#000" stroke-width="2.2" fill="none"/>
<path d="M1170.2 1188.8H1419.3" stroke="#000" stroke-width="2.2" fill="none"/>
<path d="M1170.2 1109.85H1180.7M1170.2 1030.9H1180.7M1170.2 951.95H1180.7" stroke="#000" stroke-width="2.2" fill="none"/>
<path d="M1216.8 1188.8V1201.8M1271.4 1188.8V1201.8M1325.9 1188.8V1201.8M1380.7 1188.8V1201.8" stroke="#000" stroke-width="2.2" fill="none"/>
<text x="1168.2" y="1195.42" font-size="18.4" font-weight="bold" text-anchor="end" fill="#000">0.0</text>
<text x="1168.2" y="1116.47" font-size="18.4" font-weight="bold" text-anchor="end" fill="#000">0.5</text>
<text x="1168.2" y="1037.52" font-size="18.4" font-weight="bold" text-anchor="end" fill="#000">1.0</text>
<text x="1168.2" y="958.57" font-size="18.4" font-weight="bold" text-anchor="end" fill="#000">1.5</text>
<text x="1271.4" y="1145.5" font-size="20" text-anchor="middle" fill="#000">***</text>
<text x="1328.4" y="1068.4" font-size="20" text-anchor="middle" fill="#000" stroke="#000" stroke-width="0.35">###</text>
<text x="1325.9" y="1094" font-size="20" text-anchor="middle" fill="#000">***</text>
<text x="1383.2" y="1016.1" font-size="20" text-anchor="middle" fill="#000" stroke="#000" stroke-width="0.35">&&</text>
<text x="1383.2" y="1038.3" font-size="20" text-anchor="middle" fill="#000" stroke="#000" stroke-width="0.35">###</text>
<text x="1380.7" y="1061.3" font-size="20" text-anchor="middle" fill="#000">***</text>
<text x="1111.84" y="1069.7" font-size="17.9" font-weight="bold" text-anchor="middle" transform="rotate(-90 1111.84 1069.7)" fill="#000">Relative Expression of</text>
<text x="1133.44" y="1069.7" font-size="17.9" font-weight="bold" text-anchor="middle" transform="rotate(-90 1133.44 1069.7)" fill="#000">TFPI</text>
<text x="1227.2" y="1219.6" font-size="23.7" font-weight="bold" text-anchor="end" transform="rotate(-45 1227.2 1219.6)" fill="#000">Control</text>
<text x="1286.6" y="1220.4" font-size="23.7" font-weight="bold" text-anchor="end" transform="rotate(-45 1286.6 1220.4)" fill="#000">Model</text>
<text x="1341.1" y="1219.6" font-size="23.7" font-weight="bold" text-anchor="end" transform="rotate(-45 1341.1 1219.6)" fill="#000">50 µg/mLanserine</text>
<text x="1405.3" y="1219.6" font-size="23.7" font-weight="bold" text-anchor="end" transform="rotate(-45 1405.3 1219.6)" fill="#000">500 µg/mLanserine</text>
<rect x="519.95" y="1645.23" width="34.1" height="43.27" fill="#63625c" stroke="#4f4e4a" stroke-width="1.3"/>
<path d="M537 1644.63V1643.24M527.82 1643.24H546.18" stroke="#55544e" stroke-width="1.6" fill="none"/>
<rect x="573.75" y="1482.21" width="34.1" height="206.29" fill="#bcaf9b" stroke="#b3a386" stroke-width="1.3"/>
<path d="M590.8 1481.61V1473.76M581.62 1473.76H599.98" stroke="#b5a68c" stroke-width="1.6" fill="none"/>
<rect x="627.65" y="1546.63" width="34.1" height="141.87" fill="#a29282" stroke="#978775" stroke-width="1.3"/>
<path d="M644.7 1546.03V1542.57M635.52 1542.57H653.88" stroke="#9a8a79" stroke-width="1.6" fill="none"/>
<rect x="681.45" y="1615.9" width="34.1" height="72.6" fill="#dc8b57" stroke="#d87a42" stroke-width="1.3"/>
<path d="M698.5 1615.3V1610.22M689.32 1610.22H707.68" stroke="#dd8b55" stroke-width="1.6" fill="none"/>
<path d="M501.5 1454V1691.5" stroke="#000" stroke-width="2.2" fill="none"/>
<path d="M490.6 1688.5H736.4" stroke="#000" stroke-width="2.2" fill="none"/>
<path d="M490.6 1642.32H501.5M490.6 1596.14H501.5M490.6 1549.96H501.5M490.6 1503.78H501.5" stroke="#000" stroke-width="2.2" fill="none"/>
<path d="M490.6 1503.78H501.5" stroke="#000" stroke-width="4" fill="none"/>
<text x="487.8" y="1694.55" font-size="16.8" font-weight="bold" text-anchor="end" fill="#000">0.0</text>
<text x="487.8" y="1648.37" font-size="16.8" font-weight="bold" text-anchor="end" fill="#000">0.2</text>
<text x="487.8" y="1602.19" font-size="16.8" font-weight="bold" text-anchor="end" fill="#000">0.4</text>
<text x="487.8" y="1556.01" font-size="16.8" font-weight="bold" text-anchor="end" fill="#000">0.6</text>
<text x="487.8" y="1509.83" font-size="16.8" font-weight="bold" text-anchor="end" fill="#000">0.8</text>
<text x="487.8" y="1463.65" font-size="16.8" font-weight="bold" text-anchor="end" fill="#000">1.0</text>
<text x="590.8" y="1475.41" font-size="17" text-anchor="middle" fill="#000">***</text>
<text x="645.2" y="1523.25" font-size="19.3" text-anchor="middle" fill="#000" stroke="#000" stroke-width="0.35">###</text>
<text x="644.7" y="1545.01" font-size="17" text-anchor="middle" fill="#000">***</text>
<text x="699" y="1571.95" font-size="19.3" text-anchor="middle" fill="#000" stroke="#000" stroke-width="0.35">&&&</text>
<text x="699" y="1595.05" font-size="19.3" text-anchor="middle" fill="#000" stroke="#000" stroke-width="0.35">###</text>
<text x="698.5" y="1611.41" font-size="17" text-anchor="middle" fill="#000">*</text>
<text x="434.71" y="1571" font-size="17.8" font-weight="bold" text-anchor="middle" transform="rotate(-90 434.71 1571)" fill="#000">Relative expression of</text>
<text x="455.11" y="1571" font-size="17.8" font-weight="bold" text-anchor="middle" transform="rotate(-90 455.11 1571)" fill="#000">protein ET-1</text>
<text x="547" y="1709.7" font-size="19.6" font-weight="bold" text-anchor="end" transform="rotate(-45 547 1709.7)" fill="#000">Control</text>
<text x="605.9" y="1709.7" font-size="19.6" font-weight="bold" text-anchor="end" transform="rotate(-45 605.9 1709.7)" fill="#000">Model</text>
<text x="665" y="1709.7" font-size="19.6" font-weight="bold" text-anchor="end" transform="rotate(-45 665 1709.7)" fill="#000">50 µg/mLanserine</text>
<text x="725.4" y="1710.4" font-size="19.6" font-weight="bold" text-anchor="end" transform="rotate(-45 725.4 1710.4)" fill="#000">500 µg/mLanserine</text>
<rect x="860.9" y="1479.21" width="34.2" height="209.29" fill="#63625c" stroke="#4f4e4a" stroke-width="1.3"/>
<path d="M878 1478.61V1476.3M868.8 1476.3H887.2" stroke="#55544e" stroke-width="1.6" fill="none"/>
<rect x="914.6" y="1621.22" width="34.2" height="67.28" fill="#bcaf9b" stroke="#b3a386" stroke-width="1.3"/>
<path d="M931.7 1620.62V1614.38M922.5 1614.38H940.9" stroke="#b5a68c" stroke-width="1.6" fill="none"/>
<rect x="968.3" y="1583.12" width="34.2" height="105.38" fill="#a29282" stroke="#978775" stroke-width="1.3"/>
<path d="M985.4 1582.52V1579.75M976.2 1579.75H994.6" stroke="#9a8a79" stroke-width="1.6" fill="none"/>
<rect x="1022.1" y="1536.71" width="34.2" height="151.79" fill="#dc8b57" stroke="#d87a42" stroke-width="1.3"/>
<path d="M1039.2 1536.11V1531.72M1030 1531.72H1048.4" stroke="#dd8b55" stroke-width="1.6" fill="none"/>
<path d="M842.2 1454V1691.5" stroke="#000" stroke-width="2.2" fill="none"/>
<path d="M831.6 1688.5H1077.4" stroke="#000" stroke-width="2.2" fill="none"/>
<path d="M831.6 1642.32H842.2M831.6 1596.14H842.2M831.6 1549.96H842.2M831.6 1503.78H842.2" stroke="#000" stroke-width="2.2" fill="none"/>
<path d="M831.6 1503.78H842.2" stroke="#000" stroke-width="4" fill="none"/>
<text x="829.9" y="1694.55" font-size="16.8" font-weight="bold" text-anchor="end" fill="#000">0.0</text>
<text x="829.9" y="1648.37" font-size="16.8" font-weight="bold" text-anchor="end" fill="#000">0.2</text>
<text x="829.9" y="1602.19" font-size="16.8" font-weight="bold" text-anchor="end" fill="#000">0.4</text>
<text x="829.9" y="1556.01" font-size="16.8" font-weight="bold" text-anchor="end" fill="#000">0.6</text>
<text x="829.9" y="1509.83" font-size="16.8" font-weight="bold" text-anchor="end" fill="#000">0.8</text>
<text x="829.9" y="1463.65" font-size="16.8" font-weight="bold" text-anchor="end" fill="#000">1.0</text>
<text x="931.7" y="1615.91" font-size="17" text-anchor="middle" fill="#000">***</text>
<text x="985.9" y="1558.85" font-size="19.3" text-anchor="middle" fill="#000" stroke="#000" stroke-width="0.35">###</text>
<text x="985.4" y="1580.81" font-size="17" text-anchor="middle" fill="#000">***</text>
<text x="1039.7" y="1490.85" font-size="19.3" text-anchor="middle" fill="#000" stroke="#000" stroke-width="0.35">&&&</text>
<text x="1039.7" y="1515.35" font-size="19.3" text-anchor="middle" fill="#000" stroke="#000" stroke-width="0.35">###</text>
<text x="1039.2" y="1533.71" font-size="17" text-anchor="middle" fill="#000">***</text>
<text x="775.64" y="1571" font-size="17.6" font-weight="bold" text-anchor="middle" transform="rotate(-90 775.64 1571)" fill="#000">Relative expression of</text>
<text x="797.14" y="1571" font-size="17.6" font-weight="bold" text-anchor="middle" transform="rotate(-90 797.14 1571)" fill="#000">protein NOS3</text>
<text x="887.3" y="1707.5" font-size="19.7" font-weight="bold" text-anchor="end" transform="rotate(-45 887.3 1707.5)" fill="#000">Control</text>
<text x="946.1" y="1707.5" font-size="19.7" font-weight="bold" text-anchor="end" transform="rotate(-45 946.1 1707.5)" fill="#000">Model</text>
<text x="1004.9" y="1706.8" font-size="19.7" font-weight="bold" text-anchor="end" transform="rotate(-45 1004.9 1706.8)" fill="#000">50 µg/mLanserine</text>
<text x="1066.1" y="1708.2" font-size="19.7" font-weight="bold" text-anchor="end" transform="rotate(-45 1066.1 1708.2)" fill="#000">500 µg/mLanserine</text>
<rect x="1201.65" y="1498.91" width="32.3" height="190.19" fill="#63625c" stroke="#4f4e4a" stroke-width="1.3"/>
<path d="M1217.8 1498.31V1495.9M1209.09 1495.9H1226.51" stroke="#55544e" stroke-width="1.6" fill="none"/>
<rect x="1251.85" y="1637.07" width="32.3" height="52.03" fill="#bcaf9b" stroke="#b3a386" stroke-width="1.3"/>
<path d="M1268 1636.47V1630.77M1259.29 1630.77H1276.71" stroke="#b5a68c" stroke-width="1.6" fill="none"/>
<rect x="1302.45" y="1596.28" width="32.3" height="92.82" fill="#a29282" stroke="#978775" stroke-width="1.3"/>
<path d="M1318.6 1595.68V1591.73M1309.89 1591.73H1327.31" stroke="#9a8a79" stroke-width="1.6" fill="none"/>
<rect x="1352.95" y="1573.03" width="32.3" height="116.07" fill="#dc8b57" stroke="#d87a42" stroke-width="1.3"/>
<path d="M1369.1 1572.43V1568.48M1360.39 1568.48H1377.81" stroke="#dd8b55" stroke-width="1.6" fill="none"/>
<path d="M1184 1469.8V1692.1" stroke="#000" stroke-width="2.2" fill="none"/>
<path d="M1173.8 1689.1H1404.9" stroke="#000" stroke-width="2.2" fill="none"/>
<path d="M1173.8 1645.24H1184M1173.8 1601.38H1184M1173.8 1557.52H1184M1173.8 1513.66H1184M1173.8 1469.8H1184" stroke="#000" stroke-width="2.2" fill="none"/>
<text x="1172.2" y="1695.15" font-size="16.8" font-weight="bold" text-anchor="end" fill="#000">0.0</text>
<text x="1172.2" y="1651.29" font-size="16.8" font-weight="bold" text-anchor="end" fill="#000">0.2</text>
<text x="1172.2" y="1607.43" font-size="16.8" font-weight="bold" text-anchor="end" fill="#000">0.4</text>
<text x="1172.2" y="1563.57" font-size="16.8" font-weight="bold" text-anchor="end" fill="#000">0.6</text>
<text x="1172.2" y="1519.71" font-size="16.8" font-weight="bold" text-anchor="end" fill="#000">0.8</text>
<text x="1172.2" y="1475.85" font-size="16.8" font-weight="bold" text-anchor="end" fill="#000">1.0</text>
<text x="1268" y="1632.91" font-size="17" text-anchor="middle" fill="#000">***</text>
<text x="1319.1" y="1572.58" font-size="18" text-anchor="middle" fill="#000" stroke="#000" stroke-width="0.35">###</text>
<text x="1318.6" y="1594.41" font-size="17" text-anchor="middle" fill="#000">***</text>
<text x="1369.6" y="1532.48" font-size="18" text-anchor="middle" fill="#000" stroke="#000" stroke-width="0.35">&</text>
<text x="1369.6" y="1551.78" font-size="18" text-anchor="middle" fill="#000" stroke="#000" stroke-width="0.35">###</text>
<text x="1369.1" y="1571.71" font-size="17" text-anchor="middle" fill="#000">***</text>
<text x="1121.38" y="1579" font-size="16.6" font-weight="bold" text-anchor="middle" transform="rotate(-90 1121.38 1579)" fill="#000">Relative expression of</text>
<text x="1142.38" y="1579" font-size="16.6" font-weight="bold" text-anchor="middle" transform="rotate(-90 1142.38 1579)" fill="#000">protein THBD</text>
<text x="1224.9" y="1709.6" font-size="18.5" font-weight="bold" text-anchor="end" transform="rotate(-45 1224.9 1709.6)" fill="#000">Control</text>
<text x="1276.5" y="1709.6" font-size="18.5" font-weight="bold" text-anchor="end" transform="rotate(-45 1276.5 1709.6)" fill="#000">Model</text>
<text x="1327.1" y="1710.3" font-size="18.5" font-weight="bold" text-anchor="end" transform="rotate(-45 1327.1 1710.3)" fill="#000">50 µg/mLanserine</text>
<text x="1381.3" y="1709.6" font-size="18.5" font-weight="bold" text-anchor="end" transform="rotate(-45 1381.3 1709.6)" fill="#000">500 µg/mLanserine</text>
<rect x="1543.7" y="1536.86" width="32.2" height="149.44" fill="#63625c" stroke="#4f4e4a" stroke-width="1.3"/>
<path d="M1559.8 1536.26V1529.97M1551.12 1529.97H1568.48" stroke="#55544e" stroke-width="1.6" fill="none"/>
<rect x="1593.9" y="1647.89" width="32.2" height="38.41" fill="#bcaf9b" stroke="#b3a386" stroke-width="1.3"/>
<path d="M1610 1647.29V1641.74M1601.32 1641.74H1618.68" stroke="#b5a68c" stroke-width="1.6" fill="none"/>
<rect x="1644.3" y="1625.39" width="32.2" height="60.91" fill="#a29282" stroke="#978775" stroke-width="1.3"/>
<path d="M1660.4 1624.79V1620.26M1651.72 1620.26H1669.08" stroke="#9a8a79" stroke-width="1.6" fill="none"/>
<rect x="1694.7" y="1579.66" width="32.2" height="106.64" fill="#dc8b57" stroke="#d87a42" stroke-width="1.3"/>
<path d="M1710.8 1579.06V1574.83M1702.12 1574.83H1719.48" stroke="#dd8b55" stroke-width="1.6" fill="none"/>
<path d="M1526.3 1467.15V1689.3" stroke="#000" stroke-width="2.2" fill="none"/>
<path d="M1516.1 1686.3H1746.2" stroke="#000" stroke-width="2.2" fill="none"/>
<path d="M1516.1 1613.25H1526.3M1516.1 1540.2H1526.3M1516.1 1467.15H1526.3" stroke="#000" stroke-width="2.2" fill="none"/>
<text x="1514.6" y="1692.35" font-size="16.8" font-weight="bold" text-anchor="end" fill="#000">0.0</text>
<text x="1514.6" y="1619.3" font-size="16.8" font-weight="bold" text-anchor="end" fill="#000">0.5</text>
<text x="1514.6" y="1546.25" font-size="16.8" font-weight="bold" text-anchor="end" fill="#000">1.0</text>
<text x="1514.6" y="1473.2" font-size="16.8" font-weight="bold" text-anchor="end" fill="#000">1.5</text>
<text x="1610" y="1644.31" font-size="17" text-anchor="middle" fill="#000">***</text>
<text x="1660.9" y="1604.38" font-size="18" text-anchor="middle" fill="#000" stroke="#000" stroke-width="0.35">#</text>
<text x="1660.4" y="1622.81" font-size="17" text-anchor="middle" fill="#000">***</text>
<text x="1711.3" y="1531.18" font-size="18" text-anchor="middle" fill="#000" stroke="#000" stroke-width="0.35">&&&</text>
<text x="1711.3" y="1552.28" font-size="18" text-anchor="middle" fill="#000" stroke="#000" stroke-width="0.35">###</text>
<text x="1710.8" y="1577.51" font-size="17" text-anchor="middle" fill="#000">**</text>
<text x="1463.21" y="1576" font-size="16.7" font-weight="bold" text-anchor="middle" transform="rotate(-90 1463.21 1576)" fill="#000">Relative expression of</text>
<text x="1484.71" y="1576" font-size="16.7" font-weight="bold" text-anchor="middle" transform="rotate(-90 1484.71 1576)" fill="#000">protein TFPI</text>
<text x="1570.5" y="1706" font-size="18.5" font-weight="bold" text-anchor="end" transform="rotate(-45 1570.5 1706)" fill="#000">Control</text>
<text x="1625.9" y="1705.3" font-size="18.5" font-weight="bold" text-anchor="end" transform="rotate(-45 1625.9 1705.3)" fill="#000">Model</text>
<text x="1674.1" y="1704.6" font-size="18.5" font-weight="bold" text-anchor="end" transform="rotate(-45 1674.1 1704.6)" fill="#000">50 µg/mLanserine</text>
<text x="1725.2" y="1706" font-size="18.5" font-weight="bold" text-anchor="end" transform="rotate(-45 1725.2 1706)" fill="#000">500 µg/mLanserine</text>
<text x="1.3" y="30.3" font-size="37.5" font-weight="bold" fill="#231f20">A</text>
<text x="3.2" y="437.2" font-size="37" font-weight="bold" fill="#231f20">B</text>
<text x="481" y="437.2" font-size="37.5" font-weight="bold" fill="#231f20">C</text>
<text x="765" y="437" font-size="38" font-weight="bold" fill="#231f20">D</text>
<text x="5" y="910.3" font-size="36" font-weight="bold" fill="#231f20">E</text>
<text x="8" y="1445.6" font-size="38.5" font-weight="bold" fill="#231f20">F</text>
</svg>
</body></html>
